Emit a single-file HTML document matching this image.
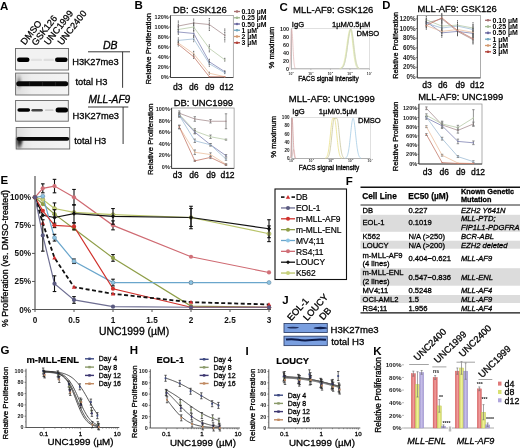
<!DOCTYPE html>
<html><head><meta charset="utf-8"><title>Figure</title>
<style>html,body{margin:0;padding:0;background:#fff;width:520px;height:448px;overflow:hidden;font-family:"Liberation Sans",sans-serif}svg{display:block;filter:blur(0.4px)}</style>
</head><body>
<svg width="520" height="448" viewBox="0 0 520 448" font-family='"Liberation Sans", sans-serif'><defs>
<linearGradient id="bgA" x1="0" y1="0" x2="1" y2="0"><stop offset="0" stop-color="#dcdcdc"/><stop offset="0.3" stop-color="#eeeeee"/><stop offset="1" stop-color="#f4f4f4"/></linearGradient>
<linearGradient id="kR" x1="0" y1="0" x2="1" y2="0"><stop offset="0" stop-color="#d85c5c"/><stop offset="0.5" stop-color="#f0a0a0"/><stop offset="1" stop-color="#d85c5c"/></linearGradient>
<linearGradient id="kY" x1="0" y1="0" x2="1" y2="0"><stop offset="0" stop-color="#cfd860"/><stop offset="0.5" stop-color="#eef098"/><stop offset="1" stop-color="#cfd860"/></linearGradient>
<linearGradient id="kP" x1="0" y1="0" x2="1" y2="0"><stop offset="0" stop-color="#a096d0"/><stop offset="0.5" stop-color="#c8c0ea"/><stop offset="1" stop-color="#a096d0"/></linearGradient>
<linearGradient id="smC" x1="0" y1="0" x2="0" y2="1"><stop offset="0" stop-color="#111"/><stop offset="0.5" stop-color="#333"/><stop offset="1" stop-color="#777" stop-opacity="0.6"/></linearGradient>
<filter id="fb" x="-50%" y="-50%" width="200%" height="200%"><feGaussianBlur stdDeviation="0.8"/></filter>
<radialGradient id="smA"><stop offset="0" stop-color="#777"/><stop offset="1" stop-color="#ccc" stop-opacity="0"/></radialGradient>
<radialGradient id="smB"><stop offset="0" stop-color="#111"/><stop offset="0.6" stop-color="#444" stop-opacity="0.8"/><stop offset="1" stop-color="#999" stop-opacity="0"/></radialGradient>
</defs>
<text x="0" y="9.5" font-size="11.5" font-weight="bold" font-style="normal" text-anchor="start" fill="#000">A</text>
<text x="25" y="45.5" font-size="9.3" font-weight="normal" font-style="normal" text-anchor="start" fill="#000" transform="rotate(-52 25 45.5)" stroke="#000" stroke-width="0.25">DMSO</text>
<text x="36" y="46.2" font-size="9.3" font-weight="normal" font-style="normal" text-anchor="start" fill="#000" transform="rotate(-52 36 46.2)" stroke="#000" stroke-width="0.25">GSK126</text>
<text x="48.5" y="45.7" font-size="9.3" font-weight="normal" font-style="normal" text-anchor="start" fill="#000" transform="rotate(-52 48.5 45.7)" stroke="#000" stroke-width="0.25">UNC1999</text>
<text x="62" y="45.7" font-size="9.3" font-weight="normal" font-style="normal" text-anchor="start" fill="#000" transform="rotate(-52 62 45.7)" stroke="#000" stroke-width="0.25">UNC2400</text>
<rect x="15.5" y="48.5" width="53" height="21.5" fill="#f2f2f2" stroke="#666" stroke-width="0.9"/>
<rect x="17" y="57.5" width="12.5" height="4.4" rx="2.2" fill="#000" opacity="1"/>
<rect x="55" y="57.5" width="12.6" height="4.4" rx="2.2" fill="#000" opacity="1"/>
<rect x="31" y="58.7" width="11" height="2.4" rx="1.2" fill="#e2e2e2" opacity="1"/>
<rect x="43.5" y="58.7" width="10.5" height="2.4" rx="1.2" fill="#dedede" opacity="1"/>
<rect x="15.6" y="73.1" width="53.1" height="21.9" fill="url(#bgA)" stroke="#666" stroke-width="0.9"/>
<ellipse cx="19" cy="82" rx="4.5" ry="10" fill="url(#smA)"/>
<rect x="16.2" y="81.3" width="52" height="5" rx="2.5" fill="#080808" opacity="1"/>
<rect x="28.9" y="81.8" width="1.2" height="4" fill="#333" opacity="0.5"/>
<rect x="41.9" y="81.8" width="1.2" height="4" fill="#333" opacity="0.5"/>
<rect x="54.9" y="81.8" width="1.2" height="4" fill="#333" opacity="0.5"/>
<rect x="15.6" y="100.5" width="52.7" height="20.7" fill="#f2f2f2" stroke="#666" stroke-width="0.9"/>
<rect x="17.4" y="108.2" width="12.7" height="3.6" rx="1.8" fill="#000" opacity="1"/>
<rect x="31.4" y="108.9" width="11.4" height="2.6" rx="1.3" fill="#444" opacity="1"/>
<rect x="45" y="109.3" width="8.6" height="1.8" rx="0.9" fill="#cfcfcf" opacity="1"/>
<rect x="55.6" y="107.5" width="12.4" height="5" rx="2.5" fill="#000" opacity="1"/>
<rect x="16.2" y="127.5" width="53.5" height="21.5" fill="url(#bgA)" stroke="#666" stroke-width="0.9"/>
<path d="M16.8,138 L23,138 Q22,143 21,148.6 L16.8,148.6 Z" fill="url(#smC)" filter="url(#fb)"/>
<rect x="16.6" y="136.9" width="52.6" height="3.8" rx="1.9" fill="#080808" opacity="1"/>
<text x="72.2" y="64.8" font-size="9.3" font-weight="normal" font-style="normal" text-anchor="start" fill="#000" stroke="#000" stroke-width="0.3">H3K27me3</text>
<text x="75.4" y="85.2" font-size="9.3" font-weight="normal" font-style="normal" text-anchor="start" fill="#000" stroke="#000" stroke-width="0.3">total H3</text>
<text x="72.5" y="119.3" font-size="9.3" font-weight="normal" font-style="normal" text-anchor="start" fill="#000" stroke="#000" stroke-width="0.3">H3K27me3</text>
<text x="74.2" y="144.3" font-size="9.3" font-weight="normal" font-style="normal" text-anchor="start" fill="#000" stroke="#000" stroke-width="0.3">total H3</text>
<text x="117.5" y="48.8" font-size="10.5" font-weight="normal" font-style="italic" text-anchor="end" fill="#000" stroke="#000" stroke-width="0.3">DB</text>
<line x1="88" y1="51.8" x2="130" y2="51.8" stroke="#222" stroke-width="0.9"/>
<line x1="122.6" y1="51.8" x2="122.6" y2="87.8" stroke="#222" stroke-width="0.9"/>
<text x="130.3" y="102.7" font-size="10.2" font-weight="normal" font-style="italic" text-anchor="end" fill="#000" stroke="#000" stroke-width="0.3">MLL-AF9</text>
<line x1="88" y1="107" x2="128.3" y2="107" stroke="#222" stroke-width="0.9"/>
<line x1="123.1" y1="107" x2="123.1" y2="144" stroke="#222" stroke-width="0.9"/>
<text x="134.5" y="9.3" font-size="11.5" font-weight="bold" font-style="normal" text-anchor="start" fill="#000">B</text>
<rect x="170.5" y="15.5" width="62.8" height="62" fill="none" stroke="#8a8a8a" stroke-width="0.7"/>
<line x1="170.5" y1="15.5" x2="170.5" y2="77.5" stroke="#333" stroke-width="0.9"/>
<line x1="170.5" y1="77.5" x2="233.3" y2="77.5" stroke="#333" stroke-width="0.9"/>
<text x="168.7" y="78.7" font-size="5.5" font-weight="bold" font-style="normal" text-anchor="end" fill="#222">0%</text>
<line x1="169" y1="76.7" x2="170.5" y2="76.7" stroke="#333" stroke-width="0.6"/>
<text x="168.7" y="68.76" font-size="5.5" font-weight="bold" font-style="normal" text-anchor="end" fill="#222">20%</text>
<line x1="169" y1="66.76" x2="170.5" y2="66.76" stroke="#333" stroke-width="0.6"/>
<text x="168.7" y="58.82" font-size="5.5" font-weight="bold" font-style="normal" text-anchor="end" fill="#222">40%</text>
<line x1="169" y1="56.82" x2="170.5" y2="56.82" stroke="#333" stroke-width="0.6"/>
<text x="168.7" y="48.88" font-size="5.5" font-weight="bold" font-style="normal" text-anchor="end" fill="#222">60%</text>
<line x1="169" y1="46.88" x2="170.5" y2="46.88" stroke="#333" stroke-width="0.6"/>
<text x="168.7" y="38.94" font-size="5.5" font-weight="bold" font-style="normal" text-anchor="end" fill="#222">80%</text>
<line x1="169" y1="36.94" x2="170.5" y2="36.94" stroke="#333" stroke-width="0.6"/>
<text x="168.7" y="29" font-size="5.5" font-weight="bold" font-style="normal" text-anchor="end" fill="#222">100%</text>
<line x1="169" y1="27" x2="170.5" y2="27" stroke="#333" stroke-width="0.6"/>
<text x="168.7" y="19.06" font-size="5.5" font-weight="bold" font-style="normal" text-anchor="end" fill="#222">120%</text>
<line x1="169" y1="17.06" x2="170.5" y2="17.06" stroke="#333" stroke-width="0.6"/>
<polyline points="178.30,26.01 193.70,23.02 209.30,24.52 224.80,35.45" stroke="#a89092" stroke-width="0.8" fill="none"/>
<polyline points="178.30,29.49 193.70,27.00 209.30,48.37 224.80,59.80" stroke="#b8caa8" stroke-width="0.8" fill="none"/>
<polyline points="178.30,31.97 193.70,33.46 209.30,61.79 224.80,71.73" stroke="#8084b4" stroke-width="0.8" fill="none"/>
<polyline points="178.30,40.42 193.70,38.93 209.30,63.78 224.80,72.72" stroke="#a0bcd6" stroke-width="0.8" fill="none"/>
<polyline points="178.30,42.90 193.70,53.84 209.30,73.22 224.80,76.70" stroke="#ecc0a0" stroke-width="0.8" fill="none"/>
<polyline points="178.30,44.40 193.70,56.82 209.30,76.70 224.80,76.70" stroke="#c47a6a" stroke-width="0.8" fill="none"/>
<line x1="178.3" y1="20.539" x2="178.3" y2="31.473" stroke="#555" stroke-width="1" stroke-dasharray="1.2,0.5"/>
<line x1="193.7" y1="18.551" x2="193.7" y2="27.497" stroke="#555" stroke-width="1" stroke-dasharray="1.2,0.5"/>
<line x1="209.3" y1="18.054" x2="209.3" y2="30.976" stroke="#555" stroke-width="1" stroke-dasharray="1.2,0.5"/>
<line x1="224.8" y1="28.491" x2="224.8" y2="42.407" stroke="#555" stroke-width="1" stroke-dasharray="1.2,0.5"/>
<rect x="177.7" y="25.406" width="1.2" height="1.2" fill="#a89092" stroke="none" stroke-width="1"/>
<rect x="193.1" y="22.424" width="1.2" height="1.2" fill="#a89092" stroke="none" stroke-width="1"/>
<rect x="208.7" y="23.915" width="1.2" height="1.2" fill="#a89092" stroke="none" stroke-width="1"/>
<rect x="224.2" y="34.849" width="1.2" height="1.2" fill="#a89092" stroke="none" stroke-width="1"/>
<line x1="178.3" y1="25.509" x2="178.3" y2="33.461" stroke="#555" stroke-width="1" stroke-dasharray="1.2,0.5"/>
<line x1="193.7" y1="23.024" x2="193.7" y2="30.976" stroke="#555" stroke-width="1" stroke-dasharray="1.2,0.5"/>
<line x1="209.3" y1="44.395" x2="209.3" y2="52.347" stroke="#555" stroke-width="1" stroke-dasharray="1.2,0.5"/>
<line x1="224.8" y1="57.814" x2="224.8" y2="61.79" stroke="#555" stroke-width="1" stroke-dasharray="1.2,0.5"/>
<rect x="177.7" y="28.885" width="1.2" height="1.2" fill="#b8caa8" stroke="none" stroke-width="1"/>
<rect x="193.1" y="26.4" width="1.2" height="1.2" fill="#b8caa8" stroke="none" stroke-width="1"/>
<rect x="208.7" y="47.771" width="1.2" height="1.2" fill="#b8caa8" stroke="none" stroke-width="1"/>
<rect x="224.2" y="59.202" width="1.2" height="1.2" fill="#b8caa8" stroke="none" stroke-width="1"/>
<line x1="178.3" y1="28.988" x2="178.3" y2="34.952" stroke="#555" stroke-width="1" stroke-dasharray="1.2,0.5"/>
<line x1="193.7" y1="29.485" x2="193.7" y2="37.437" stroke="#555" stroke-width="1" stroke-dasharray="1.2,0.5"/>
<line x1="209.3" y1="58.808" x2="209.3" y2="64.772" stroke="#555" stroke-width="1" stroke-dasharray="1.2,0.5"/>
<line x1="224.8" y1="70.239" x2="224.8" y2="73.221" stroke="#555" stroke-width="1" stroke-dasharray="1.2,0.5"/>
<rect x="177.7" y="31.37" width="1.2" height="1.2" fill="#8084b4" stroke="none" stroke-width="1"/>
<rect x="193.1" y="32.861" width="1.2" height="1.2" fill="#8084b4" stroke="none" stroke-width="1"/>
<rect x="208.7" y="61.19" width="1.2" height="1.2" fill="#8084b4" stroke="none" stroke-width="1"/>
<rect x="224.2" y="71.13" width="1.2" height="1.2" fill="#8084b4" stroke="none" stroke-width="1"/>
<line x1="178.3" y1="37.437" x2="178.3" y2="43.401" stroke="#555" stroke-width="1" stroke-dasharray="1.2,0.5"/>
<line x1="193.7" y1="35.449" x2="193.7" y2="42.407" stroke="#555" stroke-width="1" stroke-dasharray="1.2,0.5"/>
<line x1="209.3" y1="60.796" x2="209.3" y2="66.76" stroke="#555" stroke-width="1" stroke-dasharray="1.2,0.5"/>
<line x1="224.8" y1="71.233" x2="224.8" y2="74.215" stroke="#555" stroke-width="1" stroke-dasharray="1.2,0.5"/>
<rect x="177.7" y="39.819" width="1.2" height="1.2" fill="#a0bcd6" stroke="none" stroke-width="1"/>
<rect x="193.1" y="38.328" width="1.2" height="1.2" fill="#a0bcd6" stroke="none" stroke-width="1"/>
<rect x="208.7" y="63.178" width="1.2" height="1.2" fill="#a0bcd6" stroke="none" stroke-width="1"/>
<rect x="224.2" y="72.124" width="1.2" height="1.2" fill="#a0bcd6" stroke="none" stroke-width="1"/>
<line x1="178.3" y1="40.419" x2="178.3" y2="45.389" stroke="#555" stroke-width="1" stroke-dasharray="1.2,0.5"/>
<line x1="193.7" y1="50.856" x2="193.7" y2="56.82" stroke="#555" stroke-width="1" stroke-dasharray="1.2,0.5"/>
<line x1="209.3" y1="71.73" x2="209.3" y2="74.712" stroke="#555" stroke-width="1" stroke-dasharray="1.2,0.5"/>
<rect x="177.7" y="42.304" width="1.2" height="1.2" fill="#ecc0a0" stroke="none" stroke-width="1"/>
<rect x="193.1" y="53.238" width="1.2" height="1.2" fill="#ecc0a0" stroke="none" stroke-width="1"/>
<rect x="208.7" y="72.621" width="1.2" height="1.2" fill="#ecc0a0" stroke="none" stroke-width="1"/>
<rect x="224.2" y="76.1" width="1.2" height="1.2" fill="#ecc0a0" stroke="none" stroke-width="1"/>
<line x1="178.3" y1="41.91" x2="178.3" y2="46.88" stroke="#555" stroke-width="1" stroke-dasharray="1.2,0.5"/>
<line x1="193.7" y1="54.335" x2="193.7" y2="59.305" stroke="#555" stroke-width="1" stroke-dasharray="1.2,0.5"/>
<rect x="177.7" y="43.795" width="1.2" height="1.2" fill="#c47a6a" stroke="none" stroke-width="1"/>
<rect x="193.1" y="56.22" width="1.2" height="1.2" fill="#c47a6a" stroke="none" stroke-width="1"/>
<rect x="208.7" y="76.1" width="1.2" height="1.2" fill="#c47a6a" stroke="none" stroke-width="1"/>
<rect x="224.2" y="76.1" width="1.2" height="1.2" fill="#c47a6a" stroke="none" stroke-width="1"/>
<text x="177.8" y="90.1" font-size="8.5" font-weight="normal" font-style="normal" text-anchor="middle" fill="#000" stroke="#000" stroke-width="0.3">d3</text>
<text x="193.8" y="90.1" font-size="8.5" font-weight="normal" font-style="normal" text-anchor="middle" fill="#000" stroke="#000" stroke-width="0.3">d6</text>
<text x="209.8" y="90.1" font-size="8.5" font-weight="normal" font-style="normal" text-anchor="middle" fill="#000" stroke="#000" stroke-width="0.3">d9</text>
<text x="226.5" y="90.1" font-size="8.5" font-weight="normal" font-style="normal" text-anchor="middle" fill="#000" stroke="#000" stroke-width="0.3">d12</text>
<text x="173" y="12.7" font-size="9.4" font-weight="normal" font-style="normal" text-anchor="start" fill="#000" stroke="#000" stroke-width="0.3">DB: GSK126</text>
<text x="150.6" y="48.7" font-size="7.75" font-weight="normal" font-style="normal" text-anchor="middle" fill="#000" transform="rotate(-90 150.6 48.7)" stroke="#000" stroke-width="0.3">Relative Proliferation</text>
<line x1="234" y1="11.5" x2="240" y2="11.5" stroke="#a87070" stroke-width="1.3"/>
<circle cx="237" cy="11.5" r="1.3" fill="#a87070" stroke="none" stroke-width="1"/>
<text x="241.5" y="14" font-size="6.9" font-weight="bold" font-style="normal" text-anchor="start" fill="#000">0.10 µM</text>
<line x1="234" y1="17.75" x2="240" y2="17.75" stroke="#a0b890" stroke-width="1.3"/>
<circle cx="237" cy="17.75" r="1.3" fill="#a0b890" stroke="none" stroke-width="1"/>
<text x="241.5" y="20.25" font-size="6.9" font-weight="bold" font-style="normal" text-anchor="start" fill="#000">0.25 µM</text>
<line x1="234" y1="24" x2="240" y2="24" stroke="#6a68a0" stroke-width="1.3"/>
<circle cx="237" cy="24" r="1.3" fill="#6a68a0" stroke="none" stroke-width="1"/>
<text x="241.5" y="26.5" font-size="6.9" font-weight="bold" font-style="normal" text-anchor="start" fill="#000">0.50 µM</text>
<line x1="234" y1="30.25" x2="240" y2="30.25" stroke="#72a8c0" stroke-width="1.3"/>
<circle cx="237" cy="30.25" r="1.3" fill="#72a8c0" stroke="none" stroke-width="1"/>
<text x="241.5" y="32.75" font-size="6.9" font-weight="bold" font-style="normal" text-anchor="start" fill="#000">1 µM</text>
<line x1="234" y1="36.5" x2="240" y2="36.5" stroke="#d49a70" stroke-width="1.3"/>
<circle cx="237" cy="36.5" r="1.3" fill="#d49a70" stroke="none" stroke-width="1"/>
<text x="241.5" y="39" font-size="6.9" font-weight="bold" font-style="normal" text-anchor="start" fill="#000">2 µM</text>
<line x1="234" y1="42.75" x2="240" y2="42.75" stroke="#b04038" stroke-width="1.3"/>
<circle cx="237" cy="42.75" r="1.3" fill="#b04038" stroke="none" stroke-width="1"/>
<text x="241.5" y="45.25" font-size="6.9" font-weight="bold" font-style="normal" text-anchor="start" fill="#000">3 µM</text>
<rect x="171.6" y="108" width="62.5" height="60.4" fill="none" stroke="#8a8a8a" stroke-width="0.7"/>
<line x1="171.6" y1="108" x2="171.6" y2="168.4" stroke="#333" stroke-width="0.9"/>
<line x1="171.6" y1="168.4" x2="234.1" y2="168.4" stroke="#333" stroke-width="0.9"/>
<text x="169.8" y="168.6" font-size="5.5" font-weight="bold" font-style="normal" text-anchor="end" fill="#222">0%</text>
<line x1="170.1" y1="166.6" x2="171.6" y2="166.6" stroke="#333" stroke-width="0.6"/>
<text x="169.8" y="157.12" font-size="5.5" font-weight="bold" font-style="normal" text-anchor="end" fill="#222">20%</text>
<line x1="170.1" y1="155.12" x2="171.6" y2="155.12" stroke="#333" stroke-width="0.6"/>
<text x="169.8" y="145.64" font-size="5.5" font-weight="bold" font-style="normal" text-anchor="end" fill="#222">40%</text>
<line x1="170.1" y1="143.64" x2="171.6" y2="143.64" stroke="#333" stroke-width="0.6"/>
<text x="169.8" y="134.16" font-size="5.5" font-weight="bold" font-style="normal" text-anchor="end" fill="#222">60%</text>
<line x1="170.1" y1="132.16" x2="171.6" y2="132.16" stroke="#333" stroke-width="0.6"/>
<text x="169.8" y="122.68" font-size="5.5" font-weight="bold" font-style="normal" text-anchor="end" fill="#222">80%</text>
<line x1="170.1" y1="120.68" x2="171.6" y2="120.68" stroke="#333" stroke-width="0.6"/>
<text x="169.8" y="111.2" font-size="5.5" font-weight="bold" font-style="normal" text-anchor="end" fill="#222">100%</text>
<line x1="170.1" y1="109.2" x2="171.6" y2="109.2" stroke="#333" stroke-width="0.6"/>
<polyline points="179.30,113.22 194.80,118.96 210.50,121.25 226.00,121.25" stroke="#a89092" stroke-width="0.8" fill="none"/>
<polyline points="179.30,114.37 194.80,131.01 210.50,136.75 226.00,139.62" stroke="#b8caa8" stroke-width="0.8" fill="none"/>
<polyline points="179.30,115.51 194.80,132.16 210.50,144.79 226.00,155.69" stroke="#8084b4" stroke-width="0.8" fill="none"/>
<polyline points="179.30,115.51 194.80,140.77 210.50,144.79 226.00,159.14" stroke="#a0bcd6" stroke-width="0.8" fill="none"/>
<polyline points="179.30,126.99 194.80,152.25 210.50,154.55 226.00,164.30" stroke="#ecc0a0" stroke-width="0.8" fill="none"/>
<polyline points="179.30,126.99 194.80,160.86 210.50,157.42 226.00,164.88" stroke="#c47a6a" stroke-width="0.8" fill="none"/>
<line x1="179.3" y1="110.922" x2="179.3" y2="115.514" stroke="#777" stroke-width="0.8"/>
<line x1="178.1" y1="110.922" x2="180.5" y2="110.922" stroke="#777" stroke-width="0.8"/>
<line x1="178.1" y1="115.514" x2="180.5" y2="115.514" stroke="#777" stroke-width="0.8"/>
<line x1="194.8" y1="116.662" x2="194.8" y2="121.254" stroke="#777" stroke-width="0.8"/>
<line x1="193.6" y1="116.662" x2="196" y2="116.662" stroke="#777" stroke-width="0.8"/>
<line x1="193.6" y1="121.254" x2="196" y2="121.254" stroke="#777" stroke-width="0.8"/>
<line x1="210.5" y1="119.532" x2="210.5" y2="122.976" stroke="#777" stroke-width="0.8"/>
<line x1="209.3" y1="119.532" x2="211.7" y2="119.532" stroke="#777" stroke-width="0.8"/>
<line x1="209.3" y1="122.976" x2="211.7" y2="122.976" stroke="#777" stroke-width="0.8"/>
<line x1="226" y1="113.792" x2="226" y2="128.716" stroke="#777" stroke-width="0.8"/>
<line x1="224.8" y1="113.792" x2="227.2" y2="113.792" stroke="#777" stroke-width="0.8"/>
<line x1="224.8" y1="128.716" x2="227.2" y2="128.716" stroke="#777" stroke-width="0.8"/>
<rect x="178.7" y="112.618" width="1.2" height="1.2" fill="#a89092" stroke="none" stroke-width="1"/>
<rect x="194.2" y="118.358" width="1.2" height="1.2" fill="#a89092" stroke="none" stroke-width="1"/>
<rect x="209.9" y="120.654" width="1.2" height="1.2" fill="#a89092" stroke="none" stroke-width="1"/>
<rect x="225.4" y="120.654" width="1.2" height="1.2" fill="#a89092" stroke="none" stroke-width="1"/>
<line x1="179.3" y1="112.644" x2="179.3" y2="116.088" stroke="#777" stroke-width="0.8"/>
<line x1="178.1" y1="112.644" x2="180.5" y2="112.644" stroke="#777" stroke-width="0.8"/>
<line x1="178.1" y1="116.088" x2="180.5" y2="116.088" stroke="#777" stroke-width="0.8"/>
<line x1="194.8" y1="128.716" x2="194.8" y2="133.308" stroke="#777" stroke-width="0.8"/>
<line x1="193.6" y1="128.716" x2="196" y2="128.716" stroke="#777" stroke-width="0.8"/>
<line x1="193.6" y1="133.308" x2="196" y2="133.308" stroke="#777" stroke-width="0.8"/>
<line x1="210.5" y1="135.03" x2="210.5" y2="138.474" stroke="#777" stroke-width="0.8"/>
<line x1="209.3" y1="135.03" x2="211.7" y2="135.03" stroke="#777" stroke-width="0.8"/>
<line x1="209.3" y1="138.474" x2="211.7" y2="138.474" stroke="#777" stroke-width="0.8"/>
<line x1="226" y1="139.048" x2="226" y2="140.196" stroke="#777" stroke-width="0.8"/>
<line x1="224.8" y1="139.048" x2="227.2" y2="139.048" stroke="#777" stroke-width="0.8"/>
<line x1="224.8" y1="140.196" x2="227.2" y2="140.196" stroke="#777" stroke-width="0.8"/>
<rect x="178.7" y="113.766" width="1.2" height="1.2" fill="#b8caa8" stroke="none" stroke-width="1"/>
<rect x="194.2" y="130.412" width="1.2" height="1.2" fill="#b8caa8" stroke="none" stroke-width="1"/>
<rect x="209.9" y="136.152" width="1.2" height="1.2" fill="#b8caa8" stroke="none" stroke-width="1"/>
<rect x="225.4" y="139.022" width="1.2" height="1.2" fill="#b8caa8" stroke="none" stroke-width="1"/>
<line x1="179.3" y1="113.792" x2="179.3" y2="117.236" stroke="#777" stroke-width="0.8"/>
<line x1="178.1" y1="113.792" x2="180.5" y2="113.792" stroke="#777" stroke-width="0.8"/>
<line x1="178.1" y1="117.236" x2="180.5" y2="117.236" stroke="#777" stroke-width="0.8"/>
<line x1="194.8" y1="130.438" x2="194.8" y2="133.882" stroke="#777" stroke-width="0.8"/>
<line x1="193.6" y1="130.438" x2="196" y2="130.438" stroke="#777" stroke-width="0.8"/>
<line x1="193.6" y1="133.882" x2="196" y2="133.882" stroke="#777" stroke-width="0.8"/>
<line x1="210.5" y1="143.64" x2="210.5" y2="145.936" stroke="#777" stroke-width="0.8"/>
<line x1="209.3" y1="143.64" x2="211.7" y2="143.64" stroke="#777" stroke-width="0.8"/>
<line x1="209.3" y1="145.936" x2="211.7" y2="145.936" stroke="#777" stroke-width="0.8"/>
<line x1="226" y1="154.546" x2="226" y2="156.842" stroke="#777" stroke-width="0.8"/>
<line x1="224.8" y1="154.546" x2="227.2" y2="154.546" stroke="#777" stroke-width="0.8"/>
<line x1="224.8" y1="156.842" x2="227.2" y2="156.842" stroke="#777" stroke-width="0.8"/>
<rect x="178.7" y="114.914" width="1.2" height="1.2" fill="#8084b4" stroke="none" stroke-width="1"/>
<rect x="194.2" y="131.56" width="1.2" height="1.2" fill="#8084b4" stroke="none" stroke-width="1"/>
<rect x="209.9" y="144.188" width="1.2" height="1.2" fill="#8084b4" stroke="none" stroke-width="1"/>
<rect x="225.4" y="155.094" width="1.2" height="1.2" fill="#8084b4" stroke="none" stroke-width="1"/>
<line x1="179.3" y1="114.366" x2="179.3" y2="116.662" stroke="#777" stroke-width="0.8"/>
<line x1="178.1" y1="114.366" x2="180.5" y2="114.366" stroke="#777" stroke-width="0.8"/>
<line x1="178.1" y1="116.662" x2="180.5" y2="116.662" stroke="#777" stroke-width="0.8"/>
<line x1="194.8" y1="139.048" x2="194.8" y2="142.492" stroke="#777" stroke-width="0.8"/>
<line x1="193.6" y1="139.048" x2="196" y2="139.048" stroke="#777" stroke-width="0.8"/>
<line x1="193.6" y1="142.492" x2="196" y2="142.492" stroke="#777" stroke-width="0.8"/>
<line x1="210.5" y1="143.64" x2="210.5" y2="145.936" stroke="#777" stroke-width="0.8"/>
<line x1="209.3" y1="143.64" x2="211.7" y2="143.64" stroke="#777" stroke-width="0.8"/>
<line x1="209.3" y1="145.936" x2="211.7" y2="145.936" stroke="#777" stroke-width="0.8"/>
<line x1="226" y1="157.99" x2="226" y2="160.286" stroke="#777" stroke-width="0.8"/>
<line x1="224.8" y1="157.99" x2="227.2" y2="157.99" stroke="#777" stroke-width="0.8"/>
<line x1="224.8" y1="160.286" x2="227.2" y2="160.286" stroke="#777" stroke-width="0.8"/>
<rect x="178.7" y="114.914" width="1.2" height="1.2" fill="#a0bcd6" stroke="none" stroke-width="1"/>
<rect x="194.2" y="140.17" width="1.2" height="1.2" fill="#a0bcd6" stroke="none" stroke-width="1"/>
<rect x="209.9" y="144.188" width="1.2" height="1.2" fill="#a0bcd6" stroke="none" stroke-width="1"/>
<rect x="225.4" y="158.538" width="1.2" height="1.2" fill="#a0bcd6" stroke="none" stroke-width="1"/>
<line x1="179.3" y1="125.272" x2="179.3" y2="128.716" stroke="#777" stroke-width="0.8"/>
<line x1="178.1" y1="125.272" x2="180.5" y2="125.272" stroke="#777" stroke-width="0.8"/>
<line x1="178.1" y1="128.716" x2="180.5" y2="128.716" stroke="#777" stroke-width="0.8"/>
<line x1="194.8" y1="149.954" x2="194.8" y2="154.546" stroke="#777" stroke-width="0.8"/>
<line x1="193.6" y1="149.954" x2="196" y2="149.954" stroke="#777" stroke-width="0.8"/>
<line x1="193.6" y1="154.546" x2="196" y2="154.546" stroke="#777" stroke-width="0.8"/>
<line x1="210.5" y1="152.824" x2="210.5" y2="156.268" stroke="#777" stroke-width="0.8"/>
<line x1="209.3" y1="152.824" x2="211.7" y2="152.824" stroke="#777" stroke-width="0.8"/>
<line x1="209.3" y1="156.268" x2="211.7" y2="156.268" stroke="#777" stroke-width="0.8"/>
<line x1="226" y1="163.73" x2="226" y2="164.878" stroke="#777" stroke-width="0.8"/>
<line x1="224.8" y1="163.73" x2="227.2" y2="163.73" stroke="#777" stroke-width="0.8"/>
<line x1="224.8" y1="164.878" x2="227.2" y2="164.878" stroke="#777" stroke-width="0.8"/>
<rect x="178.7" y="126.394" width="1.2" height="1.2" fill="#ecc0a0" stroke="none" stroke-width="1"/>
<rect x="194.2" y="151.65" width="1.2" height="1.2" fill="#ecc0a0" stroke="none" stroke-width="1"/>
<rect x="209.9" y="153.946" width="1.2" height="1.2" fill="#ecc0a0" stroke="none" stroke-width="1"/>
<rect x="225.4" y="163.704" width="1.2" height="1.2" fill="#ecc0a0" stroke="none" stroke-width="1"/>
<line x1="179.3" y1="125.272" x2="179.3" y2="128.716" stroke="#777" stroke-width="0.8"/>
<line x1="178.1" y1="125.272" x2="180.5" y2="125.272" stroke="#777" stroke-width="0.8"/>
<line x1="178.1" y1="128.716" x2="180.5" y2="128.716" stroke="#777" stroke-width="0.8"/>
<line x1="194.8" y1="160.286" x2="194.8" y2="161.434" stroke="#777" stroke-width="0.8"/>
<line x1="193.6" y1="160.286" x2="196" y2="160.286" stroke="#777" stroke-width="0.8"/>
<line x1="193.6" y1="161.434" x2="196" y2="161.434" stroke="#777" stroke-width="0.8"/>
<line x1="210.5" y1="156.268" x2="210.5" y2="158.564" stroke="#777" stroke-width="0.8"/>
<line x1="209.3" y1="156.268" x2="211.7" y2="156.268" stroke="#777" stroke-width="0.8"/>
<line x1="209.3" y1="158.564" x2="211.7" y2="158.564" stroke="#777" stroke-width="0.8"/>
<line x1="226" y1="164.304" x2="226" y2="165.452" stroke="#777" stroke-width="0.8"/>
<line x1="224.8" y1="164.304" x2="227.2" y2="164.304" stroke="#777" stroke-width="0.8"/>
<line x1="224.8" y1="165.452" x2="227.2" y2="165.452" stroke="#777" stroke-width="0.8"/>
<rect x="178.7" y="126.394" width="1.2" height="1.2" fill="#c47a6a" stroke="none" stroke-width="1"/>
<rect x="194.2" y="160.26" width="1.2" height="1.2" fill="#c47a6a" stroke="none" stroke-width="1"/>
<rect x="209.9" y="156.816" width="1.2" height="1.2" fill="#c47a6a" stroke="none" stroke-width="1"/>
<rect x="225.4" y="164.278" width="1.2" height="1.2" fill="#c47a6a" stroke="none" stroke-width="1"/>
<text x="177.5" y="178.1" font-size="8.5" font-weight="normal" font-style="normal" text-anchor="middle" fill="#000" stroke="#000" stroke-width="0.3">d3</text>
<text x="194" y="178.1" font-size="8.5" font-weight="normal" font-style="normal" text-anchor="middle" fill="#000" stroke="#000" stroke-width="0.3">d6</text>
<text x="211" y="178.1" font-size="8.5" font-weight="normal" font-style="normal" text-anchor="middle" fill="#000" stroke="#000" stroke-width="0.3">d9</text>
<text x="227.5" y="178.1" font-size="8.5" font-weight="normal" font-style="normal" text-anchor="middle" fill="#000" stroke="#000" stroke-width="0.3">d12</text>
<text x="173.7" y="105.6" font-size="9.4" font-weight="normal" font-style="normal" text-anchor="start" fill="#000" stroke="#000" stroke-width="0.3">DB: UNC1999</text>
<text x="152.6" y="139.2" font-size="7.75" font-weight="normal" font-style="normal" text-anchor="middle" fill="#000" transform="rotate(-90 152.6 139.2)" stroke="#000" stroke-width="0.3">Relative Proliferation</text>
<text x="279.5" y="10.5" font-size="11.5" font-weight="bold" font-style="normal" text-anchor="start" fill="#000">C</text>
<rect x="291.3" y="28.5" width="78.2" height="40.3" fill="none" stroke="#ccc" stroke-width="0.6"/>
<line x1="291.3" y1="28.5" x2="291.3" y2="68.8" stroke="#999" stroke-width="0.7"/>
<line x1="291.3" y1="68.8" x2="369.5" y2="68.8" stroke="#999" stroke-width="0.7"/>
<text x="293" y="13.4" font-size="9.5" font-weight="normal" font-style="normal" text-anchor="start" fill="#000" stroke="#000" stroke-width="0.3">MLL-AF9: GSK126</text>
<text x="291.8" y="27" font-size="7.6" font-weight="normal" font-style="normal" text-anchor="start" fill="#000" stroke="#000" stroke-width="0.3">IgG</text>
<text x="332" y="27" font-size="7.6" font-weight="normal" font-style="normal" text-anchor="start" fill="#000" stroke="#000" stroke-width="0.3">1µM/0.5µM</text>
<text x="356.5" y="35.5" font-size="7.6" font-weight="normal" font-style="normal" text-anchor="start" fill="#000" stroke="#000" stroke-width="0.3">DMSO</text>
<text x="289" y="70.852" font-size="5.4" font-weight="bold" font-style="normal" text-anchor="end" fill="#222">0</text>
<text x="289" y="62.792" font-size="5.4" font-weight="bold" font-style="normal" text-anchor="end" fill="#222">20</text>
<text x="289" y="54.732" font-size="5.4" font-weight="bold" font-style="normal" text-anchor="end" fill="#222">40</text>
<text x="289" y="46.672" font-size="5.4" font-weight="bold" font-style="normal" text-anchor="end" fill="#222">60</text>
<text x="289" y="38.612" font-size="5.4" font-weight="bold" font-style="normal" text-anchor="end" fill="#222">80</text>
<text x="289" y="30.552" font-size="5.4" font-weight="bold" font-style="normal" text-anchor="end" fill="#222">100</text>
<text x="290.5" y="74.5" font-size="3.4" font-weight="bold" font-style="normal" text-anchor="middle" fill="#333">10</text>
<text x="292.6" y="73.1" font-size="2.4" font-weight="bold" font-style="normal" text-anchor="start" fill="#333">0</text>
<line x1="291.3" y1="68.8" x2="291.3" y2="70" stroke="#999" stroke-width="0.5"/>
<text x="310.05" y="74.5" font-size="3.4" font-weight="bold" font-style="normal" text-anchor="middle" fill="#333">10</text>
<text x="312.15" y="73.1" font-size="2.4" font-weight="bold" font-style="normal" text-anchor="start" fill="#333">1</text>
<line x1="310.85" y1="68.8" x2="310.85" y2="70" stroke="#999" stroke-width="0.5"/>
<text x="329.6" y="74.5" font-size="3.4" font-weight="bold" font-style="normal" text-anchor="middle" fill="#333">10</text>
<text x="331.7" y="73.1" font-size="2.4" font-weight="bold" font-style="normal" text-anchor="start" fill="#333">2</text>
<line x1="330.4" y1="68.8" x2="330.4" y2="70" stroke="#999" stroke-width="0.5"/>
<text x="349.15" y="74.5" font-size="3.4" font-weight="bold" font-style="normal" text-anchor="middle" fill="#333">10</text>
<text x="351.25" y="73.1" font-size="2.4" font-weight="bold" font-style="normal" text-anchor="start" fill="#333">3</text>
<line x1="349.95" y1="68.8" x2="349.95" y2="70" stroke="#999" stroke-width="0.5"/>
<text x="368.7" y="74.5" font-size="3.4" font-weight="bold" font-style="normal" text-anchor="middle" fill="#333">10</text>
<text x="370.8" y="73.1" font-size="2.4" font-weight="bold" font-style="normal" text-anchor="start" fill="#333">4</text>
<line x1="369.5" y1="68.8" x2="369.5" y2="70" stroke="#999" stroke-width="0.5"/>
<text x="328.4" y="80.7" font-size="6.4" font-weight="normal" font-style="normal" text-anchor="middle" fill="#000" stroke="#000" stroke-width="0.3">FACS signal intensity</text>
<text x="274.2" y="47.5" font-size="7.6" font-weight="normal" font-style="normal" text-anchor="middle" fill="#000" transform="rotate(-90 274.2 47.5)" stroke="#000" stroke-width="0.3">% maximum</text>
<polyline points="289.14,68.56 289.20,68.50 289.27,68.41 289.33,68.31 289.40,68.18 289.46,68.02 289.52,67.82 289.59,67.59 289.65,67.31 289.72,66.98 289.78,66.58 289.84,66.12 289.91,65.59 289.97,64.97 290.04,64.26 290.10,63.46 290.16,62.55 290.23,61.53 290.29,60.41 290.36,59.17 290.42,57.82 290.48,56.36 290.55,54.80 290.61,53.14 290.68,51.39 290.74,49.58 290.80,47.71 290.87,45.80 290.93,43.89 291.00,41.99 291.06,40.12 291.12,38.32 291.19,36.62 291.25,35.04 291.32,33.60 291.38,32.34 291.44,31.28 291.51,30.43 291.57,29.81 291.64,29.43 291.70,29.31 291.80,29.43 291.89,29.81 291.99,30.43 292.08,31.28 292.18,32.34 292.28,33.60 292.37,35.04 292.47,36.62 292.56,38.32 292.66,40.12 292.76,41.99 292.85,43.89 292.95,45.80 293.04,47.71 293.14,49.58 293.24,51.39 293.33,53.14 293.43,54.80 293.52,56.36 293.62,57.82 293.72,59.17 293.81,60.41 293.91,61.53 294.00,62.55 294.10,63.46 294.20,64.26 294.29,64.97 294.39,65.59 294.48,66.12 294.58,66.58 294.68,66.98 294.77,67.31 294.87,67.59 294.96,67.82 295.06,68.02 295.16,68.18 295.25,68.31 295.35,68.41 295.44,68.50 295.54,68.56" stroke="#e0b0b0" stroke-width="0.7" fill="none"/>
<polyline points="341.00,68.56 341.24,68.50 341.48,68.41 341.72,68.31 341.96,68.18 342.20,68.02 342.44,67.82 342.68,67.59 342.92,67.31 343.16,66.98 343.40,66.58 343.64,66.12 343.88,65.59 344.12,64.97 344.36,64.26 344.60,63.46 344.84,62.55 345.08,61.53 345.32,60.41 345.56,59.17 345.80,57.82 346.04,56.36 346.28,54.80 346.52,53.14 346.76,51.39 347.00,49.58 347.24,47.71 347.48,45.80 347.72,43.89 347.96,41.99 348.20,40.12 348.44,38.32 348.68,36.62 348.92,35.04 349.16,33.60 349.40,32.34 349.64,31.28 349.88,30.43 350.12,29.81 350.36,29.43 350.60,29.31 350.81,29.43 351.02,29.81 351.22,30.43 351.43,31.28 351.64,32.34 351.85,33.60 352.06,35.04 352.26,36.62 352.47,38.32 352.68,40.12 352.89,41.99 353.10,43.89 353.30,45.80 353.51,47.71 353.72,49.58 353.93,51.39 354.14,53.14 354.34,54.80 354.55,56.36 354.76,57.82 354.97,59.17 355.18,60.41 355.38,61.53 355.59,62.55 355.80,63.46 356.01,64.26 356.22,64.97 356.42,65.59 356.63,66.12 356.84,66.58 357.05,66.98 357.26,67.31 357.46,67.59 357.67,67.82 357.88,68.02 358.09,68.18 358.30,68.31 358.50,68.41 358.71,68.50 358.92,68.56" stroke="#c8d4e4" stroke-width="0.7" fill="none"/>
<polyline points="339.64,68.56 339.90,68.50 340.17,68.41 340.43,68.31 340.70,68.18 340.96,68.02 341.22,67.82 341.49,67.59 341.75,67.31 342.02,66.98 342.28,66.58 342.54,66.12 342.81,65.59 343.07,64.97 343.34,64.26 343.60,63.46 343.86,62.55 344.13,61.53 344.39,60.41 344.66,59.17 344.92,57.82 345.18,56.36 345.45,54.80 345.71,53.14 345.98,51.39 346.24,49.58 346.50,47.71 346.77,45.80 347.03,43.89 347.30,41.99 347.56,40.12 347.82,38.32 348.09,36.62 348.35,35.04 348.62,33.60 348.88,32.34 349.14,31.28 349.41,30.43 349.67,29.81 349.94,29.43 350.20,29.31 350.41,29.43 350.62,29.81 350.82,30.43 351.03,31.28 351.24,32.34 351.45,33.60 351.66,35.04 351.86,36.62 352.07,38.32 352.28,40.12 352.49,41.99 352.70,43.89 352.90,45.80 353.11,47.71 353.32,49.58 353.53,51.39 353.74,53.14 353.94,54.80 354.15,56.36 354.36,57.82 354.57,59.17 354.78,60.41 354.98,61.53 355.19,62.55 355.40,63.46 355.61,64.26 355.82,64.97 356.02,65.59 356.23,66.12 356.44,66.58 356.65,66.98 356.86,67.31 357.06,67.59 357.27,67.82 357.48,68.02 357.69,68.18 357.90,68.31 358.10,68.41 358.31,68.50 358.52,68.56" stroke="#e6eca8" stroke-width="0.8" fill="none"/>
<polyline points="340.56,68.56 340.82,68.50 341.07,68.41 341.33,68.31 341.58,68.18 341.84,68.02 342.10,67.82 342.35,67.59 342.61,67.31 342.86,66.98 343.12,66.58 343.38,66.12 343.63,65.59 343.89,64.97 344.14,64.26 344.40,63.46 344.66,62.55 344.91,61.53 345.17,60.41 345.42,59.17 345.68,57.82 345.94,56.36 346.19,54.80 346.45,53.14 346.70,51.39 346.96,49.58 347.22,47.71 347.47,45.80 347.73,43.89 347.98,41.99 348.24,40.12 348.50,38.32 348.75,36.62 349.01,35.04 349.26,33.60 349.52,32.34 349.78,31.28 350.03,30.43 350.29,29.81 350.54,29.43 350.80,29.31 351.02,29.43 351.25,29.81 351.47,30.43 351.70,31.28 351.92,32.34 352.14,33.60 352.37,35.04 352.59,36.62 352.82,38.32 353.04,40.12 353.26,41.99 353.49,43.89 353.71,45.80 353.94,47.71 354.16,49.58 354.38,51.39 354.61,53.14 354.83,54.80 355.06,56.36 355.28,57.82 355.50,59.17 355.73,60.41 355.95,61.53 356.18,62.55 356.40,63.46 356.62,64.26 356.85,64.97 357.07,65.59 357.30,66.12 357.52,66.58 357.74,66.98 357.97,67.31 358.19,67.59 358.42,67.82 358.64,68.02 358.86,68.18 359.09,68.31 359.31,68.41 359.54,68.50 359.76,68.56" stroke="#ccd6a0" stroke-width="0.7" fill="none"/>
<polyline points="340.32,68.56 340.59,68.50 340.86,68.41 341.14,68.31 341.41,68.18 341.68,68.02 341.95,67.82 342.22,67.59 342.50,67.31 342.77,66.98 343.04,66.58 343.31,66.12 343.58,65.59 343.86,64.97 344.13,64.26 344.40,63.46 344.67,62.55 344.94,61.53 345.22,60.41 345.49,59.17 345.76,57.82 346.03,56.36 346.30,54.80 346.58,53.14 346.85,51.39 347.12,49.58 347.39,47.71 347.66,45.80 347.94,43.89 348.21,41.99 348.48,40.12 348.75,38.32 349.02,36.62 349.30,35.04 349.57,33.60 349.84,32.34 350.11,31.28 350.38,30.43 350.66,29.81 350.93,29.43 351.20,29.31 351.42,29.43 351.63,29.81 351.85,30.43 352.06,31.28 352.28,32.34 352.50,33.60 352.71,35.04 352.93,36.62 353.14,38.32 353.36,40.12 353.58,41.99 353.79,43.89 354.01,45.80 354.22,47.71 354.44,49.58 354.66,51.39 354.87,53.14 355.09,54.80 355.30,56.36 355.52,57.82 355.74,59.17 355.95,60.41 356.17,61.53 356.38,62.55 356.60,63.46 356.82,64.26 357.03,64.97 357.25,65.59 357.46,66.12 357.68,66.58 357.90,66.98 358.11,67.31 358.33,67.59 358.54,67.82 358.76,68.02 358.98,68.18 359.19,68.31 359.41,68.41 359.62,68.50 359.84,68.56" stroke="#d4d8bc" stroke-width="0.7" fill="none"/>
<rect x="291.8" y="117.5" width="78.5" height="41" fill="none" stroke="#ccc" stroke-width="0.6"/>
<line x1="291.8" y1="117.5" x2="291.8" y2="158.5" stroke="#999" stroke-width="0.7"/>
<line x1="291.8" y1="158.5" x2="370.3" y2="158.5" stroke="#999" stroke-width="0.7"/>
<text x="288.8" y="102.4" font-size="9.5" font-weight="normal" font-style="normal" text-anchor="start" fill="#000" stroke="#000" stroke-width="0.3">MLL-AF9: UNC1999</text>
<text x="292.3" y="113.8" font-size="7.6" font-weight="normal" font-style="normal" text-anchor="start" fill="#000" stroke="#000" stroke-width="0.3">IgG</text>
<text x="318.8" y="113.8" font-size="7.6" font-weight="normal" font-style="normal" text-anchor="start" fill="#000" stroke="#000" stroke-width="0.3">1µM/0.5µM</text>
<text x="358" y="122.5" font-size="7.6" font-weight="normal" font-style="normal" text-anchor="start" fill="#000" stroke="#000" stroke-width="0.3">DMSO</text>
<text x="289.5" y="160.248" font-size="4.6" font-weight="bold" font-style="normal" text-anchor="end" fill="#222">0</text>
<text x="289.5" y="152.048" font-size="4.6" font-weight="bold" font-style="normal" text-anchor="end" fill="#222">20</text>
<text x="289.5" y="143.848" font-size="4.6" font-weight="bold" font-style="normal" text-anchor="end" fill="#222">40</text>
<text x="289.5" y="135.648" font-size="4.6" font-weight="bold" font-style="normal" text-anchor="end" fill="#222">60</text>
<text x="289.5" y="127.448" font-size="4.6" font-weight="bold" font-style="normal" text-anchor="end" fill="#222">80</text>
<text x="289.5" y="119.248" font-size="4.6" font-weight="bold" font-style="normal" text-anchor="end" fill="#222">100</text>
<text x="291" y="161.5" font-size="3.4" font-weight="bold" font-style="normal" text-anchor="middle" fill="#333">10</text>
<text x="293.1" y="160.1" font-size="2.4" font-weight="bold" font-style="normal" text-anchor="start" fill="#333">0</text>
<line x1="291.8" y1="158.5" x2="291.8" y2="159.7" stroke="#999" stroke-width="0.5"/>
<text x="310.625" y="161.5" font-size="3.4" font-weight="bold" font-style="normal" text-anchor="middle" fill="#333">10</text>
<text x="312.725" y="160.1" font-size="2.4" font-weight="bold" font-style="normal" text-anchor="start" fill="#333">1</text>
<line x1="311.425" y1="158.5" x2="311.425" y2="159.7" stroke="#999" stroke-width="0.5"/>
<text x="330.25" y="161.5" font-size="3.4" font-weight="bold" font-style="normal" text-anchor="middle" fill="#333">10</text>
<text x="332.35" y="160.1" font-size="2.4" font-weight="bold" font-style="normal" text-anchor="start" fill="#333">2</text>
<line x1="331.05" y1="158.5" x2="331.05" y2="159.7" stroke="#999" stroke-width="0.5"/>
<text x="349.875" y="161.5" font-size="3.4" font-weight="bold" font-style="normal" text-anchor="middle" fill="#333">10</text>
<text x="351.975" y="160.1" font-size="2.4" font-weight="bold" font-style="normal" text-anchor="start" fill="#333">3</text>
<line x1="350.675" y1="158.5" x2="350.675" y2="159.7" stroke="#999" stroke-width="0.5"/>
<text x="369.5" y="161.5" font-size="3.4" font-weight="bold" font-style="normal" text-anchor="middle" fill="#333">10</text>
<text x="371.6" y="160.1" font-size="2.4" font-weight="bold" font-style="normal" text-anchor="start" fill="#333">4</text>
<line x1="370.3" y1="158.5" x2="370.3" y2="159.7" stroke="#999" stroke-width="0.5"/>
<text x="329.05" y="170" font-size="6.4" font-weight="normal" font-style="normal" text-anchor="middle" fill="#000" stroke="#000" stroke-width="0.3">FACS signal intensity</text>
<text x="276.3" y="136.8" font-size="7.6" font-weight="normal" font-style="normal" text-anchor="middle" fill="#000" transform="rotate(-90 276.3 136.8)" stroke="#000" stroke-width="0.3">% maximum</text>
<polyline points="290.18,158.26 290.23,158.19 290.28,158.10 290.32,158.00 290.37,157.86 290.42,157.70 290.47,157.51 290.52,157.27 290.56,156.98 290.61,156.64 290.66,156.24 290.71,155.78 290.76,155.23 290.80,154.60 290.85,153.88 290.90,153.06 290.95,152.14 291.00,151.11 291.04,149.96 291.09,148.70 291.14,147.33 291.19,145.84 291.24,144.25 291.28,142.56 291.33,140.79 291.38,138.94 291.43,137.04 291.48,135.10 291.52,133.16 291.57,131.22 291.62,129.32 291.67,127.49 291.72,125.76 291.76,124.15 291.81,122.69 291.86,121.41 291.91,120.33 291.96,119.46 292.00,118.83 292.05,118.45 292.10,118.32 292.18,118.45 292.26,118.83 292.34,119.46 292.42,120.33 292.50,121.41 292.58,122.69 292.66,124.15 292.74,125.76 292.82,127.49 292.90,129.32 292.98,131.22 293.06,133.16 293.14,135.10 293.22,137.04 293.30,138.94 293.38,140.79 293.46,142.56 293.54,144.25 293.62,145.84 293.70,147.33 293.78,148.70 293.86,149.96 293.94,151.11 294.02,152.14 294.10,153.06 294.18,153.88 294.26,154.60 294.34,155.23 294.42,155.78 294.50,156.24 294.58,156.64 294.66,156.98 294.74,157.27 294.82,157.51 294.90,157.70 294.98,157.86 295.06,158.00 295.14,158.10 295.22,158.19 295.30,158.26" stroke="#d09090" stroke-width="0.7" fill="none"/>
<polyline points="325.17,158.26 325.36,158.19 325.55,158.10 325.75,158.00 325.94,157.86 326.13,157.70 326.32,157.51 326.51,157.27 326.71,156.98 326.90,156.64 327.09,156.24 327.28,155.78 327.47,155.23 327.67,154.60 327.86,153.88 328.05,153.06 328.24,152.14 328.43,151.11 328.63,149.96 328.82,148.70 329.01,147.33 329.20,145.84 329.39,144.25 329.59,142.56 329.78,140.79 329.97,138.94 330.16,137.04 330.35,135.10 330.55,133.16 330.74,131.22 330.93,129.32 331.12,127.49 331.31,125.76 331.51,124.15 331.70,122.69 331.89,121.41 332.08,120.33 332.27,119.46 332.47,118.83 332.66,118.45 334.35,118.32 334.54,118.45 334.73,118.83 334.93,119.46 335.12,120.33 335.31,121.41 335.50,122.69 335.69,124.15 335.89,125.76 336.08,127.49 336.27,129.32 336.46,131.22 336.65,133.16 336.85,135.10 337.04,137.04 337.23,138.94 337.42,140.79 337.61,142.56 337.81,144.25 338.00,145.84 338.19,147.33 338.38,148.70 338.57,149.96 338.77,151.11 338.96,152.14 339.15,153.06 339.34,153.88 339.53,154.60 339.73,155.23 339.92,155.78 340.11,156.24 340.30,156.64 340.49,156.98 340.69,157.27 340.88,157.51 341.07,157.70 341.26,157.86 341.45,158.00 341.65,158.10 341.84,158.19 342.03,158.26" stroke="#e8e088" stroke-width="0.8" fill="none"/>
<polyline points="326.67,158.26 326.86,158.19 327.05,158.10 327.25,158.00 327.44,157.86 327.63,157.70 327.82,157.51 328.01,157.27 328.21,156.98 328.40,156.64 328.59,156.24 328.78,155.78 328.97,155.23 329.17,154.60 329.36,153.88 329.55,153.06 329.74,152.14 329.93,151.11 330.13,149.96 330.32,148.70 330.51,147.33 330.70,145.84 330.89,144.25 331.09,142.56 331.28,140.79 331.47,138.94 331.66,137.04 331.85,135.10 332.05,133.16 332.24,131.22 332.43,129.32 332.62,127.49 332.81,125.76 333.01,124.15 333.20,122.69 333.39,121.41 333.58,120.33 333.77,119.46 333.97,118.83 334.16,118.45 336.85,118.32 337.04,118.45 337.23,118.83 337.43,119.46 337.62,120.33 337.81,121.41 338.00,122.69 338.19,124.15 338.39,125.76 338.58,127.49 338.77,129.32 338.96,131.22 339.15,133.16 339.35,135.10 339.54,137.04 339.73,138.94 339.92,140.79 340.11,142.56 340.31,144.25 340.50,145.84 340.69,147.33 340.88,148.70 341.07,149.96 341.27,151.11 341.46,152.14 341.65,153.06 341.84,153.88 342.03,154.60 342.23,155.23 342.42,155.78 342.61,156.24 342.80,156.64 342.99,156.98 343.19,157.27 343.38,157.51 343.57,157.70 343.76,157.86 343.95,158.00 344.15,158.10 344.34,158.19 344.53,158.26" stroke="#c8c49c" stroke-width="0.8" fill="none"/>
<polyline points="345.10,158.26 345.30,158.19 345.50,158.10 345.70,158.00 345.90,157.86 346.10,157.70 346.30,157.51 346.50,157.27 346.70,156.98 346.90,156.64 347.10,156.24 347.30,155.78 347.50,155.23 347.70,154.60 347.90,153.88 348.10,153.06 348.30,152.14 348.50,151.11 348.70,149.96 348.90,148.70 349.10,147.33 349.30,145.84 349.50,144.25 349.70,142.56 349.90,140.79 350.10,138.94 350.30,137.04 350.50,135.10 350.70,133.16 350.90,131.22 351.10,129.32 351.30,127.49 351.50,125.76 351.70,124.15 351.90,122.69 352.10,121.41 352.30,120.33 352.50,119.46 352.70,118.83 352.90,118.45 353.10,118.32 353.30,118.45 353.50,118.83 353.70,119.46 353.90,120.33 354.10,121.41 354.30,122.69 354.50,124.15 354.70,125.76 354.90,127.49 355.10,129.32 355.30,131.22 355.50,133.16 355.70,135.10 355.90,137.04 356.10,138.94 356.30,140.79 356.50,142.56 356.70,144.25 356.90,145.84 357.10,147.33 357.30,148.70 357.50,149.96 357.70,151.11 357.90,152.14 358.10,153.06 358.30,153.88 358.50,154.60 358.70,155.23 358.90,155.78 359.10,156.24 359.30,156.64 359.50,156.98 359.70,157.27 359.90,157.51 360.10,157.70 360.30,157.86 360.50,158.00 360.70,158.10 360.90,158.19 361.10,158.26" stroke="#a4cce4" stroke-width="0.8" fill="none"/>
<polyline points="292.00,156.64 292.10,156.25 292.20,155.81 292.30,155.32 292.40,154.79 292.50,154.23 292.60,153.63 292.70,153.03 292.80,152.42 292.90,151.83 293.00,151.28 293.10,150.77 293.20,150.33 293.30,149.97 293.40,149.70 293.50,149.54 293.60,149.48 293.70,149.54 293.80,149.70 293.90,149.97 294.00,150.33 294.10,150.77 294.20,151.28 294.30,151.83 294.40,152.42 294.50,153.03 294.60,153.63 294.70,154.23 294.80,154.79 294.90,155.32 295.00,155.81 295.10,156.25 295.20,156.64 295.30,156.98 295.40,157.28 295.50,157.53 295.60,157.74 295.70,157.91 295.80,158.05 295.90,158.16 296.00,158.24 296.10,158.31 296.20,158.36 296.30,158.40 296.40,158.43" stroke="#d8a8a8" stroke-width="0.6" fill="none"/>
<text x="382.3" y="8.5" font-size="11.3" font-weight="bold" font-style="normal" text-anchor="start" fill="#000">D</text>
<rect x="417.3" y="15.4" width="63.1" height="62.5" fill="none" stroke="#8a8a8a" stroke-width="0.7"/>
<line x1="417.3" y1="15.4" x2="417.3" y2="77.9" stroke="#333" stroke-width="0.9"/>
<line x1="417.3" y1="77.9" x2="480.4" y2="77.9" stroke="#333" stroke-width="0.9"/>
<text x="415.5" y="79" font-size="6.3" font-weight="bold" font-style="normal" text-anchor="end" fill="#222">0%</text>
<line x1="415.8" y1="77" x2="417.3" y2="77" stroke="#333" stroke-width="0.6"/>
<text x="415.5" y="69.3" font-size="6.3" font-weight="bold" font-style="normal" text-anchor="end" fill="#222">20%</text>
<line x1="415.8" y1="67.3" x2="417.3" y2="67.3" stroke="#333" stroke-width="0.6"/>
<text x="415.5" y="59.6" font-size="6.3" font-weight="bold" font-style="normal" text-anchor="end" fill="#222">40%</text>
<line x1="415.8" y1="57.6" x2="417.3" y2="57.6" stroke="#333" stroke-width="0.6"/>
<text x="415.5" y="49.9" font-size="6.3" font-weight="bold" font-style="normal" text-anchor="end" fill="#222">60%</text>
<line x1="415.8" y1="47.9" x2="417.3" y2="47.9" stroke="#333" stroke-width="0.6"/>
<text x="415.5" y="40.2" font-size="6.3" font-weight="bold" font-style="normal" text-anchor="end" fill="#222">80%</text>
<line x1="415.8" y1="38.2" x2="417.3" y2="38.2" stroke="#333" stroke-width="0.6"/>
<text x="415.5" y="30.5" font-size="6.3" font-weight="bold" font-style="normal" text-anchor="end" fill="#222">100%</text>
<line x1="415.8" y1="28.5" x2="417.3" y2="28.5" stroke="#333" stroke-width="0.6"/>
<text x="415.5" y="20.8" font-size="6.3" font-weight="bold" font-style="normal" text-anchor="end" fill="#222">120%</text>
<line x1="415.8" y1="18.8" x2="417.3" y2="18.8" stroke="#333" stroke-width="0.6"/>
<polyline points="426.30,23.16 441.80,18.80 457.50,31.41 473.00,39.66" stroke="#a89092" stroke-width="0.8" fill="none"/>
<polyline points="426.30,19.77 441.80,26.08 457.50,25.11 473.00,28.02" stroke="#b8caa8" stroke-width="0.8" fill="none"/>
<polyline points="426.30,21.71 441.80,32.87 457.50,31.41 473.00,33.35" stroke="#8084b4" stroke-width="0.8" fill="none"/>
<polyline points="426.30,23.16 441.80,28.02 457.50,26.08 473.00,29.47" stroke="#a0bcd6" stroke-width="0.8" fill="none"/>
<polyline points="426.30,25.59 441.80,31.41 457.50,29.47 473.00,32.38" stroke="#ecc0a0" stroke-width="0.8" fill="none"/>
<polyline points="426.30,25.59 441.80,17.83 457.50,30.44 473.00,38.69" stroke="#c47a6a" stroke-width="0.8" fill="none"/>
<line x1="426.3" y1="19.285" x2="426.3" y2="27.045" stroke="#555" stroke-width="1" stroke-dasharray="1.2,0.5"/>
<line x1="441.8" y1="13.95" x2="441.8" y2="23.65" stroke="#555" stroke-width="1" stroke-dasharray="1.2,0.5"/>
<line x1="457.5" y1="26.56" x2="457.5" y2="36.26" stroke="#555" stroke-width="1" stroke-dasharray="1.2,0.5"/>
<line x1="473" y1="34.805" x2="473" y2="44.505" stroke="#555" stroke-width="1" stroke-dasharray="1.2,0.5"/>
<rect x="425.7" y="22.565" width="1.2" height="1.2" fill="#a89092" stroke="none" stroke-width="1"/>
<rect x="441.2" y="18.2" width="1.2" height="1.2" fill="#a89092" stroke="none" stroke-width="1"/>
<rect x="456.9" y="30.81" width="1.2" height="1.2" fill="#a89092" stroke="none" stroke-width="1"/>
<rect x="472.4" y="39.055" width="1.2" height="1.2" fill="#a89092" stroke="none" stroke-width="1"/>
<line x1="426.3" y1="15.89" x2="426.3" y2="23.65" stroke="#555" stroke-width="1" stroke-dasharray="1.2,0.5"/>
<line x1="441.8" y1="20.255" x2="441.8" y2="31.895" stroke="#555" stroke-width="1" stroke-dasharray="1.2,0.5"/>
<line x1="457.5" y1="20.255" x2="457.5" y2="29.955" stroke="#555" stroke-width="1" stroke-dasharray="1.2,0.5"/>
<line x1="473" y1="22.195" x2="473" y2="33.835" stroke="#555" stroke-width="1" stroke-dasharray="1.2,0.5"/>
<rect x="425.7" y="19.17" width="1.2" height="1.2" fill="#b8caa8" stroke="none" stroke-width="1"/>
<rect x="441.2" y="25.475" width="1.2" height="1.2" fill="#b8caa8" stroke="none" stroke-width="1"/>
<rect x="456.9" y="24.505" width="1.2" height="1.2" fill="#b8caa8" stroke="none" stroke-width="1"/>
<rect x="472.4" y="27.415" width="1.2" height="1.2" fill="#b8caa8" stroke="none" stroke-width="1"/>
<line x1="426.3" y1="17.83" x2="426.3" y2="25.59" stroke="#555" stroke-width="1" stroke-dasharray="1.2,0.5"/>
<line x1="441.8" y1="28.015" x2="441.8" y2="37.715" stroke="#555" stroke-width="1" stroke-dasharray="1.2,0.5"/>
<line x1="457.5" y1="27.53" x2="457.5" y2="35.29" stroke="#555" stroke-width="1" stroke-dasharray="1.2,0.5"/>
<line x1="473" y1="28.5" x2="473" y2="38.2" stroke="#555" stroke-width="1" stroke-dasharray="1.2,0.5"/>
<rect x="425.7" y="21.11" width="1.2" height="1.2" fill="#8084b4" stroke="none" stroke-width="1"/>
<rect x="441.2" y="32.265" width="1.2" height="1.2" fill="#8084b4" stroke="none" stroke-width="1"/>
<rect x="456.9" y="30.81" width="1.2" height="1.2" fill="#8084b4" stroke="none" stroke-width="1"/>
<rect x="472.4" y="32.75" width="1.2" height="1.2" fill="#8084b4" stroke="none" stroke-width="1"/>
<line x1="426.3" y1="19.285" x2="426.3" y2="27.045" stroke="#555" stroke-width="1" stroke-dasharray="1.2,0.5"/>
<line x1="441.8" y1="23.165" x2="441.8" y2="32.865" stroke="#555" stroke-width="1" stroke-dasharray="1.2,0.5"/>
<line x1="457.5" y1="22.195" x2="457.5" y2="29.955" stroke="#555" stroke-width="1" stroke-dasharray="1.2,0.5"/>
<line x1="473" y1="24.62" x2="473" y2="34.32" stroke="#555" stroke-width="1" stroke-dasharray="1.2,0.5"/>
<rect x="425.7" y="22.565" width="1.2" height="1.2" fill="#a0bcd6" stroke="none" stroke-width="1"/>
<rect x="441.2" y="27.415" width="1.2" height="1.2" fill="#a0bcd6" stroke="none" stroke-width="1"/>
<rect x="456.9" y="25.475" width="1.2" height="1.2" fill="#a0bcd6" stroke="none" stroke-width="1"/>
<rect x="472.4" y="28.87" width="1.2" height="1.2" fill="#a0bcd6" stroke="none" stroke-width="1"/>
<line x1="426.3" y1="21.71" x2="426.3" y2="29.47" stroke="#555" stroke-width="1" stroke-dasharray="1.2,0.5"/>
<line x1="441.8" y1="26.56" x2="441.8" y2="36.26" stroke="#555" stroke-width="1" stroke-dasharray="1.2,0.5"/>
<line x1="457.5" y1="25.59" x2="457.5" y2="33.35" stroke="#555" stroke-width="1" stroke-dasharray="1.2,0.5"/>
<line x1="473" y1="27.53" x2="473" y2="37.23" stroke="#555" stroke-width="1" stroke-dasharray="1.2,0.5"/>
<rect x="425.7" y="24.99" width="1.2" height="1.2" fill="#ecc0a0" stroke="none" stroke-width="1"/>
<rect x="441.2" y="30.81" width="1.2" height="1.2" fill="#ecc0a0" stroke="none" stroke-width="1"/>
<rect x="456.9" y="28.87" width="1.2" height="1.2" fill="#ecc0a0" stroke="none" stroke-width="1"/>
<rect x="472.4" y="31.78" width="1.2" height="1.2" fill="#ecc0a0" stroke="none" stroke-width="1"/>
<line x1="426.3" y1="21.71" x2="426.3" y2="29.47" stroke="#555" stroke-width="1" stroke-dasharray="1.2,0.5"/>
<line x1="441.8" y1="12.98" x2="441.8" y2="22.68" stroke="#555" stroke-width="1" stroke-dasharray="1.2,0.5"/>
<line x1="457.5" y1="25.59" x2="457.5" y2="35.29" stroke="#555" stroke-width="1" stroke-dasharray="1.2,0.5"/>
<line x1="473" y1="33.835" x2="473" y2="43.535" stroke="#555" stroke-width="1" stroke-dasharray="1.2,0.5"/>
<rect x="425.7" y="24.99" width="1.2" height="1.2" fill="#c47a6a" stroke="none" stroke-width="1"/>
<rect x="441.2" y="17.23" width="1.2" height="1.2" fill="#c47a6a" stroke="none" stroke-width="1"/>
<rect x="456.9" y="29.84" width="1.2" height="1.2" fill="#c47a6a" stroke="none" stroke-width="1"/>
<rect x="472.4" y="38.085" width="1.2" height="1.2" fill="#c47a6a" stroke="none" stroke-width="1"/>
<text x="427.1" y="87.5" font-size="8.5" font-weight="normal" font-style="normal" text-anchor="middle" fill="#000" stroke="#000" stroke-width="0.3">d3</text>
<text x="442.7" y="87.5" font-size="8.5" font-weight="normal" font-style="normal" text-anchor="middle" fill="#000" stroke="#000" stroke-width="0.3">d6</text>
<text x="460.2" y="87.5" font-size="8.5" font-weight="normal" font-style="normal" text-anchor="middle" fill="#000" stroke="#000" stroke-width="0.3">d9</text>
<text x="477.2" y="87.5" font-size="8.5" font-weight="normal" font-style="normal" text-anchor="middle" fill="#000" stroke="#000" stroke-width="0.3">d12</text>
<text x="417.5" y="12.3" font-size="9.4" font-weight="normal" font-style="normal" text-anchor="start" fill="#000" stroke="#000" stroke-width="0.3">MLL-AF9: GSK126</text>
<text x="397.8" y="45.3" font-size="7.25" font-weight="normal" font-style="normal" text-anchor="middle" fill="#000" transform="rotate(-90 397.8 45.3)" stroke="#000" stroke-width="0.3">Relative Proliferation</text>
<line x1="485" y1="20.3" x2="491" y2="20.3" stroke="#a87070" stroke-width="1.3"/>
<circle cx="488" cy="20.3" r="1.3" fill="#a87070" stroke="none" stroke-width="1"/>
<text x="492.5" y="22.8" font-size="7" font-weight="bold" font-style="normal" text-anchor="start" fill="#000">0.10 µM</text>
<line x1="485" y1="26.6" x2="491" y2="26.6" stroke="#a0b890" stroke-width="1.3"/>
<circle cx="488" cy="26.6" r="1.3" fill="#a0b890" stroke="none" stroke-width="1"/>
<text x="492.5" y="29.1" font-size="7" font-weight="bold" font-style="normal" text-anchor="start" fill="#000">0.25 µM</text>
<line x1="485" y1="32.9" x2="491" y2="32.9" stroke="#6a68a0" stroke-width="1.3"/>
<circle cx="488" cy="32.9" r="1.3" fill="#6a68a0" stroke="none" stroke-width="1"/>
<text x="492.5" y="35.4" font-size="7" font-weight="bold" font-style="normal" text-anchor="start" fill="#000">0.50 µM</text>
<line x1="485" y1="39.2" x2="491" y2="39.2" stroke="#72a8c0" stroke-width="1.3"/>
<circle cx="488" cy="39.2" r="1.3" fill="#72a8c0" stroke="none" stroke-width="1"/>
<text x="492.5" y="41.7" font-size="7" font-weight="bold" font-style="normal" text-anchor="start" fill="#000">1 µM</text>
<line x1="485" y1="45.5" x2="491" y2="45.5" stroke="#d49a70" stroke-width="1.3"/>
<circle cx="488" cy="45.5" r="1.3" fill="#d49a70" stroke="none" stroke-width="1"/>
<text x="492.5" y="48" font-size="7" font-weight="bold" font-style="normal" text-anchor="start" fill="#000">2 µM</text>
<line x1="485" y1="51.8" x2="491" y2="51.8" stroke="#b04038" stroke-width="1.3"/>
<circle cx="488" cy="51.8" r="1.3" fill="#b04038" stroke="none" stroke-width="1"/>
<text x="492.5" y="54.3" font-size="7" font-weight="bold" font-style="normal" text-anchor="start" fill="#000">3 µM</text>
<rect x="418.9" y="104" width="63.1" height="60" fill="none" stroke="#8a8a8a" stroke-width="0.7"/>
<line x1="418.9" y1="104" x2="418.9" y2="164" stroke="#333" stroke-width="0.9"/>
<line x1="418.9" y1="164" x2="482" y2="164" stroke="#333" stroke-width="0.9"/>
<text x="417.1" y="165.5" font-size="5.5" font-weight="bold" font-style="normal" text-anchor="end" fill="#222">0%</text>
<line x1="417.4" y1="163.5" x2="418.9" y2="163.5" stroke="#333" stroke-width="0.6"/>
<text x="417.1" y="156.3" font-size="5.5" font-weight="bold" font-style="normal" text-anchor="end" fill="#222">20%</text>
<line x1="417.4" y1="154.3" x2="418.9" y2="154.3" stroke="#333" stroke-width="0.6"/>
<text x="417.1" y="147.1" font-size="5.5" font-weight="bold" font-style="normal" text-anchor="end" fill="#222">40%</text>
<line x1="417.4" y1="145.1" x2="418.9" y2="145.1" stroke="#333" stroke-width="0.6"/>
<text x="417.1" y="137.9" font-size="5.5" font-weight="bold" font-style="normal" text-anchor="end" fill="#222">60%</text>
<line x1="417.4" y1="135.9" x2="418.9" y2="135.9" stroke="#333" stroke-width="0.6"/>
<text x="417.1" y="128.7" font-size="5.5" font-weight="bold" font-style="normal" text-anchor="end" fill="#222">80%</text>
<line x1="417.4" y1="126.7" x2="418.9" y2="126.7" stroke="#333" stroke-width="0.6"/>
<text x="417.1" y="119.5" font-size="5.5" font-weight="bold" font-style="normal" text-anchor="end" fill="#222">100%</text>
<line x1="417.4" y1="117.5" x2="418.9" y2="117.5" stroke="#333" stroke-width="0.6"/>
<text x="417.1" y="110.3" font-size="5.5" font-weight="bold" font-style="normal" text-anchor="end" fill="#222">120%</text>
<line x1="417.4" y1="108.3" x2="418.9" y2="108.3" stroke="#333" stroke-width="0.6"/>
<polyline points="426.40,108.30 442.10,124.86 457.90,130.38 473.40,123.94" stroke="#a89092" stroke-width="0.8" fill="none"/>
<polyline points="426.40,115.20 442.10,123.94 457.90,127.62 473.40,117.96" stroke="#b8caa8" stroke-width="0.8" fill="none"/>
<polyline points="426.40,117.96 442.10,125.78 457.90,141.42 473.40,142.80" stroke="#8084b4" stroke-width="0.8" fill="none"/>
<polyline points="426.40,117.04 442.10,138.66 457.90,156.60 473.40,161.66" stroke="#a0bcd6" stroke-width="0.8" fill="none"/>
<polyline points="426.40,126.70 442.10,155.22 457.90,163.04 473.40,163.50" stroke="#ecc0a0" stroke-width="0.8" fill="none"/>
<polyline points="426.40,134.52 442.10,162.58 457.90,163.50 473.40,163.50" stroke="#c47a6a" stroke-width="0.8" fill="none"/>
<line x1="426.4" y1="106.92" x2="426.4" y2="109.68" stroke="#777" stroke-width="0.8"/>
<line x1="425.2" y1="106.92" x2="427.6" y2="106.92" stroke="#777" stroke-width="0.8"/>
<line x1="425.2" y1="109.68" x2="427.6" y2="109.68" stroke="#777" stroke-width="0.8"/>
<line x1="442.1" y1="121.18" x2="442.1" y2="128.54" stroke="#777" stroke-width="0.8"/>
<line x1="440.9" y1="121.18" x2="443.3" y2="121.18" stroke="#777" stroke-width="0.8"/>
<line x1="440.9" y1="128.54" x2="443.3" y2="128.54" stroke="#777" stroke-width="0.8"/>
<line x1="457.9" y1="127.62" x2="457.9" y2="133.14" stroke="#777" stroke-width="0.8"/>
<line x1="456.7" y1="127.62" x2="459.1" y2="127.62" stroke="#777" stroke-width="0.8"/>
<line x1="456.7" y1="133.14" x2="459.1" y2="133.14" stroke="#777" stroke-width="0.8"/>
<line x1="473.4" y1="122.1" x2="473.4" y2="125.78" stroke="#777" stroke-width="0.8"/>
<line x1="472.2" y1="122.1" x2="474.6" y2="122.1" stroke="#777" stroke-width="0.8"/>
<line x1="472.2" y1="125.78" x2="474.6" y2="125.78" stroke="#777" stroke-width="0.8"/>
<rect x="425.8" y="107.7" width="1.2" height="1.2" fill="#a89092" stroke="none" stroke-width="1"/>
<rect x="441.5" y="124.26" width="1.2" height="1.2" fill="#a89092" stroke="none" stroke-width="1"/>
<rect x="457.3" y="129.78" width="1.2" height="1.2" fill="#a89092" stroke="none" stroke-width="1"/>
<rect x="472.8" y="123.34" width="1.2" height="1.2" fill="#a89092" stroke="none" stroke-width="1"/>
<line x1="426.4" y1="113.82" x2="426.4" y2="116.58" stroke="#777" stroke-width="0.8"/>
<line x1="425.2" y1="113.82" x2="427.6" y2="113.82" stroke="#777" stroke-width="0.8"/>
<line x1="425.2" y1="116.58" x2="427.6" y2="116.58" stroke="#777" stroke-width="0.8"/>
<line x1="442.1" y1="122.1" x2="442.1" y2="125.78" stroke="#777" stroke-width="0.8"/>
<line x1="440.9" y1="122.1" x2="443.3" y2="122.1" stroke="#777" stroke-width="0.8"/>
<line x1="440.9" y1="125.78" x2="443.3" y2="125.78" stroke="#777" stroke-width="0.8"/>
<line x1="457.9" y1="125.32" x2="457.9" y2="129.92" stroke="#777" stroke-width="0.8"/>
<line x1="456.7" y1="125.32" x2="459.1" y2="125.32" stroke="#777" stroke-width="0.8"/>
<line x1="456.7" y1="129.92" x2="459.1" y2="129.92" stroke="#777" stroke-width="0.8"/>
<line x1="473.4" y1="109.68" x2="473.4" y2="126.24" stroke="#777" stroke-width="0.8"/>
<line x1="472.2" y1="109.68" x2="474.6" y2="109.68" stroke="#777" stroke-width="0.8"/>
<line x1="472.2" y1="126.24" x2="474.6" y2="126.24" stroke="#777" stroke-width="0.8"/>
<rect x="425.8" y="114.6" width="1.2" height="1.2" fill="#b8caa8" stroke="none" stroke-width="1"/>
<rect x="441.5" y="123.34" width="1.2" height="1.2" fill="#b8caa8" stroke="none" stroke-width="1"/>
<rect x="457.3" y="127.02" width="1.2" height="1.2" fill="#b8caa8" stroke="none" stroke-width="1"/>
<rect x="472.8" y="117.36" width="1.2" height="1.2" fill="#b8caa8" stroke="none" stroke-width="1"/>
<line x1="426.4" y1="116.58" x2="426.4" y2="119.34" stroke="#777" stroke-width="0.8"/>
<line x1="425.2" y1="116.58" x2="427.6" y2="116.58" stroke="#777" stroke-width="0.8"/>
<line x1="425.2" y1="119.34" x2="427.6" y2="119.34" stroke="#777" stroke-width="0.8"/>
<line x1="442.1" y1="123.94" x2="442.1" y2="127.62" stroke="#777" stroke-width="0.8"/>
<line x1="440.9" y1="123.94" x2="443.3" y2="123.94" stroke="#777" stroke-width="0.8"/>
<line x1="440.9" y1="127.62" x2="443.3" y2="127.62" stroke="#777" stroke-width="0.8"/>
<line x1="457.9" y1="139.12" x2="457.9" y2="143.72" stroke="#777" stroke-width="0.8"/>
<line x1="456.7" y1="139.12" x2="459.1" y2="139.12" stroke="#777" stroke-width="0.8"/>
<line x1="456.7" y1="143.72" x2="459.1" y2="143.72" stroke="#777" stroke-width="0.8"/>
<line x1="473.4" y1="140.96" x2="473.4" y2="144.64" stroke="#777" stroke-width="0.8"/>
<line x1="472.2" y1="140.96" x2="474.6" y2="140.96" stroke="#777" stroke-width="0.8"/>
<line x1="472.2" y1="144.64" x2="474.6" y2="144.64" stroke="#777" stroke-width="0.8"/>
<rect x="425.8" y="117.36" width="1.2" height="1.2" fill="#8084b4" stroke="none" stroke-width="1"/>
<rect x="441.5" y="125.18" width="1.2" height="1.2" fill="#8084b4" stroke="none" stroke-width="1"/>
<rect x="457.3" y="140.82" width="1.2" height="1.2" fill="#8084b4" stroke="none" stroke-width="1"/>
<rect x="472.8" y="142.2" width="1.2" height="1.2" fill="#8084b4" stroke="none" stroke-width="1"/>
<line x1="426.4" y1="116.12" x2="426.4" y2="117.96" stroke="#777" stroke-width="0.8"/>
<line x1="425.2" y1="116.12" x2="427.6" y2="116.12" stroke="#777" stroke-width="0.8"/>
<line x1="425.2" y1="117.96" x2="427.6" y2="117.96" stroke="#777" stroke-width="0.8"/>
<line x1="442.1" y1="137.28" x2="442.1" y2="140.04" stroke="#777" stroke-width="0.8"/>
<line x1="440.9" y1="137.28" x2="443.3" y2="137.28" stroke="#777" stroke-width="0.8"/>
<line x1="440.9" y1="140.04" x2="443.3" y2="140.04" stroke="#777" stroke-width="0.8"/>
<line x1="457.9" y1="155.68" x2="457.9" y2="157.52" stroke="#777" stroke-width="0.8"/>
<line x1="456.7" y1="155.68" x2="459.1" y2="155.68" stroke="#777" stroke-width="0.8"/>
<line x1="456.7" y1="157.52" x2="459.1" y2="157.52" stroke="#777" stroke-width="0.8"/>
<line x1="473.4" y1="160.74" x2="473.4" y2="162.58" stroke="#777" stroke-width="0.8"/>
<line x1="472.2" y1="160.74" x2="474.6" y2="160.74" stroke="#777" stroke-width="0.8"/>
<line x1="472.2" y1="162.58" x2="474.6" y2="162.58" stroke="#777" stroke-width="0.8"/>
<rect x="425.8" y="116.44" width="1.2" height="1.2" fill="#a0bcd6" stroke="none" stroke-width="1"/>
<rect x="441.5" y="138.06" width="1.2" height="1.2" fill="#a0bcd6" stroke="none" stroke-width="1"/>
<rect x="457.3" y="156" width="1.2" height="1.2" fill="#a0bcd6" stroke="none" stroke-width="1"/>
<rect x="472.8" y="161.06" width="1.2" height="1.2" fill="#a0bcd6" stroke="none" stroke-width="1"/>
<line x1="426.4" y1="125.78" x2="426.4" y2="127.62" stroke="#777" stroke-width="0.8"/>
<line x1="425.2" y1="125.78" x2="427.6" y2="125.78" stroke="#777" stroke-width="0.8"/>
<line x1="425.2" y1="127.62" x2="427.6" y2="127.62" stroke="#777" stroke-width="0.8"/>
<line x1="442.1" y1="154.3" x2="442.1" y2="156.14" stroke="#777" stroke-width="0.8"/>
<line x1="440.9" y1="154.3" x2="443.3" y2="154.3" stroke="#777" stroke-width="0.8"/>
<line x1="440.9" y1="156.14" x2="443.3" y2="156.14" stroke="#777" stroke-width="0.8"/>
<rect x="425.8" y="126.1" width="1.2" height="1.2" fill="#ecc0a0" stroke="none" stroke-width="1"/>
<rect x="441.5" y="154.62" width="1.2" height="1.2" fill="#ecc0a0" stroke="none" stroke-width="1"/>
<rect x="457.3" y="162.44" width="1.2" height="1.2" fill="#ecc0a0" stroke="none" stroke-width="1"/>
<rect x="472.8" y="162.9" width="1.2" height="1.2" fill="#ecc0a0" stroke="none" stroke-width="1"/>
<line x1="426.4" y1="133.6" x2="426.4" y2="135.44" stroke="#777" stroke-width="0.8"/>
<line x1="425.2" y1="133.6" x2="427.6" y2="133.6" stroke="#777" stroke-width="0.8"/>
<line x1="425.2" y1="135.44" x2="427.6" y2="135.44" stroke="#777" stroke-width="0.8"/>
<rect x="425.8" y="133.92" width="1.2" height="1.2" fill="#c47a6a" stroke="none" stroke-width="1"/>
<rect x="441.5" y="161.98" width="1.2" height="1.2" fill="#c47a6a" stroke="none" stroke-width="1"/>
<rect x="457.3" y="162.9" width="1.2" height="1.2" fill="#c47a6a" stroke="none" stroke-width="1"/>
<rect x="472.8" y="162.9" width="1.2" height="1.2" fill="#c47a6a" stroke="none" stroke-width="1"/>
<text x="427.4" y="175.3" font-size="8.5" font-weight="normal" font-style="normal" text-anchor="middle" fill="#000" stroke="#000" stroke-width="0.3">d3</text>
<text x="444.3" y="175.3" font-size="8.5" font-weight="normal" font-style="normal" text-anchor="middle" fill="#000" stroke="#000" stroke-width="0.3">d6</text>
<text x="460.8" y="175.3" font-size="8.5" font-weight="normal" font-style="normal" text-anchor="middle" fill="#000" stroke="#000" stroke-width="0.3">d9</text>
<text x="478" y="175.3" font-size="8.5" font-weight="normal" font-style="normal" text-anchor="middle" fill="#000" stroke="#000" stroke-width="0.3">d12</text>
<text x="418.2" y="100.2" font-size="9.4" font-weight="normal" font-style="normal" text-anchor="start" fill="#000" stroke="#000" stroke-width="0.3">MLL-AF9: UNC1999</text>
<text x="398.3" y="136.3" font-size="7.55" font-weight="normal" font-style="normal" text-anchor="middle" fill="#000" transform="rotate(-90 398.3 136.3)" stroke="#000" stroke-width="0.3">Relative Proliferation</text>
<text x="0.5" y="183.9" font-size="11.5" font-weight="bold" font-style="normal" text-anchor="start" fill="#000">E</text>
<line x1="35" y1="176" x2="35" y2="309.5" stroke="#555" stroke-width="1.2"/>
<line x1="35" y1="309.5" x2="271" y2="309.5" stroke="#555" stroke-width="1.2"/>
<line x1="32" y1="309.5" x2="35" y2="309.5" stroke="#555" stroke-width="1"/>
<text x="31" y="312.5" font-size="8.2" font-weight="bold" font-style="normal" text-anchor="end" fill="#111">0%</text>
<line x1="32" y1="281.45" x2="35" y2="281.45" stroke="#555" stroke-width="1"/>
<text x="31" y="284.45" font-size="8.2" font-weight="bold" font-style="normal" text-anchor="end" fill="#111">25%</text>
<line x1="32" y1="253.4" x2="35" y2="253.4" stroke="#555" stroke-width="1"/>
<text x="31" y="256.4" font-size="8.2" font-weight="bold" font-style="normal" text-anchor="end" fill="#111">50%</text>
<line x1="32" y1="225.35" x2="35" y2="225.35" stroke="#555" stroke-width="1"/>
<text x="31" y="228.35" font-size="8.2" font-weight="bold" font-style="normal" text-anchor="end" fill="#111">75%</text>
<line x1="32" y1="197.3" x2="35" y2="197.3" stroke="#555" stroke-width="1"/>
<text x="31" y="200.3" font-size="8.2" font-weight="bold" font-style="normal" text-anchor="end" fill="#111">100%</text>
<line x1="35" y1="309.5" x2="35" y2="312" stroke="#555" stroke-width="1"/>
<text x="35" y="322.8" font-size="8.2" font-weight="bold" font-style="normal" text-anchor="middle" fill="#111">0</text>
<line x1="74" y1="309.5" x2="74" y2="312" stroke="#555" stroke-width="1"/>
<text x="74" y="322.8" font-size="8.2" font-weight="bold" font-style="normal" text-anchor="middle" fill="#111">0.5</text>
<line x1="113" y1="309.5" x2="113" y2="312" stroke="#555" stroke-width="1"/>
<text x="113" y="322.8" font-size="8.2" font-weight="bold" font-style="normal" text-anchor="middle" fill="#111">1</text>
<line x1="152" y1="309.5" x2="152" y2="312" stroke="#555" stroke-width="1"/>
<text x="152" y="322.8" font-size="8.2" font-weight="bold" font-style="normal" text-anchor="middle" fill="#111">1.5</text>
<line x1="191" y1="309.5" x2="191" y2="312" stroke="#555" stroke-width="1"/>
<text x="191" y="322.8" font-size="8.2" font-weight="bold" font-style="normal" text-anchor="middle" fill="#111">2</text>
<line x1="230" y1="309.5" x2="230" y2="312" stroke="#555" stroke-width="1"/>
<text x="230" y="322.8" font-size="8.2" font-weight="bold" font-style="normal" text-anchor="middle" fill="#111">2.5</text>
<line x1="269" y1="309.5" x2="269" y2="312" stroke="#555" stroke-width="1"/>
<text x="269" y="322.8" font-size="8.2" font-weight="bold" font-style="normal" text-anchor="middle" fill="#111">3</text>
<text x="134.1" y="335.4" font-size="10.4" font-weight="normal" font-style="normal" text-anchor="middle" fill="#000" stroke="#000" stroke-width="0.3">UNC1999 (µM)</text>
<text x="8.4" y="258.5" font-size="8.9" font-weight="normal" font-style="normal" text-anchor="middle" fill="#000" transform="rotate(-90 8.4 258.5)" stroke="#000" stroke-width="0.3">% Proliferation (vs. DMSO-treated)</text>
<polyline points="35.00,197.30 42.80,188.32 54.50,186.08 74.00,197.30 113.00,225.35 191.00,256.77 269.00,272.47" stroke="#cf6a72" stroke-width="1.2" fill="none"/>
<polyline points="35.00,197.30 42.80,199.54 54.50,208.52 74.00,212.45 113.00,214.69 191.00,217.50 269.00,233.76" stroke="#b9c46a" stroke-width="1.2" fill="none"/>
<polyline points="35.00,197.30 42.80,204.03 54.50,214.13 74.00,228.72 113.00,257.89 191.00,306.13 269.00,307.26" stroke="#8f9e48" stroke-width="1.2" fill="none"/>
<polyline points="35.00,197.30 42.80,215.25 54.50,217.50 74.00,213.57 113.00,216.37 191.00,217.50 269.00,228.72" stroke="#111" stroke-width="1.2" fill="none"/>
<polyline points="35.00,197.30 42.80,196.18 54.50,237.69 74.00,261.25 113.00,282.57 191.00,282.57 269.00,282.57" stroke="#6aa6cc" stroke-width="1.2" fill="none"/>
<polyline points="35.00,197.30 42.80,210.76 54.50,225.35 74.00,226.47 113.00,288.74 191.00,307.26 269.00,307.26" stroke="#d0312c" stroke-width="1.2" fill="none"/>
<polyline points="35.00,197.30 42.80,223.11 54.50,257.89 74.00,287.06 113.00,293.79 191.00,302.21 269.00,304.45" stroke="#111" stroke-width="1.8" fill="none" stroke-dasharray="4,2.5"/>
<polyline points="35.00,197.30 42.80,235.45 54.50,283.69 74.00,299.96 113.00,306.69 191.00,307.26 269.00,307.26" stroke="#6e6e92" stroke-width="1.2" fill="none"/>
<circle cx="35" cy="197.3" r="2.1" fill="#d07078" stroke="none" stroke-width="1"/>
<line x1="42.8" y1="183.836" x2="42.8" y2="192.812" stroke="#111" stroke-width="1.1"/>
<line x1="41" y1="183.836" x2="44.6" y2="183.836" stroke="#111" stroke-width="1.1"/>
<line x1="41" y1="192.812" x2="44.6" y2="192.812" stroke="#111" stroke-width="1.1"/>
<circle cx="42.8" cy="188.324" r="2.1" fill="#d07078" stroke="none" stroke-width="1"/>
<line x1="54.5" y1="179.348" x2="54.5" y2="192.812" stroke="#111" stroke-width="1.1"/>
<line x1="52.7" y1="179.348" x2="56.3" y2="179.348" stroke="#111" stroke-width="1.1"/>
<line x1="52.7" y1="192.812" x2="56.3" y2="192.812" stroke="#111" stroke-width="1.1"/>
<circle cx="54.5" cy="186.08" r="2.1" fill="#d07078" stroke="none" stroke-width="1"/>
<line x1="74" y1="189.446" x2="74" y2="205.154" stroke="#111" stroke-width="1.1"/>
<line x1="72.2" y1="189.446" x2="75.8" y2="189.446" stroke="#111" stroke-width="1.1"/>
<line x1="72.2" y1="205.154" x2="75.8" y2="205.154" stroke="#111" stroke-width="1.1"/>
<circle cx="74" cy="197.3" r="2.1" fill="#d07078" stroke="none" stroke-width="1"/>
<line x1="113" y1="220.862" x2="113" y2="229.838" stroke="#111" stroke-width="1.1"/>
<line x1="111.2" y1="220.862" x2="114.8" y2="220.862" stroke="#111" stroke-width="1.1"/>
<line x1="111.2" y1="229.838" x2="114.8" y2="229.838" stroke="#111" stroke-width="1.1"/>
<circle cx="113" cy="225.35" r="2.1" fill="#d07078" stroke="none" stroke-width="1"/>
<circle cx="191" cy="256.766" r="2.1" fill="#d07078" stroke="none" stroke-width="1"/>
<circle cx="269" cy="272.474" r="2.1" fill="#d07078" stroke="none" stroke-width="1"/>
<circle cx="35" cy="197.3" r="2" fill="#c8d27a" stroke="#9aa050" stroke-width="0.6"/>
<circle cx="42.8" cy="199.544" r="2" fill="#c8d27a" stroke="#9aa050" stroke-width="0.6"/>
<line x1="54.5" y1="202.91" x2="54.5" y2="214.13" stroke="#111" stroke-width="1.1"/>
<line x1="52.7" y1="202.91" x2="56.3" y2="202.91" stroke="#111" stroke-width="1.1"/>
<line x1="52.7" y1="214.13" x2="56.3" y2="214.13" stroke="#111" stroke-width="1.1"/>
<circle cx="54.5" cy="208.52" r="2" fill="#c8d27a" stroke="#9aa050" stroke-width="0.6"/>
<circle cx="74" cy="212.447" r="2" fill="#c8d27a" stroke="#9aa050" stroke-width="0.6"/>
<circle cx="113" cy="214.691" r="2" fill="#c8d27a" stroke="#9aa050" stroke-width="0.6"/>
<line x1="191" y1="208.52" x2="191" y2="226.472" stroke="#111" stroke-width="1.1"/>
<line x1="189.2" y1="208.52" x2="192.8" y2="208.52" stroke="#111" stroke-width="1.1"/>
<line x1="189.2" y1="226.472" x2="192.8" y2="226.472" stroke="#111" stroke-width="1.1"/>
<circle cx="191" cy="217.496" r="2" fill="#c8d27a" stroke="#9aa050" stroke-width="0.6"/>
<line x1="269" y1="225.911" x2="269" y2="241.619" stroke="#111" stroke-width="1.1"/>
<line x1="267.2" y1="225.911" x2="270.8" y2="225.911" stroke="#111" stroke-width="1.1"/>
<line x1="267.2" y1="241.619" x2="270.8" y2="241.619" stroke="#111" stroke-width="1.1"/>
<circle cx="269" cy="233.765" r="2" fill="#c8d27a" stroke="#9aa050" stroke-width="0.6"/>
<circle cx="35" cy="197.3" r="2.1" fill="#8f9e48" stroke="none" stroke-width="1"/>
<circle cx="42.8" cy="204.032" r="2.1" fill="#8f9e48" stroke="none" stroke-width="1"/>
<circle cx="54.5" cy="214.13" r="2.1" fill="#8f9e48" stroke="none" stroke-width="1"/>
<circle cx="74" cy="228.716" r="2.1" fill="#8f9e48" stroke="none" stroke-width="1"/>
<line x1="113" y1="254.522" x2="113" y2="261.254" stroke="#111" stroke-width="1.1"/>
<line x1="111.2" y1="254.522" x2="114.8" y2="254.522" stroke="#111" stroke-width="1.1"/>
<line x1="111.2" y1="261.254" x2="114.8" y2="261.254" stroke="#111" stroke-width="1.1"/>
<circle cx="113" cy="257.888" r="2.1" fill="#8f9e48" stroke="none" stroke-width="1"/>
<circle cx="191" cy="306.134" r="2.1" fill="#8f9e48" stroke="none" stroke-width="1"/>
<circle cx="269" cy="307.256" r="2.1" fill="#8f9e48" stroke="none" stroke-width="1"/>
<polygon points="35,195.1 37.2,197.3 35,199.5 32.8,197.3" fill="#111"/>
<polygon points="42.8,213.052 45,215.252 42.8,217.452 40.6,215.252" fill="#111"/>
<line x1="54.5" y1="209.642" x2="54.5" y2="225.35" stroke="#111" stroke-width="1.1"/>
<line x1="52.7" y1="209.642" x2="56.3" y2="209.642" stroke="#111" stroke-width="1.1"/>
<line x1="52.7" y1="225.35" x2="56.3" y2="225.35" stroke="#111" stroke-width="1.1"/>
<polygon points="54.5,215.296 56.7,217.496 54.5,219.696 52.3,217.496" fill="#111"/>
<line x1="74" y1="204.593" x2="74" y2="222.545" stroke="#111" stroke-width="1.1"/>
<line x1="72.2" y1="204.593" x2="75.8" y2="204.593" stroke="#111" stroke-width="1.1"/>
<line x1="72.2" y1="222.545" x2="75.8" y2="222.545" stroke="#111" stroke-width="1.1"/>
<polygon points="74,211.369 76.2,213.569 74,215.769 71.8,213.569" fill="#111"/>
<line x1="113" y1="208.52" x2="113" y2="224.228" stroke="#111" stroke-width="1.1"/>
<line x1="111.2" y1="208.52" x2="114.8" y2="208.52" stroke="#111" stroke-width="1.1"/>
<line x1="111.2" y1="224.228" x2="114.8" y2="224.228" stroke="#111" stroke-width="1.1"/>
<polygon points="113,214.174 115.2,216.374 113,218.574 110.8,216.374" fill="#111"/>
<line x1="191" y1="206.276" x2="191" y2="228.716" stroke="#111" stroke-width="1.1"/>
<line x1="189.2" y1="206.276" x2="192.8" y2="206.276" stroke="#111" stroke-width="1.1"/>
<line x1="189.2" y1="228.716" x2="192.8" y2="228.716" stroke="#111" stroke-width="1.1"/>
<polygon points="191,215.296 193.2,217.496 191,219.696 188.8,217.496" fill="#111"/>
<line x1="269" y1="219.74" x2="269" y2="237.692" stroke="#111" stroke-width="1.1"/>
<line x1="267.2" y1="219.74" x2="270.8" y2="219.74" stroke="#111" stroke-width="1.1"/>
<line x1="267.2" y1="237.692" x2="270.8" y2="237.692" stroke="#111" stroke-width="1.1"/>
<polygon points="269,226.516 271.2,228.716 269,230.916 266.8,228.716" fill="#111"/>
<circle cx="35" cy="197.3" r="2" fill="#8cc4e4" stroke="#6a8aa0" stroke-width="0.6"/>
<circle cx="42.8" cy="196.178" r="2" fill="#8cc4e4" stroke="#6a8aa0" stroke-width="0.6"/>
<line x1="54.5" y1="234.326" x2="54.5" y2="241.058" stroke="#111" stroke-width="1.1"/>
<line x1="52.7" y1="234.326" x2="56.3" y2="234.326" stroke="#111" stroke-width="1.1"/>
<line x1="52.7" y1="241.058" x2="56.3" y2="241.058" stroke="#111" stroke-width="1.1"/>
<circle cx="54.5" cy="237.692" r="2" fill="#8cc4e4" stroke="#6a8aa0" stroke-width="0.6"/>
<line x1="74" y1="259.01" x2="74" y2="263.498" stroke="#111" stroke-width="1.1"/>
<line x1="72.2" y1="259.01" x2="75.8" y2="259.01" stroke="#111" stroke-width="1.1"/>
<line x1="72.2" y1="263.498" x2="75.8" y2="263.498" stroke="#111" stroke-width="1.1"/>
<circle cx="74" cy="261.254" r="2" fill="#8cc4e4" stroke="#6a8aa0" stroke-width="0.6"/>
<line x1="113" y1="279.206" x2="113" y2="285.938" stroke="#111" stroke-width="1.1"/>
<line x1="111.2" y1="279.206" x2="114.8" y2="279.206" stroke="#111" stroke-width="1.1"/>
<line x1="111.2" y1="285.938" x2="114.8" y2="285.938" stroke="#111" stroke-width="1.1"/>
<circle cx="113" cy="282.572" r="2" fill="#8cc4e4" stroke="#6a8aa0" stroke-width="0.6"/>
<line x1="191" y1="281.45" x2="191" y2="283.694" stroke="#111" stroke-width="1.1"/>
<line x1="189.2" y1="281.45" x2="192.8" y2="281.45" stroke="#111" stroke-width="1.1"/>
<line x1="189.2" y1="283.694" x2="192.8" y2="283.694" stroke="#111" stroke-width="1.1"/>
<circle cx="191" cy="282.572" r="2" fill="#8cc4e4" stroke="#6a8aa0" stroke-width="0.6"/>
<circle cx="269" cy="282.572" r="2" fill="#8cc4e4" stroke="#6a8aa0" stroke-width="0.6"/>
<circle cx="35" cy="197.3" r="2.1" fill="#d0312c" stroke="none" stroke-width="1"/>
<circle cx="42.8" cy="210.764" r="2.1" fill="#d0312c" stroke="none" stroke-width="1"/>
<line x1="54.5" y1="223.106" x2="54.5" y2="227.594" stroke="#111" stroke-width="1.1"/>
<line x1="52.7" y1="223.106" x2="56.3" y2="223.106" stroke="#111" stroke-width="1.1"/>
<line x1="52.7" y1="227.594" x2="56.3" y2="227.594" stroke="#111" stroke-width="1.1"/>
<circle cx="54.5" cy="225.35" r="2.1" fill="#d0312c" stroke="none" stroke-width="1"/>
<line x1="74" y1="223.106" x2="74" y2="229.838" stroke="#111" stroke-width="1.1"/>
<line x1="72.2" y1="223.106" x2="75.8" y2="223.106" stroke="#111" stroke-width="1.1"/>
<line x1="72.2" y1="229.838" x2="75.8" y2="229.838" stroke="#111" stroke-width="1.1"/>
<circle cx="74" cy="226.472" r="2.1" fill="#d0312c" stroke="none" stroke-width="1"/>
<circle cx="113" cy="288.743" r="2.1" fill="#d0312c" stroke="none" stroke-width="1"/>
<circle cx="191" cy="307.256" r="2.1" fill="#d0312c" stroke="none" stroke-width="1"/>
<circle cx="269" cy="307.256" r="2.1" fill="#d0312c" stroke="none" stroke-width="1"/>
<polygon points="35,195 32.8,198.9 37.2,198.9" fill="#d02c2c"/>
<polygon points="42.8,220.806 40.6,224.706 45,224.706" fill="#d02c2c"/>
<polygon points="54.5,255.588 52.3,259.488 56.7,259.488" fill="#d02c2c"/>
<polygon points="74,284.76 71.8,288.66 76.2,288.66" fill="#d02c2c"/>
<polygon points="113,291.492 110.8,295.392 115.2,295.392" fill="#d02c2c"/>
<polygon points="191,299.907 188.8,303.807 193.2,303.807" fill="#d02c2c"/>
<polygon points="269,302.151 266.8,306.051 271.2,306.051" fill="#d02c2c"/>
<circle cx="35" cy="197.3" r="2.1" fill="#5a5a80" stroke="none" stroke-width="1"/>
<line x1="42.8" y1="219.74" x2="42.8" y2="251.156" stroke="#111" stroke-width="1.1"/>
<line x1="41" y1="219.74" x2="44.6" y2="219.74" stroke="#111" stroke-width="1.1"/>
<line x1="41" y1="251.156" x2="44.6" y2="251.156" stroke="#111" stroke-width="1.1"/>
<circle cx="42.8" cy="235.448" r="2.1" fill="#5a5a80" stroke="none" stroke-width="1"/>
<line x1="54.5" y1="275.84" x2="54.5" y2="291.548" stroke="#111" stroke-width="1.1"/>
<line x1="52.7" y1="275.84" x2="56.3" y2="275.84" stroke="#111" stroke-width="1.1"/>
<line x1="52.7" y1="291.548" x2="56.3" y2="291.548" stroke="#111" stroke-width="1.1"/>
<circle cx="54.5" cy="283.694" r="2.1" fill="#5a5a80" stroke="none" stroke-width="1"/>
<line x1="74" y1="296.597" x2="74" y2="303.329" stroke="#111" stroke-width="1.1"/>
<line x1="72.2" y1="296.597" x2="75.8" y2="296.597" stroke="#111" stroke-width="1.1"/>
<line x1="72.2" y1="303.329" x2="75.8" y2="303.329" stroke="#111" stroke-width="1.1"/>
<circle cx="74" cy="299.963" r="2.1" fill="#5a5a80" stroke="none" stroke-width="1"/>
<circle cx="113" cy="306.695" r="2.1" fill="#5a5a80" stroke="none" stroke-width="1"/>
<circle cx="191" cy="307.256" r="2.1" fill="#5a5a80" stroke="none" stroke-width="1"/>
<circle cx="269" cy="307.256" r="2.1" fill="#5a5a80" stroke="none" stroke-width="1"/>
<rect x="275" y="189" width="71.5" height="90.5" fill="#fff" stroke="#111" stroke-width="1.1"/>
<line x1="281" y1="197.1" x2="284.5" y2="197.1" stroke="#111" stroke-width="1.6"/>
<line x1="291.5" y1="197.1" x2="295" y2="197.1" stroke="#111" stroke-width="1.6"/>
<polygon points="288,194.9 285.8,198.7 290.2,198.7" fill="#d02c2c"/>
<g transform="translate(296 0) scale(0.93 1) translate(-296 0)">
<text x="296" y="200.4" font-size="9.1" font-weight="normal" font-style="normal" text-anchor="start" fill="#000" stroke="#000" stroke-width="0.22">DB</text>
</g>
<line x1="281" y1="207.95" x2="295" y2="207.95" stroke="#6e6e92" stroke-width="1.3"/>
<circle cx="288" cy="207.95" r="2" fill="#5a5a80" stroke="none" stroke-width="1"/>
<g transform="translate(296 0) scale(0.93 1) translate(-296 0)">
<text x="296" y="211.25" font-size="9.1" font-weight="normal" font-style="normal" text-anchor="start" fill="#000" stroke="#000" stroke-width="0.22">EOL-1</text>
</g>
<line x1="281" y1="218.8" x2="295" y2="218.8" stroke="#d0312c" stroke-width="1.3"/>
<circle cx="288" cy="218.8" r="2" fill="#d0312c" stroke="none" stroke-width="1"/>
<g transform="translate(296 0) scale(0.93 1) translate(-296 0)">
<text x="296" y="222.1" font-size="9.1" font-weight="normal" font-style="normal" text-anchor="start" fill="#000" stroke="#000" stroke-width="0.22">m-MLL-AF9</text>
</g>
<line x1="281" y1="229.65" x2="295" y2="229.65" stroke="#8f9e48" stroke-width="1.3"/>
<circle cx="288" cy="229.65" r="2" fill="#8f9e48" stroke="none" stroke-width="1"/>
<g transform="translate(296 0) scale(0.93 1) translate(-296 0)">
<text x="296" y="232.95" font-size="9.1" font-weight="normal" font-style="normal" text-anchor="start" fill="#000" stroke="#000" stroke-width="0.22">m-MLL-ENL</text>
</g>
<line x1="281" y1="240.5" x2="295" y2="240.5" stroke="#6aa6cc" stroke-width="1.3"/>
<circle cx="288" cy="240.5" r="2" fill="#8cc4e4" stroke="none" stroke-width="1"/>
<g transform="translate(296 0) scale(0.93 1) translate(-296 0)">
<text x="296" y="243.8" font-size="9.1" font-weight="normal" font-style="normal" text-anchor="start" fill="#000" stroke="#000" stroke-width="0.22">MV4;11</text>
</g>
<line x1="281" y1="251.35" x2="295" y2="251.35" stroke="#cf6a72" stroke-width="1.3"/>
<circle cx="288" cy="251.35" r="2" fill="#d07078" stroke="none" stroke-width="1"/>
<g transform="translate(296 0) scale(0.93 1) translate(-296 0)">
<text x="296" y="254.65" font-size="9.1" font-weight="normal" font-style="normal" text-anchor="start" fill="#000" stroke="#000" stroke-width="0.22">RS4;11</text>
</g>
<line x1="281" y1="262.2" x2="295" y2="262.2" stroke="#111" stroke-width="1.3"/>
<polygon points="288,260.2 290,262.2 288,264.2 286,262.2" fill="#111"/>
<g transform="translate(296 0) scale(0.93 1) translate(-296 0)">
<text x="296" y="265.5" font-size="9.1" font-weight="normal" font-style="normal" text-anchor="start" fill="#000" stroke="#000" stroke-width="0.22">LOUCY</text>
</g>
<line x1="281" y1="273.05" x2="295" y2="273.05" stroke="#b9c46a" stroke-width="1.3"/>
<circle cx="288" cy="273.05" r="2" fill="#c8d27a" stroke="none" stroke-width="1"/>
<g transform="translate(296 0) scale(0.93 1) translate(-296 0)">
<text x="296" y="276.35" font-size="9.1" font-weight="normal" font-style="normal" text-anchor="start" fill="#000" stroke="#000" stroke-width="0.22">K562</text>
</g>
<text x="345.8" y="184.6" font-size="11.5" font-weight="bold" font-style="normal" text-anchor="start" fill="#000">F</text>
<rect x="360.5" y="214.8" width="159.5" height="17" fill="#dcdcdc" stroke="none" stroke-width="1"/>
<rect x="360.5" y="240.7" width="159.5" height="8" fill="#dcdcdc" stroke="none" stroke-width="1"/>
<rect x="360.5" y="268.2" width="159.5" height="17.5" fill="#dcdcdc" stroke="none" stroke-width="1"/>
<rect x="360.5" y="295" width="159.5" height="8" fill="#dcdcdc" stroke="none" stroke-width="1"/>
<line x1="360.5" y1="187.2" x2="520" y2="187.2" stroke="#111" stroke-width="1.4"/>
<line x1="360.5" y1="205" x2="520" y2="205" stroke="#111" stroke-width="0.9"/>
<line x1="360.5" y1="312.9" x2="520" y2="312.9" stroke="#111" stroke-width="1.4"/>
<text x="362.2" y="199.3" font-size="8.3" font-weight="bold" font-style="normal" text-anchor="start" fill="#000" stroke="#000" stroke-width="0.25">Cell Line</text>
<text x="408.2" y="199.3" font-size="8.3" font-weight="bold" font-style="normal" text-anchor="start" fill="#000" stroke="#000" stroke-width="0.25">EC50 (µM)</text>
<text x="461" y="194.3" font-size="7.3" font-weight="bold" font-style="normal" text-anchor="start" fill="#000" stroke="#000" stroke-width="0.3">Known Genetic</text>
<text x="461" y="202.3" font-size="7.3" font-weight="bold" font-style="normal" text-anchor="start" fill="#000" stroke="#000" stroke-width="0.3">Mutation</text>
<text x="362.5" y="213.1" font-size="7.6" font-weight="normal" font-style="normal" text-anchor="start" fill="#000" stroke="#000" stroke-width="0.3">DB</text>
<text x="408.5" y="213.1" font-size="7.6" font-weight="normal" font-style="normal" text-anchor="start" fill="#000" stroke="#000" stroke-width="0.3">0.227</text>
<text x="461" y="213.1" font-size="7.6" font-weight="normal" font-style="italic" text-anchor="start" fill="#000" stroke="#000" stroke-width="0.3">EZH2 Y641N</text>
<text x="362.5" y="225" font-size="7.6" font-weight="normal" font-style="normal" text-anchor="start" fill="#000" stroke="#000" stroke-width="0.3">EOL-1</text>
<text x="408.5" y="225" font-size="7.6" font-weight="normal" font-style="normal" text-anchor="start" fill="#000" stroke="#000" stroke-width="0.3">0.1019</text>
<text x="362.5" y="239.2" font-size="7.6" font-weight="normal" font-style="normal" text-anchor="start" fill="#000" stroke="#000" stroke-width="0.3">K562</text>
<text x="408.5" y="239.2" font-size="7.6" font-weight="normal" font-style="normal" text-anchor="start" fill="#000" stroke="#000" stroke-width="0.3">N/A (&gt;250)</text>
<text x="461" y="239.2" font-size="7.6" font-weight="normal" font-style="italic" text-anchor="start" fill="#000" stroke="#000" stroke-width="0.3">BCR-ABL</text>
<text x="362.5" y="247.5" font-size="7.6" font-weight="normal" font-style="normal" text-anchor="start" fill="#000" stroke="#000" stroke-width="0.3">LOUCY</text>
<text x="408.5" y="247.5" font-size="7.6" font-weight="normal" font-style="normal" text-anchor="start" fill="#000" stroke="#000" stroke-width="0.3">N/A (&gt;200)</text>
<text x="461" y="247.5" font-size="7.6" font-weight="normal" font-style="italic" text-anchor="start" fill="#000" stroke="#000" stroke-width="0.3">EZH2 deleted</text>
<text x="408.5" y="261.1" font-size="7.6" font-weight="normal" font-style="normal" text-anchor="start" fill="#000" stroke="#000" stroke-width="0.3">0.404~0.621</text>
<text x="461" y="261.1" font-size="7.6" font-weight="normal" font-style="italic" text-anchor="start" fill="#000" stroke="#000" stroke-width="0.3">MLL-AF9</text>
<text x="408.5" y="279.8" font-size="7.6" font-weight="normal" font-style="normal" text-anchor="start" fill="#000" stroke="#000" stroke-width="0.3">0.547~0.836</text>
<text x="461" y="279.8" font-size="7.6" font-weight="normal" font-style="italic" text-anchor="start" fill="#000" stroke="#000" stroke-width="0.3">MLL-ENL</text>
<text x="362.5" y="293.2" font-size="7.6" font-weight="normal" font-style="normal" text-anchor="start" fill="#000" stroke="#000" stroke-width="0.3">MV4;11</text>
<text x="408.5" y="293.2" font-size="7.6" font-weight="normal" font-style="normal" text-anchor="start" fill="#000" stroke="#000" stroke-width="0.3">0.5248</text>
<text x="461" y="293.2" font-size="7.6" font-weight="normal" font-style="italic" text-anchor="start" fill="#000" stroke="#000" stroke-width="0.3">MLL-AF4</text>
<text x="362.5" y="302.2" font-size="7.6" font-weight="normal" font-style="normal" text-anchor="start" fill="#000" stroke="#000" stroke-width="0.3">OCI-AML2</text>
<text x="408.5" y="302.2" font-size="7.6" font-weight="normal" font-style="normal" text-anchor="start" fill="#000" stroke="#000" stroke-width="0.3">1.5</text>
<text x="461" y="302.2" font-size="7.6" font-weight="normal" font-style="italic" text-anchor="start" fill="#000" stroke="#000" stroke-width="0.3">MLL-AF9</text>
<text x="362.5" y="310.6" font-size="7.6" font-weight="normal" font-style="normal" text-anchor="start" fill="#000" stroke="#000" stroke-width="0.3">RS4;11</text>
<text x="408.5" y="310.6" font-size="7.6" font-weight="normal" font-style="normal" text-anchor="start" fill="#000" stroke="#000" stroke-width="0.3">1.956</text>
<text x="461" y="310.6" font-size="7.6" font-weight="normal" font-style="italic" text-anchor="start" fill="#000" stroke="#000" stroke-width="0.3">MLL-AF4</text>
<text x="461" y="220.6" font-size="7.6" font-weight="normal" font-style="italic" text-anchor="start" fill="#000" stroke="#000" stroke-width="0.3">MLL-PTD;</text>
<text x="461" y="229.5" font-size="7.6" font-weight="normal" font-style="italic" text-anchor="start" fill="#000" stroke="#000" stroke-width="0.3">FIP1L1-PDGFRA</text>
<text x="362.5" y="257.5" font-size="7.6" font-weight="normal" font-style="normal" text-anchor="start" fill="#000" stroke="#000" stroke-width="0.3">m-MLL-AF9</text>
<text x="362.5" y="266.4" font-size="7.6" font-weight="normal" font-style="normal" text-anchor="start" fill="#000" stroke="#000" stroke-width="0.3">(4 lines)</text>
<text x="362.5" y="275.4" font-size="7.6" font-weight="normal" font-style="normal" text-anchor="start" fill="#000" stroke="#000" stroke-width="0.3">m-MLL-ENL</text>
<text x="362.5" y="284.3" font-size="7.6" font-weight="normal" font-style="normal" text-anchor="start" fill="#000" stroke="#000" stroke-width="0.3">(2 lines)</text>
<text x="282.2" y="303.8" font-size="11.5" font-weight="bold" font-style="normal" text-anchor="start" fill="#000">J</text>
<text x="291.3" y="321.3" font-size="9.3" font-weight="normal" font-style="normal" text-anchor="start" fill="#000" transform="rotate(-48 291.3 321.3)" stroke="#000" stroke-width="0.3">EOL-1</text>
<text x="307.3" y="321.3" font-size="9.3" font-weight="normal" font-style="normal" text-anchor="start" fill="#000" transform="rotate(-48 307.3 321.3)" stroke="#000" stroke-width="0.3">LOUCY</text>
<text x="323.3" y="320.5" font-size="9.3" font-weight="normal" font-style="normal" text-anchor="start" fill="#000" transform="rotate(-48 323.3 320.5)" stroke="#000" stroke-width="0.3">DB</text>
<rect x="284" y="323.5" width="43.3" height="9" fill="#7a9fe0" stroke="#34466e" stroke-width="0.9"/>
<rect x="284" y="336.2" width="43.3" height="9.4" fill="#7a9fe0" stroke="#34466e" stroke-width="0.9"/>
<ellipse cx="293" cy="327.6" rx="6" ry="0.9" fill="#203060"/>
<ellipse cx="320.5" cy="328" rx="7" ry="1.2" fill="#102050"/>
<path d="M286,339.6 Q292,338.6 298,339.8 T312,340 T326,339.8" stroke="#0c1a48" stroke-width="2" fill="none"/>
<text x="330.6" y="332.8" font-size="9.6" font-weight="normal" font-style="normal" text-anchor="start" fill="#000" stroke="#000" stroke-width="0.3">H3K27me3</text>
<text x="331.2" y="344.5" font-size="9.6" font-weight="normal" font-style="normal" text-anchor="start" fill="#000" stroke="#000" stroke-width="0.3">total H3</text>
<text x="0.6" y="354.2" font-size="11.5" font-weight="bold" font-style="normal" text-anchor="start" fill="#000">G</text>
<text x="26.5" y="362.9" font-size="9.4" font-weight="bold" font-style="normal" text-anchor="start" fill="#000" stroke="#000" stroke-width="0.2">m-MLL-ENL</text>
<line x1="26" y1="368.74" x2="26" y2="427.5" stroke="#444" stroke-width="0.9"/>
<line x1="26" y1="427.5" x2="119.3" y2="427.5" stroke="#444" stroke-width="0.9"/>
<line x1="24.5" y1="427.5" x2="26" y2="427.5" stroke="#444" stroke-width="0.6"/>
<text x="23.5" y="429.4" font-size="5.4" font-weight="bold" font-style="normal" text-anchor="end" fill="#222">0</text>
<line x1="25" y1="421.85" x2="26" y2="421.85" stroke="#666" stroke-width="0.5"/>
<line x1="24.5" y1="416.2" x2="26" y2="416.2" stroke="#444" stroke-width="0.6"/>
<text x="23.5" y="418.1" font-size="5.4" font-weight="bold" font-style="normal" text-anchor="end" fill="#222">20</text>
<line x1="25" y1="410.55" x2="26" y2="410.55" stroke="#666" stroke-width="0.5"/>
<line x1="24.5" y1="404.9" x2="26" y2="404.9" stroke="#444" stroke-width="0.6"/>
<text x="23.5" y="406.8" font-size="5.4" font-weight="bold" font-style="normal" text-anchor="end" fill="#222">40</text>
<line x1="25" y1="399.25" x2="26" y2="399.25" stroke="#666" stroke-width="0.5"/>
<line x1="24.5" y1="393.6" x2="26" y2="393.6" stroke="#444" stroke-width="0.6"/>
<text x="23.5" y="395.5" font-size="5.4" font-weight="bold" font-style="normal" text-anchor="end" fill="#222">60</text>
<line x1="25" y1="387.95" x2="26" y2="387.95" stroke="#666" stroke-width="0.5"/>
<line x1="24.5" y1="382.3" x2="26" y2="382.3" stroke="#444" stroke-width="0.6"/>
<text x="23.5" y="384.2" font-size="5.4" font-weight="bold" font-style="normal" text-anchor="end" fill="#222">80</text>
<line x1="25" y1="376.65" x2="26" y2="376.65" stroke="#666" stroke-width="0.5"/>
<line x1="24.5" y1="371" x2="26" y2="371" stroke="#444" stroke-width="0.6"/>
<text x="23.5" y="372.9" font-size="5.4" font-weight="bold" font-style="normal" text-anchor="end" fill="#222">100</text>
<line x1="43.9" y1="427.5" x2="43.9" y2="429.5" stroke="#555" stroke-width="0.6"/>
<line x1="54.9478" y1="427.5" x2="54.9478" y2="428.7" stroke="#555" stroke-width="0.6"/>
<line x1="61.4104" y1="427.5" x2="61.4104" y2="428.7" stroke="#555" stroke-width="0.6"/>
<line x1="65.9956" y1="427.5" x2="65.9956" y2="428.7" stroke="#555" stroke-width="0.6"/>
<line x1="69.5522" y1="427.5" x2="69.5522" y2="428.7" stroke="#555" stroke-width="0.6"/>
<line x1="72.4582" y1="427.5" x2="72.4582" y2="428.7" stroke="#555" stroke-width="0.6"/>
<line x1="74.9151" y1="427.5" x2="74.9151" y2="428.7" stroke="#555" stroke-width="0.6"/>
<line x1="77.0434" y1="427.5" x2="77.0434" y2="428.7" stroke="#555" stroke-width="0.6"/>
<line x1="78.9207" y1="427.5" x2="78.9207" y2="428.7" stroke="#555" stroke-width="0.6"/>
<line x1="80.6" y1="427.5" x2="80.6" y2="429.5" stroke="#555" stroke-width="0.6"/>
<line x1="91.6478" y1="427.5" x2="91.6478" y2="428.7" stroke="#555" stroke-width="0.6"/>
<line x1="98.1104" y1="427.5" x2="98.1104" y2="428.7" stroke="#555" stroke-width="0.6"/>
<line x1="102.696" y1="427.5" x2="102.696" y2="428.7" stroke="#555" stroke-width="0.6"/>
<line x1="106.252" y1="427.5" x2="106.252" y2="428.7" stroke="#555" stroke-width="0.6"/>
<line x1="109.158" y1="427.5" x2="109.158" y2="428.7" stroke="#555" stroke-width="0.6"/>
<line x1="111.615" y1="427.5" x2="111.615" y2="428.7" stroke="#555" stroke-width="0.6"/>
<line x1="113.743" y1="427.5" x2="113.743" y2="428.7" stroke="#555" stroke-width="0.6"/>
<line x1="115.621" y1="427.5" x2="115.621" y2="428.7" stroke="#555" stroke-width="0.6"/>
<line x1="117.3" y1="427.5" x2="117.3" y2="429.5" stroke="#555" stroke-width="0.6"/>
<text x="43.9" y="435.7" font-size="6.2" font-weight="normal" font-style="normal" text-anchor="middle" fill="#222" stroke="#000" stroke-width="0.3">0.1</text>
<text x="80.6" y="435.7" font-size="6.2" font-weight="normal" font-style="normal" text-anchor="middle" fill="#222" stroke="#000" stroke-width="0.3">1</text>
<text x="117.3" y="435.7" font-size="6.2" font-weight="normal" font-style="normal" text-anchor="middle" fill="#222" stroke="#000" stroke-width="0.3">10</text>
<text x="80.5" y="445.3" font-size="9.8" font-weight="normal" font-style="normal" text-anchor="middle" fill="#000" stroke="#000" stroke-width="0.3">UNC1999 (µM)</text>
<text x="8.2" y="403" font-size="7.9" font-weight="normal" font-style="normal" text-anchor="middle" fill="#000" transform="rotate(-90 8.2 403)" stroke="#000" stroke-width="0.3">Relative Proliferation</text>
<polyline points="43.90,371.22 44.80,371.25 45.71,371.28 46.61,371.31 47.51,371.35 48.42,371.39 49.32,371.43 50.22,371.48 51.13,371.54 52.03,371.61 52.94,371.68 53.84,371.76 54.74,371.85 55.65,371.95 56.55,372.06 57.45,372.18 58.36,372.32 59.26,372.48 60.16,372.65 61.07,372.84 61.97,373.05 62.87,373.29 63.78,373.55 64.68,373.84 65.58,374.17 66.49,374.52 67.39,374.92 68.29,375.35 69.20,375.83 70.10,376.35 71.01,376.93 71.91,377.56 72.81,378.24 73.72,378.99 74.62,379.80 75.52,380.67 76.43,381.62 77.33,382.63 78.23,383.71 79.14,384.86 80.04,386.08 80.94,387.37 81.85,388.72 82.75,390.12 83.65,391.58 84.56,393.09 85.46,394.63 86.36,396.20 87.27,397.79 88.17,399.39 89.08,400.99 89.98,402.58 90.88,404.15 91.79,405.68 92.69,407.18 93.59,408.63 94.50,410.03 95.40,411.37 96.30,412.64 97.21,413.85 98.11,414.99" stroke="#333" stroke-width="0.85" fill="none"/>
<polyline points="43.90,371.19 44.80,371.22 45.71,371.25 46.61,371.29 47.51,371.33 48.42,371.39 49.32,371.45 50.22,371.52 51.13,371.60 52.03,371.69 52.94,371.80 53.84,371.93 54.74,372.07 55.65,372.24 56.55,372.43 57.45,372.65 58.36,372.91 59.26,373.20 60.16,373.53 61.07,373.91 61.97,374.35 62.87,374.84 63.78,375.41 64.68,376.04 65.58,376.76 66.49,377.57 67.39,378.47 68.29,379.48 69.20,380.60 70.10,381.83 71.01,383.18 71.91,384.65 72.81,386.23 73.72,387.93 74.62,389.73 75.52,391.61 76.43,393.58 77.33,395.60 78.23,397.67 79.14,399.75 80.04,401.82 80.94,403.87 81.85,405.87 82.75,407.80 83.65,409.65 84.56,411.39 85.46,413.04 86.36,414.57 87.27,415.98 88.17,417.27 89.08,418.45 89.98,419.51 90.88,420.47 91.79,421.33 92.69,422.09 93.59,422.77 94.50,423.37 95.40,423.90 96.30,424.37 97.21,424.78 98.11,425.13" stroke="#333" stroke-width="0.85" fill="none"/>
<polyline points="43.90,371.73 44.80,371.76 45.71,371.79 46.61,371.83 47.51,371.88 48.42,371.93 49.32,371.99 50.22,372.06 51.13,372.15 52.03,372.25 52.94,372.36 53.84,372.50 54.74,372.66 55.65,372.84 56.55,373.05 57.45,373.30 58.36,373.59 59.26,373.92 60.16,374.31 61.07,374.75 61.97,375.26 62.87,375.85 63.78,376.52 64.68,377.29 65.58,378.16 66.49,379.14 67.39,380.24 68.29,381.46 69.20,382.82 70.10,384.32 71.01,385.95 71.91,387.71 72.81,389.59 73.72,391.58 74.62,393.67 75.52,395.82 76.43,398.02 77.33,400.24 78.23,402.44 79.14,404.62 80.04,406.73 80.94,408.76 81.85,410.68 82.75,412.49 83.65,414.16 84.56,415.71 85.46,417.12 86.36,418.39 87.27,419.54 88.17,420.56 89.08,421.47 89.98,422.27 90.88,422.98 91.79,423.60 92.69,424.13 93.59,424.60 94.50,425.01 95.40,425.36 96.30,425.66 97.21,425.93 98.11,426.15" stroke="#333" stroke-width="0.85" fill="none"/>
<polyline points="43.90,372.26 44.80,372.29 45.71,372.31 46.61,372.35 47.51,372.39 48.42,372.44 49.32,372.49 50.22,372.56 51.13,372.64 52.03,372.73 52.94,372.84 53.84,372.97 54.74,373.12 55.65,373.30 56.55,373.51 57.45,373.76 58.36,374.05 59.26,374.40 60.16,374.80 61.07,375.26 61.97,375.81 62.87,376.43 63.78,377.16 64.68,377.99 65.58,378.95 66.49,380.03 67.39,381.25 68.29,382.62 69.20,384.15 70.10,385.82 71.01,387.65 71.91,389.62 72.81,391.71 73.72,393.92 74.62,396.20 75.52,398.53 76.43,400.89 77.33,403.22 78.23,405.51 79.14,407.72 80.04,409.83 80.94,411.81 81.85,413.65 82.75,415.34 83.65,416.88 84.56,418.26 85.46,419.50 86.36,420.59 87.27,421.56 88.17,422.40 89.08,423.13 89.98,423.77 90.88,424.32 91.79,424.79 92.69,425.20 93.59,425.55 94.50,425.84 95.40,426.10 96.30,426.31 97.21,426.49 98.11,426.65" stroke="#333" stroke-width="0.85" fill="none"/>
<line x1="43.15" y1="368" x2="43.15" y2="374" stroke="#222" stroke-width="0.7"/>
<line x1="41.95" y1="368" x2="44.35" y2="368" stroke="#222" stroke-width="0.7"/>
<line x1="41.95" y1="374" x2="44.35" y2="374" stroke="#222" stroke-width="0.7"/>
<rect x="42.25" y="370.1" width="1.8" height="1.8" fill="#3c4880" stroke="none" stroke-width="1"/>
<line x1="57.7544" y1="370.825" x2="57.7544" y2="376.825" stroke="#222" stroke-width="0.7"/>
<line x1="56.5544" y1="370.825" x2="58.9544" y2="370.825" stroke="#222" stroke-width="0.7"/>
<line x1="56.5544" y1="376.825" x2="58.9544" y2="376.825" stroke="#222" stroke-width="0.7"/>
<rect x="56.8544" y="372.925" width="1.8" height="1.8" fill="#3c4880" stroke="none" stroke-width="1"/>
<line x1="68.8022" y1="380.995" x2="68.8022" y2="386.995" stroke="#222" stroke-width="0.7"/>
<line x1="67.6022" y1="380.995" x2="70.0022" y2="380.995" stroke="#222" stroke-width="0.7"/>
<line x1="67.6022" y1="386.995" x2="70.0022" y2="386.995" stroke="#222" stroke-width="0.7"/>
<rect x="67.9022" y="383.095" width="1.8" height="1.8" fill="#3c4880" stroke="none" stroke-width="1"/>
<line x1="79.85" y1="383.82" x2="79.85" y2="389.82" stroke="#222" stroke-width="0.7"/>
<line x1="78.65" y1="383.82" x2="81.05" y2="383.82" stroke="#222" stroke-width="0.7"/>
<line x1="78.65" y1="389.82" x2="81.05" y2="389.82" stroke="#222" stroke-width="0.7"/>
<rect x="78.95" y="385.92" width="1.8" height="1.8" fill="#3c4880" stroke="none" stroke-width="1"/>
<line x1="90.8978" y1="399.075" x2="90.8978" y2="405.075" stroke="#222" stroke-width="0.7"/>
<line x1="89.6978" y1="399.075" x2="92.0978" y2="399.075" stroke="#222" stroke-width="0.7"/>
<line x1="89.6978" y1="405.075" x2="92.0978" y2="405.075" stroke="#222" stroke-width="0.7"/>
<rect x="89.9978" y="401.175" width="1.8" height="1.8" fill="#3c4880" stroke="none" stroke-width="1"/>
<line x1="97.3604" y1="412.635" x2="97.3604" y2="418.635" stroke="#222" stroke-width="0.7"/>
<line x1="96.1604" y1="412.635" x2="98.5604" y2="412.635" stroke="#222" stroke-width="0.7"/>
<line x1="96.1604" y1="418.635" x2="98.5604" y2="418.635" stroke="#222" stroke-width="0.7"/>
<rect x="96.4604" y="414.735" width="1.8" height="1.8" fill="#3c4880" stroke="none" stroke-width="1"/>
<line x1="43.65" y1="370.26" x2="43.65" y2="376.26" stroke="#222" stroke-width="0.7"/>
<line x1="42.45" y1="370.26" x2="44.85" y2="370.26" stroke="#222" stroke-width="0.7"/>
<line x1="42.45" y1="376.26" x2="44.85" y2="376.26" stroke="#222" stroke-width="0.7"/>
<rect x="42.75" y="372.36" width="1.8" height="1.8" fill="#8a9a6a" stroke="none" stroke-width="1"/>
<line x1="58.2544" y1="371.955" x2="58.2544" y2="377.955" stroke="#222" stroke-width="0.7"/>
<line x1="57.0544" y1="371.955" x2="59.4544" y2="371.955" stroke="#222" stroke-width="0.7"/>
<line x1="57.0544" y1="377.955" x2="59.4544" y2="377.955" stroke="#222" stroke-width="0.7"/>
<rect x="57.3544" y="374.055" width="1.8" height="1.8" fill="#8a9a6a" stroke="none" stroke-width="1"/>
<line x1="69.3022" y1="383.82" x2="69.3022" y2="389.82" stroke="#222" stroke-width="0.7"/>
<line x1="68.1022" y1="383.82" x2="70.5022" y2="383.82" stroke="#222" stroke-width="0.7"/>
<line x1="68.1022" y1="389.82" x2="70.5022" y2="389.82" stroke="#222" stroke-width="0.7"/>
<rect x="68.4022" y="385.92" width="1.8" height="1.8" fill="#8a9a6a" stroke="none" stroke-width="1"/>
<line x1="80.35" y1="397.945" x2="80.35" y2="403.945" stroke="#222" stroke-width="0.7"/>
<line x1="79.15" y1="397.945" x2="81.55" y2="397.945" stroke="#222" stroke-width="0.7"/>
<line x1="79.15" y1="403.945" x2="81.55" y2="403.945" stroke="#222" stroke-width="0.7"/>
<rect x="79.45" y="400.045" width="1.8" height="1.8" fill="#8a9a6a" stroke="none" stroke-width="1"/>
<line x1="91.3978" y1="407.55" x2="91.3978" y2="413.55" stroke="#222" stroke-width="0.7"/>
<line x1="90.1978" y1="407.55" x2="92.5978" y2="407.55" stroke="#222" stroke-width="0.7"/>
<line x1="90.1978" y1="413.55" x2="92.5978" y2="413.55" stroke="#222" stroke-width="0.7"/>
<rect x="90.4978" y="409.65" width="1.8" height="1.8" fill="#8a9a6a" stroke="none" stroke-width="1"/>
<line x1="97.8604" y1="421.675" x2="97.8604" y2="427.675" stroke="#222" stroke-width="0.7"/>
<line x1="96.6604" y1="421.675" x2="99.0604" y2="421.675" stroke="#222" stroke-width="0.7"/>
<line x1="96.6604" y1="427.675" x2="99.0604" y2="427.675" stroke="#222" stroke-width="0.7"/>
<rect x="96.9604" y="423.775" width="1.8" height="1.8" fill="#8a9a6a" stroke="none" stroke-width="1"/>
<line x1="44.15" y1="370.825" x2="44.15" y2="376.825" stroke="#222" stroke-width="0.7"/>
<line x1="42.95" y1="370.825" x2="45.35" y2="370.825" stroke="#222" stroke-width="0.7"/>
<line x1="42.95" y1="376.825" x2="45.35" y2="376.825" stroke="#222" stroke-width="0.7"/>
<rect x="43.25" y="372.925" width="1.8" height="1.8" fill="#3c3670" stroke="none" stroke-width="1"/>
<line x1="58.7544" y1="373.65" x2="58.7544" y2="379.65" stroke="#222" stroke-width="0.7"/>
<line x1="57.5544" y1="373.65" x2="59.9544" y2="373.65" stroke="#222" stroke-width="0.7"/>
<line x1="57.5544" y1="379.65" x2="59.9544" y2="379.65" stroke="#222" stroke-width="0.7"/>
<rect x="57.8544" y="375.75" width="1.8" height="1.8" fill="#3c3670" stroke="none" stroke-width="1"/>
<line x1="69.8022" y1="387.775" x2="69.8022" y2="393.775" stroke="#222" stroke-width="0.7"/>
<line x1="68.6022" y1="387.775" x2="71.0022" y2="387.775" stroke="#222" stroke-width="0.7"/>
<line x1="68.6022" y1="393.775" x2="71.0022" y2="393.775" stroke="#222" stroke-width="0.7"/>
<rect x="68.9022" y="389.875" width="1.8" height="1.8" fill="#3c3670" stroke="none" stroke-width="1"/>
<line x1="80.85" y1="401.9" x2="80.85" y2="407.9" stroke="#222" stroke-width="0.7"/>
<line x1="79.65" y1="401.9" x2="82.05" y2="401.9" stroke="#222" stroke-width="0.7"/>
<line x1="79.65" y1="407.9" x2="82.05" y2="407.9" stroke="#222" stroke-width="0.7"/>
<rect x="79.95" y="404" width="1.8" height="1.8" fill="#3c3670" stroke="none" stroke-width="1"/>
<line x1="91.8978" y1="410.375" x2="91.8978" y2="416.375" stroke="#222" stroke-width="0.7"/>
<line x1="90.6978" y1="410.375" x2="93.0978" y2="410.375" stroke="#222" stroke-width="0.7"/>
<line x1="90.6978" y1="416.375" x2="93.0978" y2="416.375" stroke="#222" stroke-width="0.7"/>
<rect x="90.9978" y="412.475" width="1.8" height="1.8" fill="#3c3670" stroke="none" stroke-width="1"/>
<line x1="98.3604" y1="423.37" x2="98.3604" y2="429.37" stroke="#222" stroke-width="0.7"/>
<line x1="97.1604" y1="423.37" x2="99.5604" y2="423.37" stroke="#222" stroke-width="0.7"/>
<line x1="97.1604" y1="429.37" x2="99.5604" y2="429.37" stroke="#222" stroke-width="0.7"/>
<rect x="97.4604" y="425.47" width="1.8" height="1.8" fill="#3c3670" stroke="none" stroke-width="1"/>
<line x1="44.65" y1="371.955" x2="44.65" y2="377.955" stroke="#222" stroke-width="0.7"/>
<line x1="43.45" y1="371.955" x2="45.85" y2="371.955" stroke="#222" stroke-width="0.7"/>
<line x1="43.45" y1="377.955" x2="45.85" y2="377.955" stroke="#222" stroke-width="0.7"/>
<rect x="43.75" y="374.055" width="1.8" height="1.8" fill="#c08a62" stroke="none" stroke-width="1"/>
<line x1="59.2544" y1="376.475" x2="59.2544" y2="382.475" stroke="#222" stroke-width="0.7"/>
<line x1="58.0544" y1="376.475" x2="60.4544" y2="376.475" stroke="#222" stroke-width="0.7"/>
<line x1="58.0544" y1="382.475" x2="60.4544" y2="382.475" stroke="#222" stroke-width="0.7"/>
<rect x="58.3544" y="378.575" width="1.8" height="1.8" fill="#c08a62" stroke="none" stroke-width="1"/>
<line x1="70.3022" y1="389.47" x2="70.3022" y2="395.47" stroke="#222" stroke-width="0.7"/>
<line x1="69.1022" y1="389.47" x2="71.5022" y2="389.47" stroke="#222" stroke-width="0.7"/>
<line x1="69.1022" y1="395.47" x2="71.5022" y2="395.47" stroke="#222" stroke-width="0.7"/>
<rect x="69.4022" y="391.57" width="1.8" height="1.8" fill="#c08a62" stroke="none" stroke-width="1"/>
<line x1="81.35" y1="399.075" x2="81.35" y2="405.075" stroke="#222" stroke-width="0.7"/>
<line x1="80.15" y1="399.075" x2="82.55" y2="399.075" stroke="#222" stroke-width="0.7"/>
<line x1="80.15" y1="405.075" x2="82.55" y2="405.075" stroke="#222" stroke-width="0.7"/>
<rect x="80.45" y="401.175" width="1.8" height="1.8" fill="#c08a62" stroke="none" stroke-width="1"/>
<line x1="92.3978" y1="421.675" x2="92.3978" y2="427.675" stroke="#222" stroke-width="0.7"/>
<line x1="91.1978" y1="421.675" x2="93.5978" y2="421.675" stroke="#222" stroke-width="0.7"/>
<line x1="91.1978" y1="427.675" x2="93.5978" y2="427.675" stroke="#222" stroke-width="0.7"/>
<rect x="91.4978" y="423.775" width="1.8" height="1.8" fill="#c08a62" stroke="none" stroke-width="1"/>
<line x1="98.8604" y1="423.935" x2="98.8604" y2="429.935" stroke="#222" stroke-width="0.7"/>
<line x1="97.6604" y1="423.935" x2="100.06" y2="423.935" stroke="#222" stroke-width="0.7"/>
<line x1="97.6604" y1="429.935" x2="100.06" y2="429.935" stroke="#222" stroke-width="0.7"/>
<rect x="97.9604" y="426.035" width="1.8" height="1.8" fill="#c08a62" stroke="none" stroke-width="1"/>
<line x1="85" y1="358.8" x2="94" y2="358.8" stroke="#3c4880" stroke-width="1.4"/>
<rect x="88.3" y="357.6" width="2.4" height="2.4" fill="#3c4880" stroke="none" stroke-width="1"/>
<text x="98.8" y="361.3" font-size="7" font-weight="normal" font-style="normal" text-anchor="start" fill="#111" stroke="#000" stroke-width="0.3">Day 4</text>
<line x1="85" y1="367.1" x2="94" y2="367.1" stroke="#8a9a6a" stroke-width="1.4"/>
<rect x="88.3" y="365.9" width="2.4" height="2.4" fill="#8a9a6a" stroke="none" stroke-width="1"/>
<text x="98.8" y="369.6" font-size="7" font-weight="normal" font-style="normal" text-anchor="start" fill="#111" stroke="#000" stroke-width="0.3">Day 8</text>
<line x1="85" y1="375.4" x2="94" y2="375.4" stroke="#3c3670" stroke-width="1.4"/>
<rect x="88.3" y="374.2" width="2.4" height="2.4" fill="#3c3670" stroke="none" stroke-width="1"/>
<text x="98.8" y="377.9" font-size="7" font-weight="normal" font-style="normal" text-anchor="start" fill="#111" stroke="#000" stroke-width="0.3">Day 12</text>
<line x1="85" y1="383.7" x2="94" y2="383.7" stroke="#c08a62" stroke-width="1.4"/>
<rect x="88.3" y="382.5" width="2.4" height="2.4" fill="#c08a62" stroke="none" stroke-width="1"/>
<text x="98.8" y="386.2" font-size="7" font-weight="normal" font-style="normal" text-anchor="start" fill="#111" stroke="#000" stroke-width="0.3">Day 16</text>
<text x="129.8" y="354.4" font-size="11.5" font-weight="bold" font-style="normal" text-anchor="start" fill="#000">H</text>
<text x="156.6" y="362.9" font-size="9.4" font-weight="bold" font-style="normal" text-anchor="start" fill="#000" stroke="#000" stroke-width="0.2">EOL-1</text>
<line x1="150.3" y1="369.24" x2="150.3" y2="428" stroke="#444" stroke-width="0.9"/>
<line x1="150.3" y1="428" x2="239.9" y2="428" stroke="#444" stroke-width="0.9"/>
<line x1="148.8" y1="428" x2="150.3" y2="428" stroke="#444" stroke-width="0.6"/>
<text x="147.8" y="429.9" font-size="5.4" font-weight="bold" font-style="normal" text-anchor="end" fill="#222">0</text>
<line x1="149.3" y1="422.35" x2="150.3" y2="422.35" stroke="#666" stroke-width="0.5"/>
<line x1="148.8" y1="416.7" x2="150.3" y2="416.7" stroke="#444" stroke-width="0.6"/>
<text x="147.8" y="418.6" font-size="5.4" font-weight="bold" font-style="normal" text-anchor="end" fill="#222">20</text>
<line x1="149.3" y1="411.05" x2="150.3" y2="411.05" stroke="#666" stroke-width="0.5"/>
<line x1="148.8" y1="405.4" x2="150.3" y2="405.4" stroke="#444" stroke-width="0.6"/>
<text x="147.8" y="407.3" font-size="5.4" font-weight="bold" font-style="normal" text-anchor="end" fill="#222">40</text>
<line x1="149.3" y1="399.75" x2="150.3" y2="399.75" stroke="#666" stroke-width="0.5"/>
<line x1="148.8" y1="394.1" x2="150.3" y2="394.1" stroke="#444" stroke-width="0.6"/>
<text x="147.8" y="396" font-size="5.4" font-weight="bold" font-style="normal" text-anchor="end" fill="#222">60</text>
<line x1="149.3" y1="388.45" x2="150.3" y2="388.45" stroke="#666" stroke-width="0.5"/>
<line x1="148.8" y1="382.8" x2="150.3" y2="382.8" stroke="#444" stroke-width="0.6"/>
<text x="147.8" y="384.7" font-size="5.4" font-weight="bold" font-style="normal" text-anchor="end" fill="#222">80</text>
<line x1="149.3" y1="377.15" x2="150.3" y2="377.15" stroke="#666" stroke-width="0.5"/>
<line x1="148.8" y1="371.5" x2="150.3" y2="371.5" stroke="#444" stroke-width="0.6"/>
<text x="147.8" y="373.4" font-size="5.4" font-weight="bold" font-style="normal" text-anchor="end" fill="#222">100</text>
<line x1="166.3" y1="428" x2="166.3" y2="430" stroke="#555" stroke-width="0.6"/>
<line x1="177.077" y1="428" x2="177.077" y2="429.2" stroke="#555" stroke-width="0.6"/>
<line x1="183.381" y1="428" x2="183.381" y2="429.2" stroke="#555" stroke-width="0.6"/>
<line x1="187.854" y1="428" x2="187.854" y2="429.2" stroke="#555" stroke-width="0.6"/>
<line x1="191.323" y1="428" x2="191.323" y2="429.2" stroke="#555" stroke-width="0.6"/>
<line x1="194.158" y1="428" x2="194.158" y2="429.2" stroke="#555" stroke-width="0.6"/>
<line x1="196.555" y1="428" x2="196.555" y2="429.2" stroke="#555" stroke-width="0.6"/>
<line x1="198.631" y1="428" x2="198.631" y2="429.2" stroke="#555" stroke-width="0.6"/>
<line x1="200.462" y1="428" x2="200.462" y2="429.2" stroke="#555" stroke-width="0.6"/>
<line x1="202.1" y1="428" x2="202.1" y2="430" stroke="#555" stroke-width="0.6"/>
<line x1="212.877" y1="428" x2="212.877" y2="429.2" stroke="#555" stroke-width="0.6"/>
<line x1="219.181" y1="428" x2="219.181" y2="429.2" stroke="#555" stroke-width="0.6"/>
<line x1="223.654" y1="428" x2="223.654" y2="429.2" stroke="#555" stroke-width="0.6"/>
<line x1="227.123" y1="428" x2="227.123" y2="429.2" stroke="#555" stroke-width="0.6"/>
<line x1="229.958" y1="428" x2="229.958" y2="429.2" stroke="#555" stroke-width="0.6"/>
<line x1="232.355" y1="428" x2="232.355" y2="429.2" stroke="#555" stroke-width="0.6"/>
<line x1="234.431" y1="428" x2="234.431" y2="429.2" stroke="#555" stroke-width="0.6"/>
<line x1="236.262" y1="428" x2="236.262" y2="429.2" stroke="#555" stroke-width="0.6"/>
<line x1="237.9" y1="428" x2="237.9" y2="430" stroke="#555" stroke-width="0.6"/>
<text x="166.3" y="436.2" font-size="6.2" font-weight="normal" font-style="normal" text-anchor="middle" fill="#222" stroke="#000" stroke-width="0.3">0.1</text>
<text x="202.1" y="436.2" font-size="6.2" font-weight="normal" font-style="normal" text-anchor="middle" fill="#222" stroke="#000" stroke-width="0.3">1</text>
<text x="237.9" y="436.2" font-size="6.2" font-weight="normal" font-style="normal" text-anchor="middle" fill="#222" stroke="#000" stroke-width="0.3">10</text>
<text x="203" y="445.8" font-size="9.8" font-weight="normal" font-style="normal" text-anchor="middle" fill="#000" stroke="#000" stroke-width="0.3">UNC1999 (µM)</text>
<text x="137.3" y="401.8" font-size="7.9" font-weight="normal" font-style="normal" text-anchor="middle" fill="#000" transform="rotate(-90 137.3 401.8)" stroke="#000" stroke-width="0.3">Relative Proliferation</text>
<polyline points="166.30,378.33 167.18,378.61 168.06,378.89 168.94,379.19 169.83,379.49 170.71,379.81 171.59,380.13 172.47,380.47 173.35,380.81 174.23,381.16 175.11,381.52 175.99,381.90 176.88,382.28 177.76,382.67 178.64,383.07 179.52,383.48 180.40,383.90 181.28,384.32 182.16,384.76 183.05,385.21 183.93,385.66 184.81,386.12 185.69,386.59 186.57,387.07 187.45,387.55 188.33,388.04 189.22,388.54 190.10,389.04 190.98,389.55 191.86,390.06 192.74,390.58 193.62,391.10 194.50,391.62 195.38,392.15 196.27,392.68 197.15,393.21 198.03,393.74 198.91,394.27 199.79,394.80 200.67,395.33 201.55,395.86 202.44,396.39 203.32,396.91 204.20,397.43 205.08,397.95 205.96,398.47 206.84,398.98 207.72,399.48 208.60,399.98 209.49,400.47 210.37,400.96 211.25,401.44 212.13,401.91 213.01,402.37 213.89,402.83 214.77,403.28 215.66,403.72 216.54,404.15 217.42,404.57 218.30,404.98 219.18,405.39" stroke="#333" stroke-width="0.85" fill="none"/>
<polyline points="166.30,390.02 167.18,390.47 168.06,390.93 168.94,391.41 169.83,391.90 170.71,392.41 171.59,392.92 172.47,393.45 173.35,394.00 174.23,394.55 175.11,395.11 175.99,395.69 176.88,396.28 177.76,396.87 178.64,397.48 179.52,398.09 180.40,398.71 181.28,399.33 182.16,399.96 183.05,400.59 183.93,401.23 184.81,401.87 185.69,402.51 186.57,403.15 187.45,403.79 188.33,404.43 189.22,405.06 190.10,405.69 190.98,406.32 191.86,406.94 192.74,407.55 193.62,408.16 194.50,408.76 195.38,409.34 196.27,409.92 197.15,410.49 198.03,411.05 198.91,411.59 199.79,412.12 200.67,412.64 201.55,413.15 202.44,413.64 203.32,414.12 204.20,414.59 205.08,415.04 205.96,415.48 206.84,415.91 207.72,416.32 208.60,416.71 209.49,417.10 210.37,417.47 211.25,417.82 212.13,418.16 213.01,418.49 213.89,418.81 214.77,419.11 215.66,419.40 216.54,419.68 217.42,419.95 218.30,420.21 219.18,420.45" stroke="#333" stroke-width="0.85" fill="none"/>
<polyline points="166.30,391.84 167.18,392.62 168.06,393.42 168.94,394.25 169.83,395.09 170.71,395.96 171.59,396.84 172.47,397.74 173.35,398.65 174.23,399.57 175.11,400.49 175.99,401.43 176.88,402.36 177.76,403.30 178.64,404.23 179.52,405.16 180.40,406.09 181.28,407.00 182.16,407.90 183.05,408.79 183.93,409.66 184.81,410.52 185.69,411.35 186.57,412.17 187.45,412.96 188.33,413.73 189.22,414.47 190.10,415.19 190.98,415.89 191.86,416.55 192.74,417.19 193.62,417.81 194.50,418.39 195.38,418.95 196.27,419.49 197.15,420.00 198.03,420.48 198.91,420.94 199.79,421.38 200.67,421.79 201.55,422.18 202.44,422.55 203.32,422.90 204.20,423.23 205.08,423.54 205.96,423.83 206.84,424.10 207.72,424.36 208.60,424.60 209.49,424.83 210.37,425.04 211.25,425.24 212.13,425.42 213.01,425.60 213.89,425.76 214.77,425.91 215.66,426.06 216.54,426.19 217.42,426.31 218.30,426.43 219.18,426.54" stroke="#333" stroke-width="0.85" fill="none"/>
<polyline points="166.30,398.89 167.18,400.03 168.06,401.17 168.94,402.33 169.83,403.48 170.71,404.63 171.59,405.77 172.47,406.90 173.35,408.01 174.23,409.09 175.11,410.16 175.99,411.19 176.88,412.20 177.76,413.17 178.64,414.10 179.52,415.00 180.40,415.86 181.28,416.68 182.16,417.46 183.05,418.19 183.93,418.89 184.81,419.55 185.69,420.17 186.57,420.75 187.45,421.30 188.33,421.81 189.22,422.28 190.10,422.73 190.98,423.14 191.86,423.53 192.74,423.88 193.62,424.21 194.50,424.52 195.38,424.80 196.27,425.06 197.15,425.30 198.03,425.53 198.91,425.73 199.79,425.92 200.67,426.09 201.55,426.25 202.44,426.40 203.32,426.53 204.20,426.66 205.08,426.77 205.96,426.88 206.84,426.97 207.72,427.06 208.60,427.14 209.49,427.21 210.37,427.28 211.25,427.34 212.13,427.40 213.01,427.45 213.89,427.50 214.77,427.54 215.66,427.58 216.54,427.62 217.42,427.65 218.30,427.68 219.18,427.71" stroke="#333" stroke-width="0.85" fill="none"/>
<line x1="165.55" y1="375.28" x2="165.55" y2="381.28" stroke="#222" stroke-width="0.7"/>
<line x1="164.35" y1="375.28" x2="166.75" y2="375.28" stroke="#222" stroke-width="0.7"/>
<line x1="164.35" y1="381.28" x2="166.75" y2="381.28" stroke="#222" stroke-width="0.7"/>
<rect x="164.65" y="377.38" width="1.8" height="1.8" fill="#3c4880" stroke="none" stroke-width="1"/>
<line x1="179.796" y1="380.365" x2="179.796" y2="386.365" stroke="#222" stroke-width="0.7"/>
<line x1="178.596" y1="380.365" x2="180.996" y2="380.365" stroke="#222" stroke-width="0.7"/>
<line x1="178.596" y1="386.365" x2="180.996" y2="386.365" stroke="#222" stroke-width="0.7"/>
<rect x="178.896" y="382.465" width="1.8" height="1.8" fill="#3c4880" stroke="none" stroke-width="1"/>
<line x1="190.573" y1="388.275" x2="190.573" y2="394.275" stroke="#222" stroke-width="0.7"/>
<line x1="189.373" y1="388.275" x2="191.773" y2="388.275" stroke="#222" stroke-width="0.7"/>
<line x1="189.373" y1="394.275" x2="191.773" y2="394.275" stroke="#222" stroke-width="0.7"/>
<rect x="189.673" y="390.375" width="1.8" height="1.8" fill="#3c4880" stroke="none" stroke-width="1"/>
<line x1="201.35" y1="392.795" x2="201.35" y2="398.795" stroke="#222" stroke-width="0.7"/>
<line x1="200.15" y1="392.795" x2="202.55" y2="392.795" stroke="#222" stroke-width="0.7"/>
<line x1="200.15" y1="398.795" x2="202.55" y2="398.795" stroke="#222" stroke-width="0.7"/>
<rect x="200.45" y="394.895" width="1.8" height="1.8" fill="#3c4880" stroke="none" stroke-width="1"/>
<line x1="212.127" y1="400.705" x2="212.127" y2="406.705" stroke="#222" stroke-width="0.7"/>
<line x1="210.927" y1="400.705" x2="213.327" y2="400.705" stroke="#222" stroke-width="0.7"/>
<line x1="210.927" y1="406.705" x2="213.327" y2="406.705" stroke="#222" stroke-width="0.7"/>
<rect x="211.227" y="402.805" width="1.8" height="1.8" fill="#3c4880" stroke="none" stroke-width="1"/>
<line x1="218.431" y1="402.4" x2="218.431" y2="408.4" stroke="#222" stroke-width="0.7"/>
<line x1="217.231" y1="402.4" x2="219.631" y2="402.4" stroke="#222" stroke-width="0.7"/>
<line x1="217.231" y1="408.4" x2="219.631" y2="408.4" stroke="#222" stroke-width="0.7"/>
<rect x="217.531" y="404.5" width="1.8" height="1.8" fill="#3c4880" stroke="none" stroke-width="1"/>
<line x1="166.05" y1="389.405" x2="166.05" y2="395.405" stroke="#222" stroke-width="0.7"/>
<line x1="164.85" y1="389.405" x2="167.25" y2="389.405" stroke="#222" stroke-width="0.7"/>
<line x1="164.85" y1="395.405" x2="167.25" y2="395.405" stroke="#222" stroke-width="0.7"/>
<rect x="165.15" y="391.505" width="1.8" height="1.8" fill="#8a9a6a" stroke="none" stroke-width="1"/>
<line x1="180.296" y1="399.575" x2="180.296" y2="405.575" stroke="#222" stroke-width="0.7"/>
<line x1="179.096" y1="399.575" x2="181.496" y2="399.575" stroke="#222" stroke-width="0.7"/>
<line x1="179.096" y1="405.575" x2="181.496" y2="405.575" stroke="#222" stroke-width="0.7"/>
<rect x="179.396" y="401.675" width="1.8" height="1.8" fill="#8a9a6a" stroke="none" stroke-width="1"/>
<line x1="191.073" y1="406.92" x2="191.073" y2="412.92" stroke="#222" stroke-width="0.7"/>
<line x1="189.873" y1="406.92" x2="192.273" y2="406.92" stroke="#222" stroke-width="0.7"/>
<line x1="189.873" y1="412.92" x2="192.273" y2="412.92" stroke="#222" stroke-width="0.7"/>
<rect x="190.173" y="409.02" width="1.8" height="1.8" fill="#8a9a6a" stroke="none" stroke-width="1"/>
<line x1="201.85" y1="412.57" x2="201.85" y2="418.57" stroke="#222" stroke-width="0.7"/>
<line x1="200.65" y1="412.57" x2="203.05" y2="412.57" stroke="#222" stroke-width="0.7"/>
<line x1="200.65" y1="418.57" x2="203.05" y2="418.57" stroke="#222" stroke-width="0.7"/>
<rect x="200.95" y="414.67" width="1.8" height="1.8" fill="#8a9a6a" stroke="none" stroke-width="1"/>
<line x1="212.627" y1="414.83" x2="212.627" y2="420.83" stroke="#222" stroke-width="0.7"/>
<line x1="211.427" y1="414.83" x2="213.827" y2="414.83" stroke="#222" stroke-width="0.7"/>
<line x1="211.427" y1="420.83" x2="213.827" y2="420.83" stroke="#222" stroke-width="0.7"/>
<rect x="211.727" y="416.93" width="1.8" height="1.8" fill="#8a9a6a" stroke="none" stroke-width="1"/>
<line x1="218.931" y1="418.22" x2="218.931" y2="424.22" stroke="#222" stroke-width="0.7"/>
<line x1="217.731" y1="418.22" x2="220.131" y2="418.22" stroke="#222" stroke-width="0.7"/>
<line x1="217.731" y1="424.22" x2="220.131" y2="424.22" stroke="#222" stroke-width="0.7"/>
<rect x="218.031" y="420.32" width="1.8" height="1.8" fill="#8a9a6a" stroke="none" stroke-width="1"/>
<line x1="166.55" y1="389.97" x2="166.55" y2="395.97" stroke="#222" stroke-width="0.7"/>
<line x1="165.35" y1="389.97" x2="167.75" y2="389.97" stroke="#222" stroke-width="0.7"/>
<line x1="165.35" y1="395.97" x2="167.75" y2="395.97" stroke="#222" stroke-width="0.7"/>
<rect x="165.65" y="392.07" width="1.8" height="1.8" fill="#3c3670" stroke="none" stroke-width="1"/>
<line x1="180.796" y1="405.225" x2="180.796" y2="411.225" stroke="#222" stroke-width="0.7"/>
<line x1="179.596" y1="405.225" x2="181.996" y2="405.225" stroke="#222" stroke-width="0.7"/>
<line x1="179.596" y1="411.225" x2="181.996" y2="411.225" stroke="#222" stroke-width="0.7"/>
<rect x="179.896" y="407.325" width="1.8" height="1.8" fill="#3c3670" stroke="none" stroke-width="1"/>
<line x1="191.573" y1="413.7" x2="191.573" y2="419.7" stroke="#222" stroke-width="0.7"/>
<line x1="190.373" y1="413.7" x2="192.773" y2="413.7" stroke="#222" stroke-width="0.7"/>
<line x1="190.373" y1="419.7" x2="192.773" y2="419.7" stroke="#222" stroke-width="0.7"/>
<rect x="190.673" y="415.8" width="1.8" height="1.8" fill="#3c3670" stroke="none" stroke-width="1"/>
<line x1="202.35" y1="420.48" x2="202.35" y2="426.48" stroke="#222" stroke-width="0.7"/>
<line x1="201.15" y1="420.48" x2="203.55" y2="420.48" stroke="#222" stroke-width="0.7"/>
<line x1="201.15" y1="426.48" x2="203.55" y2="426.48" stroke="#222" stroke-width="0.7"/>
<rect x="201.45" y="422.58" width="1.8" height="1.8" fill="#3c3670" stroke="none" stroke-width="1"/>
<line x1="213.127" y1="422.74" x2="213.127" y2="428.74" stroke="#222" stroke-width="0.7"/>
<line x1="211.927" y1="422.74" x2="214.327" y2="422.74" stroke="#222" stroke-width="0.7"/>
<line x1="211.927" y1="428.74" x2="214.327" y2="428.74" stroke="#222" stroke-width="0.7"/>
<rect x="212.227" y="424.84" width="1.8" height="1.8" fill="#3c3670" stroke="none" stroke-width="1"/>
<line x1="219.431" y1="423.305" x2="219.431" y2="429.305" stroke="#222" stroke-width="0.7"/>
<line x1="218.231" y1="423.305" x2="220.631" y2="423.305" stroke="#222" stroke-width="0.7"/>
<line x1="218.231" y1="429.305" x2="220.631" y2="429.305" stroke="#222" stroke-width="0.7"/>
<rect x="218.531" y="425.405" width="1.8" height="1.8" fill="#3c3670" stroke="none" stroke-width="1"/>
<line x1="167.05" y1="396.75" x2="167.05" y2="402.75" stroke="#222" stroke-width="0.7"/>
<line x1="165.85" y1="396.75" x2="168.25" y2="396.75" stroke="#222" stroke-width="0.7"/>
<line x1="165.85" y1="402.75" x2="168.25" y2="402.75" stroke="#222" stroke-width="0.7"/>
<rect x="166.15" y="398.85" width="1.8" height="1.8" fill="#c08a62" stroke="none" stroke-width="1"/>
<line x1="181.296" y1="414.83" x2="181.296" y2="420.83" stroke="#222" stroke-width="0.7"/>
<line x1="180.096" y1="414.83" x2="182.496" y2="414.83" stroke="#222" stroke-width="0.7"/>
<line x1="180.096" y1="420.83" x2="182.496" y2="420.83" stroke="#222" stroke-width="0.7"/>
<rect x="180.396" y="416.93" width="1.8" height="1.8" fill="#c08a62" stroke="none" stroke-width="1"/>
<line x1="192.073" y1="421.045" x2="192.073" y2="427.045" stroke="#222" stroke-width="0.7"/>
<line x1="190.873" y1="421.045" x2="193.273" y2="421.045" stroke="#222" stroke-width="0.7"/>
<line x1="190.873" y1="427.045" x2="193.273" y2="427.045" stroke="#222" stroke-width="0.7"/>
<rect x="191.173" y="423.145" width="1.8" height="1.8" fill="#c08a62" stroke="none" stroke-width="1"/>
<line x1="202.85" y1="423.87" x2="202.85" y2="429.87" stroke="#222" stroke-width="0.7"/>
<line x1="201.65" y1="423.87" x2="204.05" y2="423.87" stroke="#222" stroke-width="0.7"/>
<line x1="201.65" y1="429.87" x2="204.05" y2="429.87" stroke="#222" stroke-width="0.7"/>
<rect x="201.95" y="425.97" width="1.8" height="1.8" fill="#c08a62" stroke="none" stroke-width="1"/>
<line x1="213.627" y1="425" x2="213.627" y2="431" stroke="#222" stroke-width="0.7"/>
<line x1="212.427" y1="425" x2="214.827" y2="425" stroke="#222" stroke-width="0.7"/>
<line x1="212.427" y1="431" x2="214.827" y2="431" stroke="#222" stroke-width="0.7"/>
<rect x="212.727" y="427.1" width="1.8" height="1.8" fill="#c08a62" stroke="none" stroke-width="1"/>
<line x1="219.931" y1="425" x2="219.931" y2="431" stroke="#222" stroke-width="0.7"/>
<line x1="218.731" y1="425" x2="221.131" y2="425" stroke="#222" stroke-width="0.7"/>
<line x1="218.731" y1="431" x2="221.131" y2="431" stroke="#222" stroke-width="0.7"/>
<rect x="219.031" y="427.1" width="1.8" height="1.8" fill="#c08a62" stroke="none" stroke-width="1"/>
<line x1="199.6" y1="359.3" x2="208.6" y2="359.3" stroke="#3c4880" stroke-width="1.4"/>
<rect x="202.9" y="358.1" width="2.4" height="2.4" fill="#3c4880" stroke="none" stroke-width="1"/>
<text x="213.4" y="361.8" font-size="7" font-weight="normal" font-style="normal" text-anchor="start" fill="#111" stroke="#000" stroke-width="0.3">Day 4</text>
<line x1="199.6" y1="367.35" x2="208.6" y2="367.35" stroke="#8a9a6a" stroke-width="1.4"/>
<rect x="202.9" y="366.15" width="2.4" height="2.4" fill="#8a9a6a" stroke="none" stroke-width="1"/>
<text x="213.4" y="369.85" font-size="7" font-weight="normal" font-style="normal" text-anchor="start" fill="#111" stroke="#000" stroke-width="0.3">Day 8</text>
<line x1="199.6" y1="375.4" x2="208.6" y2="375.4" stroke="#3c3670" stroke-width="1.4"/>
<rect x="202.9" y="374.2" width="2.4" height="2.4" fill="#3c3670" stroke="none" stroke-width="1"/>
<text x="213.4" y="377.9" font-size="7" font-weight="normal" font-style="normal" text-anchor="start" fill="#111" stroke="#000" stroke-width="0.3">Day 12</text>
<line x1="199.6" y1="383.45" x2="208.6" y2="383.45" stroke="#c08a62" stroke-width="1.4"/>
<rect x="202.9" y="382.25" width="2.4" height="2.4" fill="#c08a62" stroke="none" stroke-width="1"/>
<text x="213.4" y="385.95" font-size="7" font-weight="normal" font-style="normal" text-anchor="start" fill="#111" stroke="#000" stroke-width="0.3">Day 16</text>
<text x="245.6" y="354.6" font-size="11.5" font-weight="bold" font-style="normal" text-anchor="start" fill="#000">I</text>
<text x="276.3" y="363.9" font-size="9.4" font-weight="bold" font-style="normal" text-anchor="start" fill="#000" stroke="#000" stroke-width="0.2">LOUCY</text>
<line x1="268.8" y1="369.24" x2="268.8" y2="428" stroke="#444" stroke-width="0.9"/>
<line x1="268.8" y1="428" x2="360.3" y2="428" stroke="#444" stroke-width="0.9"/>
<line x1="267.3" y1="428" x2="268.8" y2="428" stroke="#444" stroke-width="0.6"/>
<text x="266.3" y="429.9" font-size="5.4" font-weight="bold" font-style="normal" text-anchor="end" fill="#222">0</text>
<line x1="267.8" y1="422.35" x2="268.8" y2="422.35" stroke="#666" stroke-width="0.5"/>
<line x1="267.3" y1="416.7" x2="268.8" y2="416.7" stroke="#444" stroke-width="0.6"/>
<text x="266.3" y="418.6" font-size="5.4" font-weight="bold" font-style="normal" text-anchor="end" fill="#222">20</text>
<line x1="267.8" y1="411.05" x2="268.8" y2="411.05" stroke="#666" stroke-width="0.5"/>
<line x1="267.3" y1="405.4" x2="268.8" y2="405.4" stroke="#444" stroke-width="0.6"/>
<text x="266.3" y="407.3" font-size="5.4" font-weight="bold" font-style="normal" text-anchor="end" fill="#222">40</text>
<line x1="267.8" y1="399.75" x2="268.8" y2="399.75" stroke="#666" stroke-width="0.5"/>
<line x1="267.3" y1="394.1" x2="268.8" y2="394.1" stroke="#444" stroke-width="0.6"/>
<text x="266.3" y="396" font-size="5.4" font-weight="bold" font-style="normal" text-anchor="end" fill="#222">60</text>
<line x1="267.8" y1="388.45" x2="268.8" y2="388.45" stroke="#666" stroke-width="0.5"/>
<line x1="267.3" y1="382.8" x2="268.8" y2="382.8" stroke="#444" stroke-width="0.6"/>
<text x="266.3" y="384.7" font-size="5.4" font-weight="bold" font-style="normal" text-anchor="end" fill="#222">80</text>
<line x1="267.8" y1="377.15" x2="268.8" y2="377.15" stroke="#666" stroke-width="0.5"/>
<line x1="267.3" y1="371.5" x2="268.8" y2="371.5" stroke="#444" stroke-width="0.6"/>
<text x="266.3" y="373.4" font-size="5.4" font-weight="bold" font-style="normal" text-anchor="end" fill="#222">100</text>
<line x1="284.3" y1="428" x2="284.3" y2="430" stroke="#555" stroke-width="0.6"/>
<line x1="295.438" y1="428" x2="295.438" y2="429.2" stroke="#555" stroke-width="0.6"/>
<line x1="301.953" y1="428" x2="301.953" y2="429.2" stroke="#555" stroke-width="0.6"/>
<line x1="306.576" y1="428" x2="306.576" y2="429.2" stroke="#555" stroke-width="0.6"/>
<line x1="310.162" y1="428" x2="310.162" y2="429.2" stroke="#555" stroke-width="0.6"/>
<line x1="313.092" y1="428" x2="313.092" y2="429.2" stroke="#555" stroke-width="0.6"/>
<line x1="315.569" y1="428" x2="315.569" y2="429.2" stroke="#555" stroke-width="0.6"/>
<line x1="317.714" y1="428" x2="317.714" y2="429.2" stroke="#555" stroke-width="0.6"/>
<line x1="319.607" y1="428" x2="319.607" y2="429.2" stroke="#555" stroke-width="0.6"/>
<line x1="321.3" y1="428" x2="321.3" y2="430" stroke="#555" stroke-width="0.6"/>
<line x1="332.438" y1="428" x2="332.438" y2="429.2" stroke="#555" stroke-width="0.6"/>
<line x1="338.953" y1="428" x2="338.953" y2="429.2" stroke="#555" stroke-width="0.6"/>
<line x1="343.576" y1="428" x2="343.576" y2="429.2" stroke="#555" stroke-width="0.6"/>
<line x1="347.162" y1="428" x2="347.162" y2="429.2" stroke="#555" stroke-width="0.6"/>
<line x1="350.092" y1="428" x2="350.092" y2="429.2" stroke="#555" stroke-width="0.6"/>
<line x1="352.569" y1="428" x2="352.569" y2="429.2" stroke="#555" stroke-width="0.6"/>
<line x1="354.714" y1="428" x2="354.714" y2="429.2" stroke="#555" stroke-width="0.6"/>
<line x1="356.607" y1="428" x2="356.607" y2="429.2" stroke="#555" stroke-width="0.6"/>
<line x1="358.3" y1="428" x2="358.3" y2="430" stroke="#555" stroke-width="0.6"/>
<text x="284.3" y="436.2" font-size="6.2" font-weight="normal" font-style="normal" text-anchor="middle" fill="#222" stroke="#000" stroke-width="0.3">0.1</text>
<text x="321.3" y="436.2" font-size="6.2" font-weight="normal" font-style="normal" text-anchor="middle" fill="#222" stroke="#000" stroke-width="0.3">1</text>
<text x="358.3" y="436.2" font-size="6.2" font-weight="normal" font-style="normal" text-anchor="middle" fill="#222" stroke="#000" stroke-width="0.3">10</text>
<text x="322" y="445.8" font-size="9.8" font-weight="normal" font-style="normal" text-anchor="middle" fill="#000" stroke="#000" stroke-width="0.3">UNC1999 (µM)</text>
<text x="254.5" y="405" font-size="7.9" font-weight="normal" font-style="normal" text-anchor="middle" fill="#000" transform="rotate(-90 254.5 405)" stroke="#000" stroke-width="0.3">Relative Proliferation</text>
<polyline points="284.30,376.34 285.21,376.39 286.12,376.44 287.03,376.50 287.94,376.56 288.85,376.62 289.77,376.68 290.68,376.75 291.59,376.82 292.50,376.89 293.41,376.97 294.32,377.05 295.23,377.13 296.14,377.22 297.05,377.31 297.96,377.41 298.87,377.51 299.79,377.62 300.70,377.73 301.61,377.84 302.52,377.96 303.43,378.09 304.34,378.22 305.25,378.35 306.16,378.50 307.07,378.64 307.98,378.80 308.89,378.95 309.80,379.12 310.72,379.29 311.63,379.46 312.54,379.64 313.45,379.83 314.36,380.02 315.27,380.22 316.18,380.43 317.09,380.64 318.00,380.85 318.91,381.07 319.82,381.30 320.74,381.53 321.65,381.76 322.56,382.00 323.47,382.24 324.38,382.49 325.29,382.74 326.20,382.99 327.11,383.25 328.02,383.50 328.93,383.76 329.84,384.03 330.76,384.29 331.67,384.55 332.58,384.82 333.49,385.08 334.40,385.35 335.31,385.61 336.22,385.87 337.13,386.13 338.04,386.39 338.95,386.64" stroke="#555" stroke-width="0.85" fill="none"/>
<polyline points="284.30,376.83 285.21,376.87 286.12,376.92 287.03,376.97 287.94,377.02 288.85,377.08 289.77,377.13 290.68,377.19 291.59,377.26 292.50,377.32 293.41,377.39 294.32,377.47 295.23,377.54 296.14,377.62 297.05,377.71 297.96,377.80 298.87,377.89 299.79,377.98 300.70,378.08 301.61,378.19 302.52,378.30 303.43,378.41 304.34,378.53 305.25,378.66 306.16,378.78 307.07,378.92 307.98,379.06 308.89,379.20 309.80,379.35 310.72,379.50 311.63,379.66 312.54,379.83 313.45,380.00 314.36,380.17 315.27,380.35 316.18,380.54 317.09,380.73 318.00,380.93 318.91,381.13 319.82,381.33 320.74,381.54 321.65,381.75 322.56,381.97 323.47,382.19 324.38,382.41 325.29,382.64 326.20,382.87 327.11,383.10 328.02,383.34 328.93,383.57 329.84,383.81 330.76,384.05 331.67,384.29 332.58,384.53 333.49,384.77 334.40,385.01 335.31,385.25 336.22,385.49 337.13,385.72 338.04,385.96 338.95,386.19" stroke="#555" stroke-width="0.85" fill="none"/>
<polyline points="284.30,377.30 285.21,377.34 286.12,377.38 287.03,377.42 287.94,377.47 288.85,377.52 289.77,377.57 290.68,377.62 291.59,377.68 292.50,377.74 293.41,377.80 294.32,377.87 295.23,377.93 296.14,378.01 297.05,378.08 297.96,378.16 298.87,378.24 299.79,378.33 300.70,378.42 301.61,378.51 302.52,378.61 303.43,378.72 304.34,378.82 305.25,378.93 306.16,379.05 307.07,379.17 307.98,379.30 308.89,379.43 309.80,379.56 310.72,379.71 311.63,379.85 312.54,380.00 313.45,380.16 314.36,380.32 315.27,380.48 316.18,380.66 317.09,380.83 318.00,381.01 318.91,381.20 319.82,381.39 320.74,381.58 321.65,381.78 322.56,381.98 323.47,382.19 324.38,382.40 325.29,382.62 326.20,382.83 327.11,383.06 328.02,383.28 328.93,383.50 329.84,383.73 330.76,383.96 331.67,384.19 332.58,384.42 333.49,384.65 334.40,384.89 335.31,385.12 336.22,385.35 337.13,385.58 338.04,385.81 338.95,386.04" stroke="#555" stroke-width="0.85" fill="none"/>
<polyline points="284.30,377.96 285.21,378.00 286.12,378.05 287.03,378.10 287.94,378.15 288.85,378.21 289.77,378.26 290.68,378.32 291.59,378.39 292.50,378.45 293.41,378.52 294.32,378.60 295.23,378.67 296.14,378.75 297.05,378.84 297.96,378.93 298.87,379.02 299.79,379.11 300.70,379.21 301.61,379.32 302.52,379.43 303.43,379.54 304.34,379.66 305.25,379.79 306.16,379.91 307.07,380.05 307.98,380.19 308.89,380.33 309.80,380.48 310.72,380.63 311.63,380.79 312.54,380.96 313.45,381.13 314.36,381.30 315.27,381.48 316.18,381.67 317.09,381.86 318.00,382.06 318.91,382.26 319.82,382.46 320.74,382.67 321.65,382.88 322.56,383.10 323.47,383.32 324.38,383.54 325.29,383.77 326.20,384.00 327.11,384.23 328.02,384.47 328.93,384.70 329.84,384.94 330.76,385.18 331.67,385.42 332.58,385.66 333.49,385.90 334.40,386.14 335.31,386.38 336.22,386.62 337.13,386.85 338.04,387.09 338.95,387.32" stroke="#555" stroke-width="0.85" fill="none"/>
<line x1="283.55" y1="372.085" x2="283.55" y2="381.085" stroke="#222" stroke-width="0.7"/>
<line x1="282.35" y1="372.085" x2="284.75" y2="372.085" stroke="#222" stroke-width="0.7"/>
<line x1="282.35" y1="381.085" x2="284.75" y2="381.085" stroke="#222" stroke-width="0.7"/>
<rect x="282.65" y="375.685" width="1.8" height="1.8" fill="#3c4880" stroke="none" stroke-width="1"/>
<line x1="298.274" y1="374.345" x2="298.274" y2="383.345" stroke="#222" stroke-width="0.7"/>
<line x1="297.074" y1="374.345" x2="299.474" y2="374.345" stroke="#222" stroke-width="0.7"/>
<line x1="297.074" y1="383.345" x2="299.474" y2="383.345" stroke="#222" stroke-width="0.7"/>
<rect x="297.374" y="377.945" width="1.8" height="1.8" fill="#3c4880" stroke="none" stroke-width="1"/>
<line x1="309.412" y1="369.825" x2="309.412" y2="378.825" stroke="#222" stroke-width="0.7"/>
<line x1="308.212" y1="369.825" x2="310.612" y2="369.825" stroke="#222" stroke-width="0.7"/>
<line x1="308.212" y1="378.825" x2="310.612" y2="378.825" stroke="#222" stroke-width="0.7"/>
<rect x="308.512" y="373.425" width="1.8" height="1.8" fill="#3c4880" stroke="none" stroke-width="1"/>
<line x1="320.55" y1="378.3" x2="320.55" y2="387.3" stroke="#222" stroke-width="0.7"/>
<line x1="319.35" y1="378.3" x2="321.75" y2="378.3" stroke="#222" stroke-width="0.7"/>
<line x1="319.35" y1="387.3" x2="321.75" y2="387.3" stroke="#222" stroke-width="0.7"/>
<rect x="319.65" y="381.9" width="1.8" height="1.8" fill="#3c4880" stroke="none" stroke-width="1"/>
<line x1="331.688" y1="379.995" x2="331.688" y2="388.995" stroke="#222" stroke-width="0.7"/>
<line x1="330.488" y1="379.995" x2="332.888" y2="379.995" stroke="#222" stroke-width="0.7"/>
<line x1="330.488" y1="388.995" x2="332.888" y2="388.995" stroke="#222" stroke-width="0.7"/>
<rect x="330.788" y="383.595" width="1.8" height="1.8" fill="#3c4880" stroke="none" stroke-width="1"/>
<line x1="338.203" y1="371.52" x2="338.203" y2="380.52" stroke="#222" stroke-width="0.7"/>
<line x1="337.003" y1="371.52" x2="339.403" y2="371.52" stroke="#222" stroke-width="0.7"/>
<line x1="337.003" y1="380.52" x2="339.403" y2="380.52" stroke="#222" stroke-width="0.7"/>
<rect x="337.303" y="375.12" width="1.8" height="1.8" fill="#3c4880" stroke="none" stroke-width="1"/>
<line x1="284.05" y1="373.78" x2="284.05" y2="382.78" stroke="#222" stroke-width="0.7"/>
<line x1="282.85" y1="373.78" x2="285.25" y2="373.78" stroke="#222" stroke-width="0.7"/>
<line x1="282.85" y1="382.78" x2="285.25" y2="382.78" stroke="#222" stroke-width="0.7"/>
<rect x="283.15" y="377.38" width="1.8" height="1.8" fill="#8a9a6a" stroke="none" stroke-width="1"/>
<line x1="298.774" y1="374.91" x2="298.774" y2="383.91" stroke="#222" stroke-width="0.7"/>
<line x1="297.574" y1="374.91" x2="299.974" y2="374.91" stroke="#222" stroke-width="0.7"/>
<line x1="297.574" y1="383.91" x2="299.974" y2="383.91" stroke="#222" stroke-width="0.7"/>
<rect x="297.874" y="378.51" width="1.8" height="1.8" fill="#8a9a6a" stroke="none" stroke-width="1"/>
<line x1="309.912" y1="376.04" x2="309.912" y2="385.04" stroke="#222" stroke-width="0.7"/>
<line x1="308.712" y1="376.04" x2="311.112" y2="376.04" stroke="#222" stroke-width="0.7"/>
<line x1="308.712" y1="385.04" x2="311.112" y2="385.04" stroke="#222" stroke-width="0.7"/>
<rect x="309.012" y="379.64" width="1.8" height="1.8" fill="#8a9a6a" stroke="none" stroke-width="1"/>
<line x1="321.05" y1="378.865" x2="321.05" y2="387.865" stroke="#222" stroke-width="0.7"/>
<line x1="319.85" y1="378.865" x2="322.25" y2="378.865" stroke="#222" stroke-width="0.7"/>
<line x1="319.85" y1="387.865" x2="322.25" y2="387.865" stroke="#222" stroke-width="0.7"/>
<rect x="320.15" y="382.465" width="1.8" height="1.8" fill="#8a9a6a" stroke="none" stroke-width="1"/>
<line x1="332.188" y1="381.125" x2="332.188" y2="390.125" stroke="#222" stroke-width="0.7"/>
<line x1="330.988" y1="381.125" x2="333.388" y2="381.125" stroke="#222" stroke-width="0.7"/>
<line x1="330.988" y1="390.125" x2="333.388" y2="390.125" stroke="#222" stroke-width="0.7"/>
<rect x="331.288" y="384.725" width="1.8" height="1.8" fill="#8a9a6a" stroke="none" stroke-width="1"/>
<line x1="338.703" y1="382.82" x2="338.703" y2="391.82" stroke="#222" stroke-width="0.7"/>
<line x1="337.503" y1="382.82" x2="339.903" y2="382.82" stroke="#222" stroke-width="0.7"/>
<line x1="337.503" y1="391.82" x2="339.903" y2="391.82" stroke="#222" stroke-width="0.7"/>
<rect x="337.803" y="386.42" width="1.8" height="1.8" fill="#8a9a6a" stroke="none" stroke-width="1"/>
<line x1="284.55" y1="371.52" x2="284.55" y2="380.52" stroke="#222" stroke-width="0.7"/>
<line x1="283.35" y1="371.52" x2="285.75" y2="371.52" stroke="#222" stroke-width="0.7"/>
<line x1="283.35" y1="380.52" x2="285.75" y2="380.52" stroke="#222" stroke-width="0.7"/>
<rect x="283.65" y="375.12" width="1.8" height="1.8" fill="#3c3670" stroke="none" stroke-width="1"/>
<line x1="299.274" y1="377.17" x2="299.274" y2="386.17" stroke="#222" stroke-width="0.7"/>
<line x1="298.074" y1="377.17" x2="300.474" y2="377.17" stroke="#222" stroke-width="0.7"/>
<line x1="298.074" y1="386.17" x2="300.474" y2="386.17" stroke="#222" stroke-width="0.7"/>
<rect x="298.374" y="380.77" width="1.8" height="1.8" fill="#3c3670" stroke="none" stroke-width="1"/>
<line x1="310.412" y1="372.65" x2="310.412" y2="381.65" stroke="#222" stroke-width="0.7"/>
<line x1="309.212" y1="372.65" x2="311.612" y2="372.65" stroke="#222" stroke-width="0.7"/>
<line x1="309.212" y1="381.65" x2="311.612" y2="381.65" stroke="#222" stroke-width="0.7"/>
<rect x="309.512" y="376.25" width="1.8" height="1.8" fill="#3c3670" stroke="none" stroke-width="1"/>
<line x1="321.55" y1="379.43" x2="321.55" y2="388.43" stroke="#222" stroke-width="0.7"/>
<line x1="320.35" y1="379.43" x2="322.75" y2="379.43" stroke="#222" stroke-width="0.7"/>
<line x1="320.35" y1="388.43" x2="322.75" y2="388.43" stroke="#222" stroke-width="0.7"/>
<rect x="320.65" y="383.03" width="1.8" height="1.8" fill="#3c3670" stroke="none" stroke-width="1"/>
<line x1="332.688" y1="379.43" x2="332.688" y2="388.43" stroke="#222" stroke-width="0.7"/>
<line x1="331.488" y1="379.43" x2="333.888" y2="379.43" stroke="#222" stroke-width="0.7"/>
<line x1="331.488" y1="388.43" x2="333.888" y2="388.43" stroke="#222" stroke-width="0.7"/>
<rect x="331.788" y="383.03" width="1.8" height="1.8" fill="#3c3670" stroke="none" stroke-width="1"/>
<line x1="339.203" y1="383.95" x2="339.203" y2="392.95" stroke="#222" stroke-width="0.7"/>
<line x1="338.003" y1="383.95" x2="340.403" y2="383.95" stroke="#222" stroke-width="0.7"/>
<line x1="338.003" y1="392.95" x2="340.403" y2="392.95" stroke="#222" stroke-width="0.7"/>
<rect x="338.303" y="387.55" width="1.8" height="1.8" fill="#3c3670" stroke="none" stroke-width="1"/>
<line x1="285.05" y1="375.475" x2="285.05" y2="384.475" stroke="#222" stroke-width="0.7"/>
<line x1="283.85" y1="375.475" x2="286.25" y2="375.475" stroke="#222" stroke-width="0.7"/>
<line x1="283.85" y1="384.475" x2="286.25" y2="384.475" stroke="#222" stroke-width="0.7"/>
<rect x="284.15" y="379.075" width="1.8" height="1.8" fill="#c08a62" stroke="none" stroke-width="1"/>
<line x1="299.774" y1="375.475" x2="299.774" y2="384.475" stroke="#222" stroke-width="0.7"/>
<line x1="298.574" y1="375.475" x2="300.974" y2="375.475" stroke="#222" stroke-width="0.7"/>
<line x1="298.574" y1="384.475" x2="300.974" y2="384.475" stroke="#222" stroke-width="0.7"/>
<rect x="298.874" y="379.075" width="1.8" height="1.8" fill="#c08a62" stroke="none" stroke-width="1"/>
<line x1="310.912" y1="375.475" x2="310.912" y2="384.475" stroke="#222" stroke-width="0.7"/>
<line x1="309.712" y1="375.475" x2="312.112" y2="375.475" stroke="#222" stroke-width="0.7"/>
<line x1="309.712" y1="384.475" x2="312.112" y2="384.475" stroke="#222" stroke-width="0.7"/>
<rect x="310.012" y="379.075" width="1.8" height="1.8" fill="#c08a62" stroke="none" stroke-width="1"/>
<line x1="322.05" y1="381.125" x2="322.05" y2="390.125" stroke="#222" stroke-width="0.7"/>
<line x1="320.85" y1="381.125" x2="323.25" y2="381.125" stroke="#222" stroke-width="0.7"/>
<line x1="320.85" y1="390.125" x2="323.25" y2="390.125" stroke="#222" stroke-width="0.7"/>
<rect x="321.15" y="384.725" width="1.8" height="1.8" fill="#c08a62" stroke="none" stroke-width="1"/>
<line x1="333.188" y1="382.255" x2="333.188" y2="391.255" stroke="#222" stroke-width="0.7"/>
<line x1="331.988" y1="382.255" x2="334.388" y2="382.255" stroke="#222" stroke-width="0.7"/>
<line x1="331.988" y1="391.255" x2="334.388" y2="391.255" stroke="#222" stroke-width="0.7"/>
<rect x="332.288" y="385.855" width="1.8" height="1.8" fill="#c08a62" stroke="none" stroke-width="1"/>
<line x1="339.703" y1="385.08" x2="339.703" y2="394.08" stroke="#222" stroke-width="0.7"/>
<line x1="338.503" y1="385.08" x2="340.903" y2="385.08" stroke="#222" stroke-width="0.7"/>
<line x1="338.503" y1="394.08" x2="340.903" y2="394.08" stroke="#222" stroke-width="0.7"/>
<rect x="338.803" y="388.68" width="1.8" height="1.8" fill="#c08a62" stroke="none" stroke-width="1"/>
<line x1="274" y1="395.2" x2="283" y2="395.2" stroke="#3c4880" stroke-width="1.4"/>
<rect x="277.3" y="394" width="2.4" height="2.4" fill="#3c4880" stroke="none" stroke-width="1"/>
<text x="287.8" y="397.7" font-size="7" font-weight="normal" font-style="normal" text-anchor="start" fill="#111" stroke="#000" stroke-width="0.3">Day 4</text>
<line x1="274" y1="403.4" x2="283" y2="403.4" stroke="#8a9a6a" stroke-width="1.4"/>
<rect x="277.3" y="402.2" width="2.4" height="2.4" fill="#8a9a6a" stroke="none" stroke-width="1"/>
<text x="287.8" y="405.9" font-size="7" font-weight="normal" font-style="normal" text-anchor="start" fill="#111" stroke="#000" stroke-width="0.3">Day 8</text>
<line x1="274" y1="411.6" x2="283" y2="411.6" stroke="#3c3670" stroke-width="1.4"/>
<rect x="277.3" y="410.4" width="2.4" height="2.4" fill="#3c3670" stroke="none" stroke-width="1"/>
<text x="287.8" y="414.1" font-size="7" font-weight="normal" font-style="normal" text-anchor="start" fill="#111" stroke="#000" stroke-width="0.3">Day 12</text>
<line x1="274" y1="419.8" x2="283" y2="419.8" stroke="#c08a62" stroke-width="1.4"/>
<rect x="277.3" y="418.6" width="2.4" height="2.4" fill="#c08a62" stroke="none" stroke-width="1"/>
<text x="287.8" y="422.3" font-size="7" font-weight="normal" font-style="normal" text-anchor="start" fill="#111" stroke="#000" stroke-width="0.3">Day 16</text>
<text x="373.2" y="354.9" font-size="11.5" font-weight="bold" font-style="normal" text-anchor="start" fill="#000">K</text>
<text x="401.5" y="430.2" font-size="6.2" font-weight="bold" font-style="normal" text-anchor="end" fill="#222">0%</text>
<line x1="402" y1="428" x2="404" y2="428" stroke="#888" stroke-width="0.6"/>
<text x="401.5" y="417.56" font-size="6.2" font-weight="bold" font-style="normal" text-anchor="end" fill="#222">20%</text>
<line x1="402" y1="415.36" x2="404" y2="415.36" stroke="#888" stroke-width="0.6"/>
<text x="401.5" y="404.92" font-size="6.2" font-weight="bold" font-style="normal" text-anchor="end" fill="#222">40%</text>
<line x1="402" y1="402.72" x2="404" y2="402.72" stroke="#888" stroke-width="0.6"/>
<text x="401.5" y="392.28" font-size="6.2" font-weight="bold" font-style="normal" text-anchor="end" fill="#222">60%</text>
<line x1="402" y1="390.08" x2="404" y2="390.08" stroke="#888" stroke-width="0.6"/>
<text x="401.5" y="379.64" font-size="6.2" font-weight="bold" font-style="normal" text-anchor="end" fill="#222">80%</text>
<line x1="402" y1="377.44" x2="404" y2="377.44" stroke="#888" stroke-width="0.6"/>
<text x="401.5" y="367" font-size="6.2" font-weight="bold" font-style="normal" text-anchor="end" fill="#222">100%</text>
<line x1="402" y1="364.8" x2="404" y2="364.8" stroke="#888" stroke-width="0.6"/>
<text x="381" y="394.9" font-size="8.2" font-weight="normal" font-style="normal" text-anchor="middle" fill="#000" transform="rotate(-90 381 394.9)" stroke="#000" stroke-width="0.3">Relative Proliferation</text>
<line x1="404" y1="428" x2="448" y2="428" stroke="#aaa" stroke-width="1"/>
<line x1="452" y1="428" x2="494" y2="428" stroke="#aaa" stroke-width="1"/>
<line x1="449.3" y1="426.5" x2="449.3" y2="431.5" stroke="#555" stroke-width="0.5"/>
<line x1="450.7" y1="426.5" x2="450.7" y2="431.5" stroke="#555" stroke-width="0.5"/>
<rect x="411.3" y="373.648" width="4.1" height="54.352" fill="url(#kR)" stroke="#d06060" stroke-width="0.4"/>
<line x1="413.35" y1="371.12" x2="413.35" y2="376.176" stroke="#666" stroke-width="0.6"/>
<line x1="412.35" y1="371.12" x2="414.35" y2="371.12" stroke="#666" stroke-width="0.6"/>
<line x1="412.35" y1="376.176" x2="414.35" y2="376.176" stroke="#666" stroke-width="0.6"/>
<rect x="415.45" y="384.392" width="4.1" height="43.608" fill="url(#kY)" stroke="#c0c858" stroke-width="0.4"/>
<line x1="417.5" y1="371.752" x2="417.5" y2="397.032" stroke="#666" stroke-width="0.6"/>
<line x1="416.5" y1="371.752" x2="418.5" y2="371.752" stroke="#666" stroke-width="0.6"/>
<line x1="416.5" y1="397.032" x2="418.5" y2="397.032" stroke="#666" stroke-width="0.6"/>
<rect x="419.6" y="372.384" width="4.1" height="55.616" fill="url(#kP)" stroke="#9a90c8" stroke-width="0.4"/>
<line x1="421.65" y1="370.488" x2="421.65" y2="374.28" stroke="#666" stroke-width="0.6"/>
<line x1="420.65" y1="370.488" x2="422.65" y2="370.488" stroke="#666" stroke-width="0.6"/>
<line x1="420.65" y1="374.28" x2="422.65" y2="374.28" stroke="#666" stroke-width="0.6"/>
<rect x="433.1" y="377.44" width="4.1" height="50.56" fill="url(#kR)" stroke="#d06060" stroke-width="0.4"/>
<line x1="435.15" y1="375.544" x2="435.15" y2="379.336" stroke="#666" stroke-width="0.6"/>
<line x1="434.15" y1="375.544" x2="436.15" y2="375.544" stroke="#666" stroke-width="0.6"/>
<line x1="434.15" y1="379.336" x2="436.15" y2="379.336" stroke="#666" stroke-width="0.6"/>
<rect x="437.25" y="405.88" width="4.1" height="22.12" fill="url(#kY)" stroke="#c0c858" stroke-width="0.4"/>
<line x1="439.3" y1="399.56" x2="439.3" y2="412.2" stroke="#666" stroke-width="0.6"/>
<line x1="438.3" y1="399.56" x2="440.3" y2="399.56" stroke="#666" stroke-width="0.6"/>
<line x1="438.3" y1="412.2" x2="440.3" y2="412.2" stroke="#666" stroke-width="0.6"/>
<rect x="441.4" y="426.104" width="4.1" height="1.896" fill="url(#kP)" stroke="#9a90c8" stroke-width="0.4"/>
<line x1="443.45" y1="424.84" x2="443.45" y2="427.368" stroke="#666" stroke-width="0.6"/>
<line x1="442.45" y1="424.84" x2="444.45" y2="424.84" stroke="#666" stroke-width="0.6"/>
<line x1="442.45" y1="427.368" x2="444.45" y2="427.368" stroke="#666" stroke-width="0.6"/>
<rect x="455.3" y="371.12" width="4.1" height="56.88" fill="url(#kR)" stroke="#d06060" stroke-width="0.4"/>
<line x1="457.35" y1="367.96" x2="457.35" y2="374.28" stroke="#666" stroke-width="0.6"/>
<line x1="456.35" y1="367.96" x2="458.35" y2="367.96" stroke="#666" stroke-width="0.6"/>
<line x1="456.35" y1="374.28" x2="458.35" y2="374.28" stroke="#666" stroke-width="0.6"/>
<rect x="459.45" y="367.96" width="4.1" height="60.04" fill="url(#kY)" stroke="#c0c858" stroke-width="0.4"/>
<line x1="461.5" y1="361.64" x2="461.5" y2="374.28" stroke="#666" stroke-width="0.6"/>
<line x1="460.5" y1="361.64" x2="462.5" y2="361.64" stroke="#666" stroke-width="0.6"/>
<line x1="460.5" y1="374.28" x2="462.5" y2="374.28" stroke="#666" stroke-width="0.6"/>
<rect x="463.6" y="371.12" width="4.1" height="56.88" fill="url(#kP)" stroke="#9a90c8" stroke-width="0.4"/>
<line x1="465.65" y1="362.904" x2="465.65" y2="379.336" stroke="#666" stroke-width="0.6"/>
<line x1="464.65" y1="362.904" x2="466.65" y2="362.904" stroke="#666" stroke-width="0.6"/>
<line x1="464.65" y1="379.336" x2="466.65" y2="379.336" stroke="#666" stroke-width="0.6"/>
<rect x="477.3" y="388.816" width="4.1" height="39.184" fill="url(#kR)" stroke="#d06060" stroke-width="0.4"/>
<line x1="479.35" y1="386.92" x2="479.35" y2="390.712" stroke="#666" stroke-width="0.6"/>
<line x1="478.35" y1="386.92" x2="480.35" y2="386.92" stroke="#666" stroke-width="0.6"/>
<line x1="478.35" y1="390.712" x2="480.35" y2="390.712" stroke="#666" stroke-width="0.6"/>
<rect x="481.45" y="412.2" width="4.1" height="15.8" fill="url(#kY)" stroke="#c0c858" stroke-width="0.4"/>
<line x1="483.5" y1="404.616" x2="483.5" y2="419.784" stroke="#666" stroke-width="0.6"/>
<line x1="482.5" y1="404.616" x2="484.5" y2="404.616" stroke="#666" stroke-width="0.6"/>
<line x1="482.5" y1="419.784" x2="484.5" y2="419.784" stroke="#666" stroke-width="0.6"/>
<rect x="485.6" y="424.84" width="4.1" height="3.16" fill="url(#kP)" stroke="#9a90c8" stroke-width="0.4"/>
<line x1="487.65" y1="422.944" x2="487.65" y2="426.736" stroke="#666" stroke-width="0.6"/>
<line x1="486.65" y1="422.944" x2="488.65" y2="422.944" stroke="#666" stroke-width="0.6"/>
<line x1="486.65" y1="426.736" x2="488.65" y2="426.736" stroke="#666" stroke-width="0.6"/>
<text x="433.1" y="373" font-size="5.2" font-weight="bold" font-style="normal" text-anchor="start" fill="#222">ns</text>
<text x="439" y="398.5" font-size="5.2" font-weight="bold" font-style="normal" text-anchor="start" fill="#222">**</text>
<text x="442.5" y="425" font-size="5.2" font-weight="bold" font-style="normal" text-anchor="start" fill="#222">****</text>
<text x="476.8" y="386" font-size="5.2" font-weight="bold" font-style="normal" text-anchor="start" fill="#222">***</text>
<text x="481.5" y="401" font-size="5.2" font-weight="bold" font-style="normal" text-anchor="start" fill="#222">***</text>
<text x="486" y="421" font-size="5.2" font-weight="bold" font-style="normal" text-anchor="start" fill="#222">****</text>
<line x1="409.2" y1="364.5" x2="428.8" y2="364.5" stroke="#999" stroke-width="0.9"/>
<line x1="432.3" y1="366.9" x2="446.4" y2="366.9" stroke="#999" stroke-width="0.9"/>
<line x1="456.5" y1="362.2" x2="475" y2="362.2" stroke="#999" stroke-width="0.9"/>
<line x1="478.5" y1="379.5" x2="492.3" y2="379.5" stroke="#999" stroke-width="0.9"/>
<text x="417.6" y="361.3" font-size="9.4" font-weight="normal" font-style="normal" text-anchor="start" fill="#000" transform="rotate(-44.5 417.6 361.3)" stroke="#000" stroke-width="0.3">UNC2400</text>
<text x="437.8" y="363.8" font-size="9.4" font-weight="normal" font-style="normal" text-anchor="start" fill="#000" transform="rotate(-44.5 437.8 363.8)" stroke="#000" stroke-width="0.3">UNC1999</text>
<text x="462.7" y="357.6" font-size="9.4" font-weight="normal" font-style="normal" text-anchor="start" fill="#000" transform="rotate(-44.5 462.7 357.6)" stroke="#000" stroke-width="0.3">UNC2400</text>
<text x="482.2" y="378.2" font-size="9.4" font-weight="normal" font-style="normal" text-anchor="start" fill="#000" transform="rotate(-44.5 482.2 378.2)" stroke="#000" stroke-width="0.3">UNC1999</text>
<rect x="498" y="381.6" width="3.5" height="4" fill="#e07a7a" stroke="none" stroke-width="1"/>
<text x="504.6" y="386.8" font-size="8.9" font-weight="normal" font-style="normal" text-anchor="start" fill="#000" stroke="#000" stroke-width="0.3">d4</text>
<rect x="498" y="389.95" width="3.5" height="4" fill="#d8e070" stroke="none" stroke-width="1"/>
<text x="504.6" y="395.15" font-size="8.9" font-weight="normal" font-style="normal" text-anchor="start" fill="#000" stroke="#000" stroke-width="0.3">d8</text>
<rect x="498" y="398.3" width="3.5" height="4" fill="#b0a6dc" stroke="none" stroke-width="1"/>
<text x="504.6" y="403.5" font-size="8.9" font-weight="normal" font-style="normal" text-anchor="start" fill="#000" stroke="#000" stroke-width="0.3">d12</text>
<text x="426.5" y="443.5" font-size="9.1" font-weight="normal" font-style="italic" text-anchor="middle" fill="#000" stroke="#000" stroke-width="0.3">MLL-ENL</text>
<text x="475.5" y="443.8" font-size="9.1" font-weight="normal" font-style="italic" text-anchor="middle" fill="#000" stroke="#000" stroke-width="0.3">MLL-AF9</text>
</svg>
</body></html>
